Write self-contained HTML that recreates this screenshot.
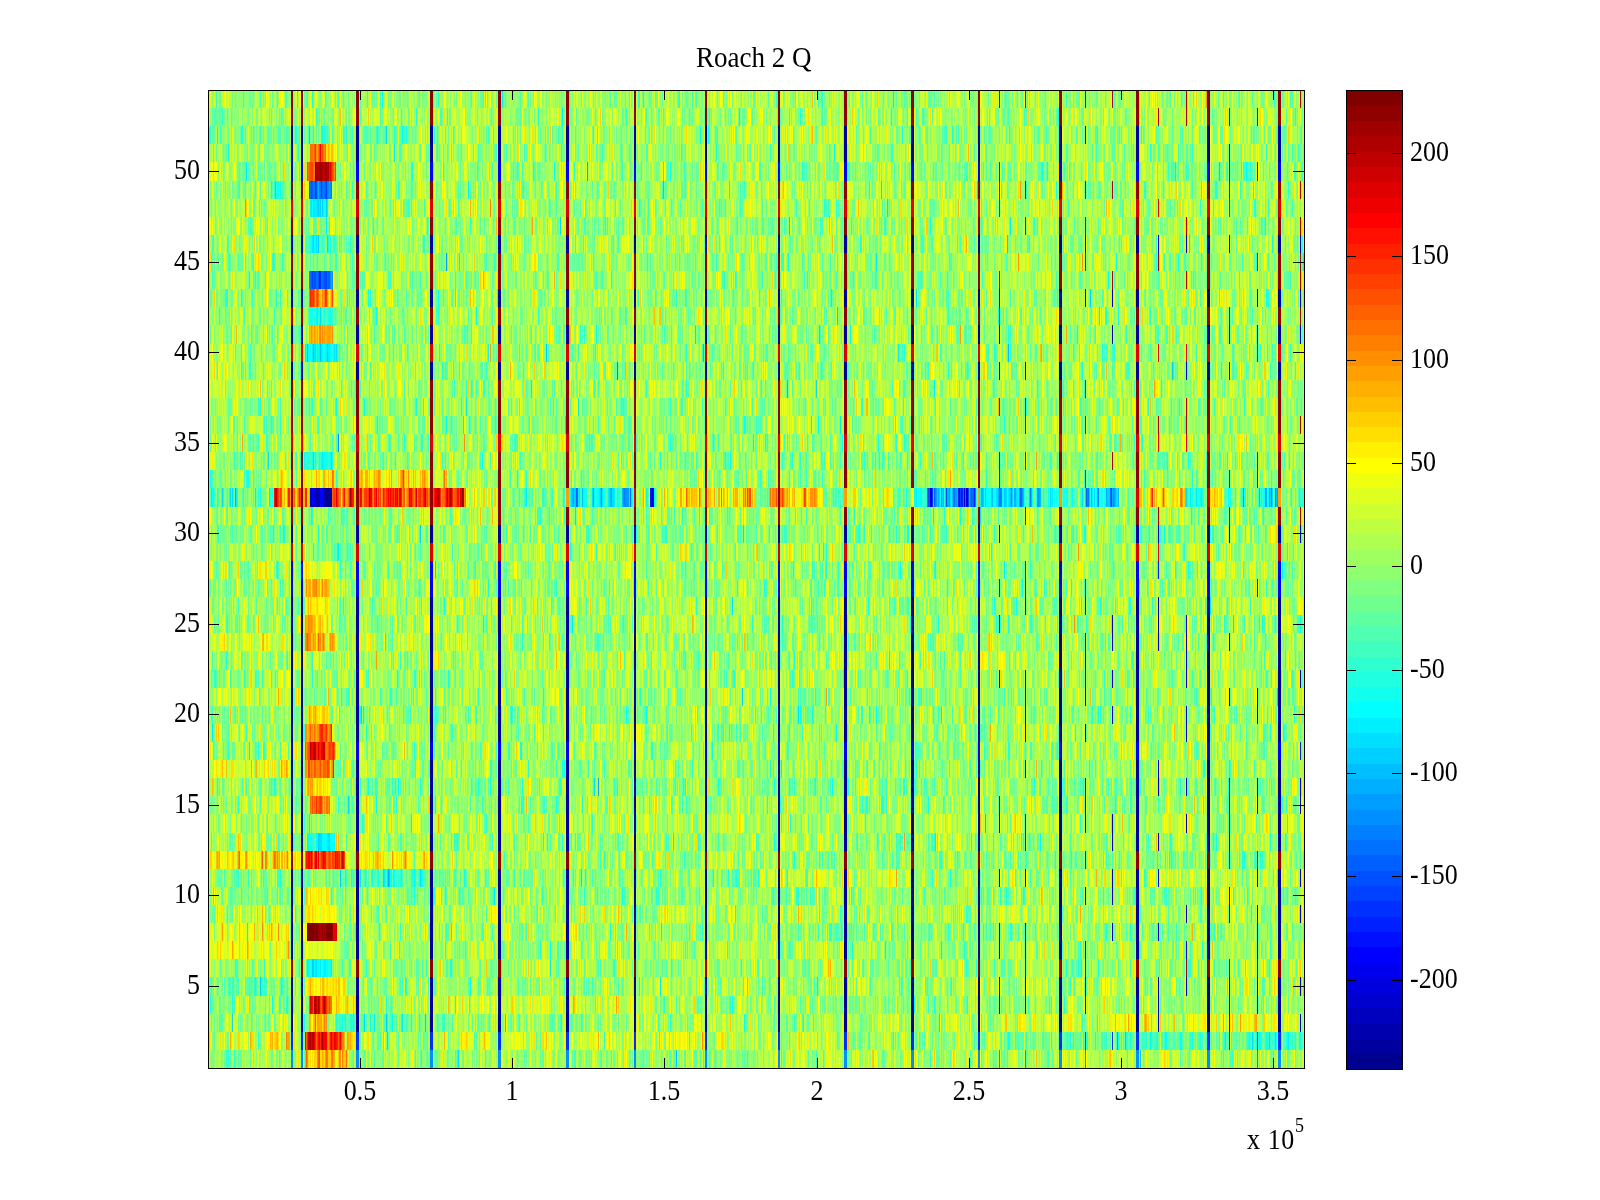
<!DOCTYPE html>
<html><head><meta charset="utf-8">
<style>
html,body{margin:0;padding:0;background:#fff;width:1600px;height:1200px;overflow:hidden}
#c{position:absolute;left:208px;top:90px;width:1097px;height:979px;image-rendering:pixelated}
svg{position:absolute;left:0;top:0}
.t{position:absolute;font-family:"Liberation Serif",serif;font-size:26px;line-height:26px;color:#000;white-space:nowrap;transform:scaleY(1.12);transform-origin:0 0}
.yl{text-align:right;width:60px}
.xl{text-align:center;width:80px}
</style></head><body>
<svg width="1600" height="1200" shape-rendering="crispEdges"><path fill="#80ff80" d="M208 886.9h1097v18.5h-1097zM208 868.8h1097v18.5h-1097zM208 778.2h1097v18.5h-1097zM208 705.8h1097v18.5h-1097zM208 524.7h1097v18.5h-1097z"/><path fill="#8fff70" d="M208 977.4h1097v18.5h-1097zM208 941.2h1097v18.5h-1097zM208 832.6h1097v18.5h-1097zM208 796.3h1097v18.5h-1097zM208 723.9h1097v18.5h-1097zM208 687.7h1097v18.5h-1097zM208 669.6h1097v18.5h-1097zM208 651.4h1097v18.5h-1097zM208 633.3h1097v18.5h-1097zM208 615.2h1097v18.5h-1097zM208 597.1h1097v18.5h-1097zM208 579.0h1097v18.5h-1097zM208 560.9h1097v18.5h-1097zM208 361.7h1097v18.5h-1097zM208 325.4h1097v18.5h-1097zM208 289.2h1097v18.5h-1097zM208 234.9h1097v18.5h-1097zM208 162.4h1097v18.5h-1097zM208 144.3h1097v18.5h-1097zM208 126.2h1097v18.5h-1097z"/><path fill="#9fff60" d="M208 1049.9h1097v18.5h-1097zM208 1031.8h1097v18.5h-1097zM208 1013.7h1097v18.5h-1097zM208 995.6h1097v18.5h-1097zM208 923.1h1097v18.5h-1097zM208 905.0h1097v18.5h-1097zM208 814.4h1097v18.5h-1097zM208 760.1h1097v18.5h-1097zM208 742.0h1097v18.5h-1097zM208 488.4h1097v18.5h-1097z"/><path fill="#afff50" d="M208 959.3h1097v18.5h-1097zM208 506.6h1097v18.5h-1097zM208 452.2h1097v18.5h-1097zM208 434.1h1097v18.5h-1097zM208 416.0h1097v18.5h-1097zM208 397.9h1097v18.5h-1097zM208 343.6h1097v18.5h-1097zM208 307.3h1097v18.5h-1097zM208 271.1h1097v18.5h-1097zM208 253.0h1097v18.5h-1097zM208 216.8h1097v18.5h-1097zM208 198.7h1097v18.5h-1097zM208 180.6h1097v18.5h-1097zM208 90.0h1097v18.5h-1097z"/><path fill="#bfff40" d="M208 542.8h1097v18.5h-1097zM208 470.3h1097v18.5h-1097zM208 379.8h1097v18.5h-1097zM208 108.1h1097v18.5h-1097z"/><path fill="#cfff30" d="M208 850.7h1097v18.5h-1097z"/><path fill="#00008f" d="M324 488.4h8v18.5h-8z"/><path fill="#0000af" d="M316 488.4h4v18.5h-4z"/><path fill="#0000df" d="M312 488.4h4v18.5h-4z"/><path fill="#0000ef" d="M320 488.4h4v18.5h-4z"/><path fill="#0000ff" d="M844 977.4h4v18.5h-4zM1136 941.2h4v18.5h-4zM356 868.8h4v18.5h-4zM1136 778.2h4v18.5h-4zM1136 760.1h4v18.5h-4zM844 723.9h4v18.5h-4zM356 705.8h4v18.5h-4zM964 488.4h4v18.5h-4z"/><path fill="#0010ff" d="M844 995.6h4v18.5h-4zM844 923.1h4v18.5h-4zM1136 905.0h4v18.5h-4zM356 796.3h4v18.5h-4zM844 778.2h4v18.5h-4zM844 760.1h4v18.5h-4zM356 723.9h4v18.5h-4zM844 651.4h4v18.5h-4zM1136 651.4h4v18.5h-4zM844 615.2h4v18.5h-4zM356 597.1h4v18.5h-4zM356 524.7h4v18.5h-4zM844 524.7h4v18.5h-4zM928 488.4h4v18.5h-4zM844 361.7h4v18.5h-4zM356 325.4h4v18.5h-4zM356 234.9h4v18.5h-4zM844 234.9h4v18.5h-4zM1136 144.3h4v18.5h-4z"/><path fill="#0020ff" d="M844 1013.7h4v18.5h-4zM356 995.6h4v18.5h-4zM1136 995.6h4v18.5h-4zM1136 977.4h4v18.5h-4zM356 941.2h4v18.5h-4zM844 941.2h4v18.5h-4zM356 923.1h4v18.5h-4zM1136 923.1h4v18.5h-4zM356 905.0h4v18.5h-4zM844 886.9h4v18.5h-4zM1136 886.9h4v18.5h-4zM844 868.8h4v18.5h-4zM356 832.6h4v18.5h-4zM844 832.6h4v18.5h-4zM356 814.4h4v18.5h-4zM844 814.4h4v18.5h-4zM844 796.3h4v18.5h-4zM1136 796.3h4v18.5h-4zM356 778.2h4v18.5h-4zM356 760.1h4v18.5h-4zM1136 723.9h4v18.5h-4zM844 705.8h4v18.5h-4zM1136 705.8h4v18.5h-4zM356 687.7h4v18.5h-4zM844 687.7h4v18.5h-4zM1136 687.7h4v18.5h-4zM1136 669.6h4v18.5h-4zM844 633.3h4v18.5h-4zM1136 633.3h4v18.5h-4zM356 615.2h4v18.5h-4zM1136 597.1h4v18.5h-4zM1136 524.7h4v18.5h-4zM356 361.7h4v18.5h-4zM1136 361.7h4v18.5h-4zM844 325.4h4v18.5h-4zM1136 325.4h4v18.5h-4zM844 289.2h4v18.5h-4zM1136 234.9h4v18.5h-4zM356 144.3h4v18.5h-4zM844 144.3h4v18.5h-4zM356 126.2h4v18.5h-4zM1136 126.2h4v18.5h-4z"/><path fill="#0030ff" d="M356 1013.7h4v18.5h-4zM1136 1013.7h4v18.5h-4zM356 977.4h4v18.5h-4zM844 905.0h4v18.5h-4zM356 886.9h4v18.5h-4zM1136 868.8h4v18.5h-4zM1136 832.6h4v18.5h-4zM1136 814.4h4v18.5h-4zM356 669.6h4v18.5h-4zM844 669.6h4v18.5h-4zM356 651.4h4v18.5h-4zM1136 615.2h4v18.5h-4zM844 597.1h4v18.5h-4zM356 289.2h4v18.5h-4zM1136 289.2h4v18.5h-4zM844 126.2h4v18.5h-4z"/><path fill="#0040ff" d="M356 633.3h4v18.5h-4zM1136 579.0h4v18.5h-4z"/><path fill="#0050ff" d="M956 488.4h8v18.5h-8zM312 271.1h16v18.5h-16zM844 162.4h4v18.5h-4z"/><path fill="#0060ff" d="M564 760.1h4v18.5h-4zM1276 687.7h4v18.5h-4zM356 579.0h4v18.5h-4zM1136 162.4h4v18.5h-4z"/><path fill="#0070ff" d="M912 995.6h4v18.5h-4zM912 778.2h4v18.5h-4zM1060 778.2h4v18.5h-4zM356 742.0h4v18.5h-4zM844 742.0h4v18.5h-4zM1136 742.0h4v18.5h-4zM1208 687.7h4v18.5h-4zM1208 597.1h4v18.5h-4zM844 560.9h4v18.5h-4zM968 488.4h8v18.5h-8zM312 180.6h16v18.5h-16zM1276 126.2h4v18.5h-4z"/><path fill="#0080ff" d="M356 1031.8h4v18.5h-4zM1136 1031.8h4v18.5h-4zM1276 995.6h4v18.5h-4zM564 977.4h4v18.5h-4zM564 941.2h4v18.5h-4zM428 923.1h4v18.5h-4zM1208 923.1h4v18.5h-4zM632 905.0h4v18.5h-4zM1060 905.0h4v18.5h-4zM976 886.9h4v18.5h-4zM300 868.8h4v18.5h-4zM428 868.8h4v18.5h-4zM564 868.8h4v18.5h-4zM976 832.6h4v18.5h-4zM632 796.3h4v18.5h-4zM1060 796.3h4v18.5h-4zM428 760.1h4v18.5h-4zM912 760.1h4v18.5h-4zM976 760.1h4v18.5h-4zM1208 723.9h4v18.5h-4zM776 651.4h4v18.5h-4zM976 615.2h4v18.5h-4zM1060 615.2h4v18.5h-4zM844 579.0h4v18.5h-4zM356 560.9h4v18.5h-4zM1136 560.9h4v18.5h-4zM632 524.7h4v18.5h-4zM652 488.4h4v18.5h-4zM932 488.4h4v18.5h-4zM300 361.7h4v18.5h-4zM776 325.4h4v18.5h-4zM496 289.2h4v18.5h-4zM328 271.1h4v18.5h-4zM1060 234.9h4v18.5h-4zM356 162.4h4v18.5h-4zM428 144.3h4v18.5h-4z"/><path fill="#008fff" d="M844 1031.8h4v18.5h-4zM300 1013.7h4v18.5h-4zM428 1013.7h4v18.5h-4zM776 995.6h4v18.5h-4zM1208 995.6h4v18.5h-4zM428 977.4h4v18.5h-4zM496 977.4h4v18.5h-4zM704 977.4h4v18.5h-4zM776 977.4h4v18.5h-4zM1060 977.4h4v18.5h-4zM300 941.2h4v18.5h-4zM704 941.2h4v18.5h-4zM1060 941.2h4v18.5h-4zM776 923.1h4v18.5h-4zM976 923.1h4v18.5h-4zM300 905.0h4v18.5h-4zM564 905.0h4v18.5h-4zM428 886.9h4v18.5h-4zM776 886.9h4v18.5h-4zM300 832.6h4v18.5h-4zM776 832.6h4v18.5h-4zM428 814.4h4v18.5h-4zM776 814.4h4v18.5h-4zM496 796.3h4v18.5h-4zM912 796.3h4v18.5h-4zM976 796.3h4v18.5h-4zM1276 796.3h4v18.5h-4zM300 778.2h4v18.5h-4zM776 778.2h4v18.5h-4zM1208 778.2h4v18.5h-4zM496 760.1h4v18.5h-4zM1208 760.1h4v18.5h-4zM300 723.9h4v18.5h-4zM976 723.9h4v18.5h-4zM300 705.8h4v18.5h-4zM496 705.8h4v18.5h-4zM776 705.8h4v18.5h-4zM1060 705.8h4v18.5h-4zM1208 705.8h4v18.5h-4zM1276 705.8h4v18.5h-4zM704 687.7h4v18.5h-4zM912 687.7h4v18.5h-4zM428 669.6h4v18.5h-4zM976 669.6h4v18.5h-4zM632 651.4h4v18.5h-4zM564 633.3h4v18.5h-4zM496 615.2h4v18.5h-4zM632 615.2h4v18.5h-4zM1208 615.2h4v18.5h-4zM1276 615.2h4v18.5h-4zM300 597.1h4v18.5h-4zM564 597.1h4v18.5h-4zM912 524.7h4v18.5h-4zM1208 524.7h4v18.5h-4zM624 488.4h4v18.5h-4zM952 488.4h4v18.5h-4zM1020 488.4h4v18.5h-4zM1108 488.4h8v18.5h-8zM912 361.7h4v18.5h-4zM976 361.7h4v18.5h-4zM1060 361.7h4v18.5h-4zM300 325.4h4v18.5h-4zM428 325.4h4v18.5h-4zM564 325.4h4v18.5h-4zM300 289.2h4v18.5h-4zM300 234.9h4v18.5h-4zM428 234.9h4v18.5h-4zM496 234.9h4v18.5h-4zM632 234.9h4v18.5h-4zM1276 234.9h4v18.5h-4zM328 180.6h4v18.5h-4zM496 144.3h4v18.5h-4zM632 126.2h4v18.5h-4zM976 126.2h4v18.5h-4z"/><path fill="#009fff" d="M496 1013.7h4v18.5h-4zM704 1013.7h4v18.5h-4zM776 1013.7h4v18.5h-4zM912 1013.7h4v18.5h-4zM976 1013.7h4v18.5h-4zM428 995.6h4v18.5h-4zM564 995.6h4v18.5h-4zM704 995.6h4v18.5h-4zM976 995.6h4v18.5h-4zM1060 995.6h4v18.5h-4zM300 977.4h4v18.5h-4zM632 977.4h4v18.5h-4zM776 941.2h4v18.5h-4zM976 941.2h4v18.5h-4zM912 923.1h4v18.5h-4zM1276 923.1h4v18.5h-4zM912 905.0h4v18.5h-4zM976 905.0h4v18.5h-4zM1208 905.0h4v18.5h-4zM1276 905.0h4v18.5h-4zM564 886.9h4v18.5h-4zM912 886.9h4v18.5h-4zM496 868.8h4v18.5h-4zM632 868.8h4v18.5h-4zM912 868.8h4v18.5h-4zM976 868.8h4v18.5h-4zM1060 868.8h4v18.5h-4zM496 832.6h4v18.5h-4zM704 832.6h4v18.5h-4zM1208 832.6h4v18.5h-4zM1276 832.6h4v18.5h-4zM496 814.4h4v18.5h-4zM632 814.4h4v18.5h-4zM1276 814.4h4v18.5h-4zM300 796.3h4v18.5h-4zM564 796.3h4v18.5h-4zM704 796.3h4v18.5h-4zM428 778.2h4v18.5h-4zM632 778.2h4v18.5h-4zM704 778.2h4v18.5h-4zM300 760.1h4v18.5h-4zM632 760.1h4v18.5h-4zM704 760.1h4v18.5h-4zM776 760.1h4v18.5h-4zM1060 760.1h4v18.5h-4zM976 742.0h4v18.5h-4zM428 723.9h4v18.5h-4zM776 723.9h4v18.5h-4zM912 723.9h4v18.5h-4zM1276 723.9h4v18.5h-4zM428 705.8h4v18.5h-4zM632 705.8h4v18.5h-4zM704 705.8h4v18.5h-4zM912 705.8h4v18.5h-4zM428 687.7h4v18.5h-4zM776 687.7h4v18.5h-4zM1060 687.7h4v18.5h-4zM564 669.6h4v18.5h-4zM632 669.6h4v18.5h-4zM1208 669.6h4v18.5h-4zM1276 669.6h4v18.5h-4zM428 651.4h4v18.5h-4zM704 651.4h4v18.5h-4zM976 651.4h4v18.5h-4zM428 633.3h4v18.5h-4zM496 633.3h4v18.5h-4zM776 633.3h4v18.5h-4zM912 633.3h4v18.5h-4zM564 615.2h4v18.5h-4zM776 615.2h4v18.5h-4zM912 615.2h4v18.5h-4zM428 597.1h4v18.5h-4zM496 597.1h4v18.5h-4zM776 597.1h4v18.5h-4zM976 597.1h4v18.5h-4zM1060 597.1h4v18.5h-4zM300 524.7h4v18.5h-4zM564 524.7h4v18.5h-4zM704 524.7h4v18.5h-4zM776 524.7h4v18.5h-4zM976 524.7h4v18.5h-4zM1060 524.7h4v18.5h-4zM704 361.7h4v18.5h-4zM776 361.7h4v18.5h-4zM1208 361.7h4v18.5h-4zM496 325.4h4v18.5h-4zM632 325.4h4v18.5h-4zM704 325.4h4v18.5h-4zM1060 325.4h4v18.5h-4zM1208 325.4h4v18.5h-4zM1276 325.4h4v18.5h-4zM428 289.2h4v18.5h-4zM704 289.2h4v18.5h-4zM1208 289.2h4v18.5h-4zM564 234.9h4v18.5h-4zM704 234.9h4v18.5h-4zM776 234.9h4v18.5h-4zM912 234.9h4v18.5h-4zM564 144.3h4v18.5h-4zM632 144.3h4v18.5h-4zM912 144.3h4v18.5h-4zM976 144.3h4v18.5h-4zM776 126.2h4v18.5h-4zM912 126.2h4v18.5h-4z"/><path fill="#00afff" d="M1276 1031.8h4v18.5h-4zM564 1013.7h4v18.5h-4zM1060 1013.7h4v18.5h-4zM300 995.6h4v18.5h-4zM912 977.4h4v18.5h-4zM1208 977.4h4v18.5h-4zM1276 977.4h4v18.5h-4zM428 941.2h4v18.5h-4zM496 941.2h4v18.5h-4zM632 941.2h4v18.5h-4zM912 941.2h4v18.5h-4zM1208 941.2h4v18.5h-4zM1276 941.2h4v18.5h-4zM496 923.1h4v18.5h-4zM704 923.1h4v18.5h-4zM1060 923.1h4v18.5h-4zM428 905.0h4v18.5h-4zM704 905.0h4v18.5h-4zM496 886.9h4v18.5h-4zM632 886.9h4v18.5h-4zM704 886.9h4v18.5h-4zM1060 886.9h4v18.5h-4zM1208 886.9h4v18.5h-4zM704 868.8h4v18.5h-4zM428 832.6h4v18.5h-4zM912 832.6h4v18.5h-4zM300 814.4h4v18.5h-4zM704 814.4h4v18.5h-4zM976 814.4h4v18.5h-4zM1060 814.4h4v18.5h-4zM1208 814.4h4v18.5h-4zM428 796.3h4v18.5h-4zM776 796.3h4v18.5h-4zM1208 796.3h4v18.5h-4zM564 778.2h4v18.5h-4zM1276 778.2h4v18.5h-4zM1276 760.1h4v18.5h-4zM912 742.0h4v18.5h-4zM496 723.9h4v18.5h-4zM632 723.9h4v18.5h-4zM704 723.9h4v18.5h-4zM1060 723.9h4v18.5h-4zM300 687.7h4v18.5h-4zM496 687.7h4v18.5h-4zM564 687.7h4v18.5h-4zM632 687.7h4v18.5h-4zM300 669.6h4v18.5h-4zM496 669.6h4v18.5h-4zM704 669.6h4v18.5h-4zM1060 669.6h4v18.5h-4zM564 651.4h4v18.5h-4zM912 651.4h4v18.5h-4zM1208 651.4h4v18.5h-4zM1276 651.4h4v18.5h-4zM300 633.3h4v18.5h-4zM632 633.3h4v18.5h-4zM1060 633.3h4v18.5h-4zM1208 633.3h4v18.5h-4zM1276 633.3h4v18.5h-4zM704 615.2h4v18.5h-4zM632 597.1h4v18.5h-4zM496 579.0h4v18.5h-4zM976 579.0h4v18.5h-4zM1208 579.0h4v18.5h-4zM1276 579.0h4v18.5h-4zM428 524.7h4v18.5h-4zM1276 524.7h4v18.5h-4zM572 488.4h8v18.5h-8zM428 361.7h4v18.5h-4zM564 361.7h4v18.5h-4zM632 361.7h4v18.5h-4zM1276 361.7h4v18.5h-4zM976 325.4h4v18.5h-4zM564 289.2h4v18.5h-4zM632 289.2h4v18.5h-4zM776 289.2h4v18.5h-4zM912 289.2h4v18.5h-4zM976 289.2h4v18.5h-4zM1060 289.2h4v18.5h-4zM1276 289.2h4v18.5h-4zM976 234.9h4v18.5h-4zM1208 234.9h4v18.5h-4zM300 144.3h4v18.5h-4zM776 144.3h4v18.5h-4zM1060 144.3h4v18.5h-4zM1276 144.3h4v18.5h-4zM300 126.2h4v18.5h-4zM428 126.2h4v18.5h-4zM564 126.2h4v18.5h-4zM704 126.2h4v18.5h-4z"/><path fill="#00bfff" d="M1208 1031.8h4v18.5h-4zM632 1013.7h4v18.5h-4zM496 995.6h4v18.5h-4zM632 995.6h4v18.5h-4zM976 977.4h4v18.5h-4zM564 923.1h4v18.5h-4zM776 905.0h4v18.5h-4zM300 886.9h4v18.5h-4zM1276 886.9h4v18.5h-4zM776 868.8h4v18.5h-4zM1208 868.8h4v18.5h-4zM564 832.6h4v18.5h-4zM632 832.6h4v18.5h-4zM1060 832.6h4v18.5h-4zM564 814.4h4v18.5h-4zM912 814.4h4v18.5h-4zM496 778.2h4v18.5h-4zM496 742.0h4v18.5h-4zM1208 742.0h4v18.5h-4zM564 723.9h4v18.5h-4zM564 705.8h4v18.5h-4zM976 705.8h4v18.5h-4zM976 687.7h4v18.5h-4zM912 669.6h4v18.5h-4zM496 651.4h4v18.5h-4zM1060 651.4h4v18.5h-4zM976 633.3h4v18.5h-4zM300 615.2h4v18.5h-4zM704 597.1h4v18.5h-4zM564 579.0h4v18.5h-4zM632 579.0h4v18.5h-4zM704 579.0h4v18.5h-4zM776 579.0h4v18.5h-4zM912 579.0h4v18.5h-4zM428 560.9h4v18.5h-4zM632 560.9h4v18.5h-4zM976 560.9h4v18.5h-4zM1208 560.9h4v18.5h-4zM1276 560.9h4v18.5h-4zM496 524.7h4v18.5h-4zM628 488.4h4v18.5h-4zM936 488.4h16v18.5h-16zM1036 488.4h4v18.5h-4zM496 361.7h4v18.5h-4zM308 180.6h4v18.5h-4zM632 162.4h4v18.5h-4zM776 162.4h4v18.5h-4zM1060 162.4h4v18.5h-4zM704 144.3h4v18.5h-4zM1208 144.3h4v18.5h-4zM496 126.2h4v18.5h-4zM1208 126.2h4v18.5h-4z"/><path fill="#00cfff" d="M356 1049.9h4v18.5h-4zM844 1049.9h4v18.5h-4zM1136 1049.9h4v18.5h-4zM912 1031.8h4v18.5h-4zM976 1031.8h4v18.5h-4zM1060 1031.8h4v18.5h-4zM1276 1013.7h4v18.5h-4zM300 923.1h4v18.5h-4zM632 923.1h4v18.5h-4zM496 905.0h4v18.5h-4zM1276 868.8h4v18.5h-4zM976 778.2h4v18.5h-4zM632 742.0h4v18.5h-4zM704 742.0h4v18.5h-4zM776 742.0h4v18.5h-4zM1276 742.0h4v18.5h-4zM776 669.6h4v18.5h-4zM300 651.4h4v18.5h-4zM704 633.3h4v18.5h-4zM428 615.2h4v18.5h-4zM912 597.1h4v18.5h-4zM1276 597.1h4v18.5h-4zM300 579.0h4v18.5h-4zM1060 579.0h4v18.5h-4zM300 560.9h4v18.5h-4zM496 560.9h4v18.5h-4zM912 560.9h4v18.5h-4zM608 488.4h4v18.5h-4zM648 488.4h4v18.5h-4zM980 488.4h4v18.5h-4zM996 488.4h24v18.5h-24zM1028 488.4h4v18.5h-4zM1084 488.4h8v18.5h-8zM912 325.4h4v18.5h-4zM308 271.1h4v18.5h-4zM496 162.4h4v18.5h-4zM564 162.4h4v18.5h-4zM976 162.4h4v18.5h-4zM1060 126.2h4v18.5h-4z"/><path fill="#00dfff" d="M300 1031.8h4v18.5h-4zM1256 1031.8h4v18.5h-4zM1208 1013.7h4v18.5h-4zM432 886.9h4v18.5h-4zM388 868.8h4v18.5h-4zM1280 796.3h4v18.5h-4zM300 742.0h4v18.5h-4zM428 742.0h4v18.5h-4zM564 742.0h4v18.5h-4zM908 687.7h4v18.5h-4zM564 560.9h4v18.5h-4zM704 560.9h4v18.5h-4zM776 560.9h4v18.5h-4zM1060 560.9h4v18.5h-4zM1096 488.4h4v18.5h-4zM1104 488.4h4v18.5h-4zM1264 488.4h12v18.5h-12zM312 343.6h4v18.5h-4zM300 162.4h4v18.5h-4zM428 162.4h4v18.5h-4zM912 162.4h4v18.5h-4zM1208 162.4h4v18.5h-4zM1276 162.4h4v18.5h-4z"/><path fill="#00efff" d="M428 1031.8h4v18.5h-4zM496 1031.8h4v18.5h-4zM1084 1031.8h4v18.5h-4zM568 1013.7h4v18.5h-4zM312 959.3h16v18.5h-16zM500 941.2h4v18.5h-4zM1056 923.1h4v18.5h-4zM1280 886.9h4v18.5h-4zM292 832.6h4v18.5h-4zM568 832.6h4v18.5h-4zM908 832.6h4v18.5h-4zM1228 814.4h4v18.5h-4zM432 796.3h4v18.5h-4zM288 778.2h4v18.5h-4zM500 778.2h4v18.5h-4zM1056 742.0h8v18.5h-8zM432 723.9h4v18.5h-4zM432 705.8h4v18.5h-4zM292 633.3h4v18.5h-4zM568 615.2h4v18.5h-4zM908 615.2h4v18.5h-4zM996 615.2h4v18.5h-4zM428 579.0h4v18.5h-4zM1056 524.7h4v18.5h-4zM1280 524.7h4v18.5h-4zM592 488.4h12v18.5h-12zM292 325.4h4v18.5h-4zM1056 289.2h4v18.5h-4zM312 234.9h8v18.5h-8zM312 198.7h16v18.5h-16zM704 162.4h4v18.5h-4z"/><path fill="#00ffff" d="M428 1049.9h4v18.5h-4zM632 1031.8h4v18.5h-4zM704 1031.8h4v18.5h-4zM776 1031.8h4v18.5h-4zM1056 995.6h4v18.5h-4zM432 977.4h4v18.5h-4zM500 977.4h4v18.5h-4zM1280 977.4h4v18.5h-4zM1300 977.4h4v18.5h-4zM1112 923.1h4v18.5h-4zM1256 923.1h4v18.5h-4zM432 905.0h4v18.5h-4zM308 832.6h24v18.5h-24zM1204 832.6h4v18.5h-4zM1056 796.3h4v18.5h-4zM1228 778.2h4v18.5h-4zM908 723.9h4v18.5h-4zM432 687.7h4v18.5h-4zM568 651.4h4v18.5h-4zM1204 633.3h4v18.5h-4zM1056 615.2h4v18.5h-4zM908 597.1h4v18.5h-4zM1056 597.1h4v18.5h-4zM1204 597.1h4v18.5h-4zM1280 560.9h4v18.5h-4zM500 524.7h4v18.5h-4zM908 524.7h4v18.5h-4zM1156 524.7h4v18.5h-4zM232 488.4h4v18.5h-4zM308 488.4h4v18.5h-4zM612 488.4h12v18.5h-12zM984 488.4h12v18.5h-12zM316 343.6h24v18.5h-24zM1204 325.4h4v18.5h-4zM288 126.2h8v18.5h-8zM908 126.2h4v18.5h-4z"/><path fill="#10ffef" d="M496 1049.9h4v18.5h-4zM564 1049.9h4v18.5h-4zM632 1049.9h4v18.5h-4zM704 1049.9h4v18.5h-4zM564 1031.8h4v18.5h-4zM1116 1031.8h4v18.5h-4zM1204 1031.8h4v18.5h-4zM500 1013.7h4v18.5h-4zM288 995.6h8v18.5h-8zM908 995.6h4v18.5h-4zM288 977.4h8v18.5h-8zM908 977.4h4v18.5h-4zM1056 977.4h4v18.5h-4zM1084 977.4h4v18.5h-4zM308 959.3h4v18.5h-4zM328 959.3h4v18.5h-4zM568 941.2h4v18.5h-4zM1084 941.2h4v18.5h-4zM1184 941.2h4v18.5h-4zM1256 941.2h4v18.5h-4zM1024 923.1h4v18.5h-4zM1156 923.1h4v18.5h-4zM288 886.9h8v18.5h-8zM500 886.9h4v18.5h-4zM568 886.9h4v18.5h-4zM908 886.9h4v18.5h-4zM288 868.8h8v18.5h-8zM384 868.8h4v18.5h-4zM412 868.8h4v18.5h-4zM420 868.8h4v18.5h-4zM432 868.8h4v18.5h-4zM288 796.3h8v18.5h-8zM1256 778.2h4v18.5h-4zM1280 778.2h4v18.5h-4zM500 760.1h4v18.5h-4zM1204 760.1h4v18.5h-4zM288 723.9h8v18.5h-8zM500 723.9h4v18.5h-4zM1056 723.9h4v18.5h-4zM568 705.8h4v18.5h-4zM1280 687.7h4v18.5h-4zM432 669.6h4v18.5h-4zM568 669.6h4v18.5h-4zM996 669.6h4v18.5h-4zM1280 669.6h4v18.5h-4zM432 633.3h4v18.5h-4zM1056 633.3h4v18.5h-4zM1280 633.3h4v18.5h-4zM288 615.2h8v18.5h-8zM288 597.1h8v18.5h-8zM432 524.7h4v18.5h-4zM580 488.4h8v18.5h-8zM916 488.4h12v18.5h-12zM1040 488.4h4v18.5h-4zM1048 488.4h8v18.5h-8zM1080 488.4h4v18.5h-4zM1092 488.4h4v18.5h-4zM1116 488.4h4v18.5h-4zM1196 488.4h8v18.5h-8zM1240 488.4h4v18.5h-4zM320 452.2h12v18.5h-12zM432 361.7h4v18.5h-4zM908 361.7h4v18.5h-4zM1184 361.7h4v18.5h-4zM1228 325.4h4v18.5h-4zM1280 325.4h4v18.5h-4zM500 289.2h4v18.5h-4zM1280 289.2h4v18.5h-4zM1300 289.2h4v18.5h-4zM288 234.9h8v18.5h-8zM908 162.4h4v18.5h-4zM1056 144.3h4v18.5h-4zM432 126.2h4v18.5h-4zM568 126.2h4v18.5h-4zM1204 126.2h4v18.5h-4zM1280 126.2h4v18.5h-4z"/><path fill="#20ffdf" d="M300 1049.9h4v18.5h-4zM1164 1031.8h4v18.5h-4zM288 1013.7h4v18.5h-4zM384 1013.7h4v18.5h-4zM908 1013.7h4v18.5h-4zM996 995.6h4v18.5h-4zM1024 995.6h4v18.5h-4zM1228 995.6h4v18.5h-4zM1256 995.6h4v18.5h-4zM260 977.4h4v18.5h-4zM432 941.2h4v18.5h-4zM1056 941.2h4v18.5h-4zM292 923.1h4v18.5h-4zM432 923.1h4v18.5h-4zM288 905.0h8v18.5h-8zM908 905.0h4v18.5h-4zM1056 905.0h4v18.5h-4zM1204 905.0h4v18.5h-4zM1280 905.0h4v18.5h-4zM1112 886.9h4v18.5h-4zM500 868.8h4v18.5h-4zM568 868.8h4v18.5h-4zM1056 868.8h4v18.5h-4zM1112 868.8h4v18.5h-4zM432 832.6h4v18.5h-4zM1024 832.6h4v18.5h-4zM1056 832.6h4v18.5h-4zM1228 832.6h4v18.5h-4zM1280 832.6h4v18.5h-4zM1084 814.4h4v18.5h-4zM1112 814.4h4v18.5h-4zM908 796.3h4v18.5h-4zM1204 796.3h4v18.5h-4zM1228 796.3h4v18.5h-4zM432 778.2h4v18.5h-4zM568 778.2h4v18.5h-4zM1156 778.2h4v18.5h-4zM568 760.1h4v18.5h-4zM908 760.1h4v18.5h-4zM500 742.0h4v18.5h-4zM568 723.9h4v18.5h-4zM1084 723.9h4v18.5h-4zM1280 723.9h4v18.5h-4zM288 705.8h8v18.5h-8zM360 705.8h4v18.5h-4zM1280 705.8h4v18.5h-4zM288 687.7h8v18.5h-8zM1024 687.7h4v18.5h-4zM1228 687.7h4v18.5h-4zM1256 687.7h4v18.5h-4zM500 669.6h4v18.5h-4zM1084 669.6h4v18.5h-4zM1204 669.6h4v18.5h-4zM1300 669.6h4v18.5h-4zM288 651.4h4v18.5h-4zM1204 651.4h4v18.5h-4zM1280 651.4h4v18.5h-4zM568 633.3h4v18.5h-4zM908 633.3h4v18.5h-4zM1084 633.3h4v18.5h-4zM1184 615.2h4v18.5h-4zM1024 597.1h4v18.5h-4zM1056 579.0h4v18.5h-4zM1084 579.0h4v18.5h-4zM908 560.9h4v18.5h-4zM1156 560.9h4v18.5h-4zM1300 524.7h4v18.5h-4zM524 488.4h4v18.5h-4zM1064 488.4h4v18.5h-4zM304 452.2h12v18.5h-12zM288 361.7h8v18.5h-8zM996 361.7h4v18.5h-4zM1172 361.7h4v18.5h-4zM1204 361.7h4v18.5h-4zM1280 361.7h4v18.5h-4zM304 343.6h8v18.5h-8zM908 325.4h4v18.5h-4zM1256 325.4h4v18.5h-4zM308 307.3h24v18.5h-24zM996 289.2h4v18.5h-4zM308 234.9h4v18.5h-4zM432 234.9h4v18.5h-4zM500 234.9h4v18.5h-4zM1156 234.9h4v18.5h-4zM1204 234.9h4v18.5h-4zM1300 234.9h4v18.5h-4zM1204 162.4h4v18.5h-4zM1228 162.4h4v18.5h-4zM1244 162.4h4v18.5h-4zM568 144.3h4v18.5h-4zM1204 144.3h4v18.5h-4zM1228 144.3h4v18.5h-4zM1280 144.3h4v18.5h-4zM1056 126.2h4v18.5h-4z"/><path fill="#30ffcf" d="M456 1049.9h4v18.5h-4zM976 1049.9h4v18.5h-4zM1060 1049.9h4v18.5h-4zM1208 1049.9h4v18.5h-4zM1124 1031.8h8v18.5h-8zM1180 1031.8h4v18.5h-4zM1224 1031.8h8v18.5h-8zM1248 1031.8h8v18.5h-8zM1260 1031.8h16v18.5h-16zM1280 1031.8h16v18.5h-16zM336 1013.7h20v18.5h-20zM1056 1013.7h4v18.5h-4zM1280 1013.7h4v18.5h-4zM500 995.6h4v18.5h-4zM1204 995.6h4v18.5h-4zM280 977.4h4v18.5h-4zM1204 977.4h4v18.5h-4zM1228 977.4h4v18.5h-4zM292 941.2h4v18.5h-4zM1204 941.2h4v18.5h-4zM908 923.1h4v18.5h-4zM996 923.1h4v18.5h-4zM500 905.0h4v18.5h-4zM568 905.0h4v18.5h-4zM1228 905.0h4v18.5h-4zM492 886.9h4v18.5h-4zM1056 886.9h4v18.5h-4zM340 868.8h8v18.5h-8zM392 868.8h4v18.5h-4zM400 868.8h4v18.5h-4zM736 868.8h4v18.5h-4zM996 868.8h4v18.5h-4zM1156 868.8h4v18.5h-4zM1204 868.8h4v18.5h-4zM500 832.6h4v18.5h-4zM932 832.6h4v18.5h-4zM1112 832.6h4v18.5h-4zM288 814.4h8v18.5h-8zM500 814.4h4v18.5h-4zM996 814.4h4v18.5h-4zM1024 814.4h4v18.5h-4zM1280 814.4h4v18.5h-4zM348 796.3h4v18.5h-4zM568 796.3h4v18.5h-4zM996 796.3h4v18.5h-4zM1084 796.3h4v18.5h-4zM292 778.2h4v18.5h-4zM1080 778.2h8v18.5h-8zM1184 778.2h4v18.5h-4zM1204 778.2h4v18.5h-4zM1280 760.1h4v18.5h-4zM432 742.0h4v18.5h-4zM908 742.0h4v18.5h-4zM1184 723.9h4v18.5h-4zM500 705.8h4v18.5h-4zM644 705.8h4v18.5h-4zM1184 705.8h4v18.5h-4zM1204 705.8h4v18.5h-4zM1256 705.8h4v18.5h-4zM568 687.7h4v18.5h-4zM1056 669.6h4v18.5h-4zM1112 669.6h4v18.5h-4zM500 651.4h4v18.5h-4zM1084 651.4h4v18.5h-4zM500 633.3h4v18.5h-4zM1112 633.3h4v18.5h-4zM1156 633.3h4v18.5h-4zM432 597.1h4v18.5h-4zM1084 597.1h4v18.5h-4zM288 579.0h8v18.5h-8zM500 579.0h4v18.5h-4zM996 579.0h4v18.5h-4zM288 560.9h8v18.5h-8zM336 542.8h4v18.5h-4zM288 524.7h8v18.5h-8zM568 524.7h4v18.5h-4zM996 524.7h4v18.5h-4zM208 488.4h8v18.5h-8zM220 488.4h4v18.5h-4zM228 488.4h4v18.5h-4zM604 488.4h4v18.5h-4zM1100 488.4h4v18.5h-4zM1184 488.4h12v18.5h-12zM1256 488.4h8v18.5h-8zM1008 343.6h4v18.5h-4zM288 325.4h4v18.5h-4zM500 325.4h4v18.5h-4zM568 325.4h4v18.5h-4zM1300 325.4h4v18.5h-4zM288 289.2h8v18.5h-8zM432 289.2h4v18.5h-4zM272 253.0h4v18.5h-4zM1056 234.9h4v18.5h-4zM432 162.4h4v18.5h-4zM996 162.4h4v18.5h-4zM1040 162.4h4v18.5h-4zM1172 162.4h4v18.5h-4zM288 144.3h8v18.5h-8zM500 144.3h4v18.5h-4zM320 126.2h8v18.5h-8zM500 126.2h4v18.5h-4z"/><path fill="#40ffbf" d="M776 1049.9h4v18.5h-4zM1276 1049.9h4v18.5h-4zM500 1031.8h4v18.5h-4zM908 1031.8h4v18.5h-4zM1140 1031.8h20v18.5h-20zM372 1013.7h4v18.5h-4zM1084 995.6h4v18.5h-4zM1280 995.6h4v18.5h-4zM208 977.4h4v18.5h-4zM248 977.4h8v18.5h-8zM568 977.4h4v18.5h-4zM996 977.4h4v18.5h-4zM1184 977.4h4v18.5h-4zM1256 977.4h4v18.5h-4zM1188 959.3h4v18.5h-4zM908 941.2h4v18.5h-4zM996 941.2h4v18.5h-4zM1024 941.2h4v18.5h-4zM1280 941.2h4v18.5h-4zM500 923.1h4v18.5h-4zM568 923.1h4v18.5h-4zM1104 923.1h4v18.5h-4zM1280 923.1h4v18.5h-4zM1184 905.0h4v18.5h-4zM796 886.9h4v18.5h-4zM352 868.8h4v18.5h-4zM372 868.8h8v18.5h-8zM908 868.8h4v18.5h-4zM1256 868.8h4v18.5h-4zM1280 868.8h4v18.5h-4zM1260 850.7h4v18.5h-4zM332 832.6h4v18.5h-4zM456 832.6h4v18.5h-4zM568 814.4h4v18.5h-4zM908 814.4h4v18.5h-4zM1204 814.4h4v18.5h-4zM500 796.3h4v18.5h-4zM520 796.3h4v18.5h-4zM864 796.3h4v18.5h-4zM1256 796.3h4v18.5h-4zM272 778.2h4v18.5h-4zM392 778.2h4v18.5h-4zM592 778.2h4v18.5h-4zM908 778.2h4v18.5h-4zM1056 778.2h4v18.5h-4zM288 760.1h8v18.5h-8zM432 760.1h4v18.5h-4zM1024 760.1h4v18.5h-4zM1056 760.1h4v18.5h-4zM1156 760.1h4v18.5h-4zM288 742.0h8v18.5h-8zM1280 742.0h4v18.5h-4zM1300 742.0h4v18.5h-4zM720 723.9h4v18.5h-4zM796 705.8h8v18.5h-8zM908 705.8h4v18.5h-4zM1056 705.8h4v18.5h-4zM1112 705.8h4v18.5h-4zM1056 687.7h4v18.5h-4zM1084 687.7h4v18.5h-4zM1204 687.7h4v18.5h-4zM288 669.6h8v18.5h-8zM732 669.6h4v18.5h-4zM908 669.6h4v18.5h-4zM1024 669.6h4v18.5h-4zM1184 669.6h4v18.5h-4zM908 651.4h4v18.5h-4zM1056 651.4h4v18.5h-4zM288 633.3h4v18.5h-4zM596 633.3h4v18.5h-4zM1228 633.3h4v18.5h-4zM432 615.2h4v18.5h-4zM500 615.2h4v18.5h-4zM1112 615.2h4v18.5h-4zM1204 615.2h4v18.5h-4zM1224 615.2h4v18.5h-4zM500 597.1h4v18.5h-4zM568 597.1h4v18.5h-4zM1280 597.1h4v18.5h-4zM908 579.0h4v18.5h-4zM1024 579.0h4v18.5h-4zM1256 579.0h4v18.5h-4zM1280 579.0h4v18.5h-4zM276 560.9h4v18.5h-4zM500 560.9h4v18.5h-4zM1024 560.9h4v18.5h-4zM1204 560.9h4v18.5h-4zM740 524.7h4v18.5h-4zM856 524.7h4v18.5h-4zM1204 524.7h4v18.5h-4zM1228 524.7h4v18.5h-4zM1244 488.4h4v18.5h-4zM208 470.3h4v18.5h-4zM336 434.1h4v18.5h-4zM744 416.0h4v18.5h-4zM620 397.9h4v18.5h-4zM500 361.7h4v18.5h-4zM568 361.7h4v18.5h-4zM1024 361.7h4v18.5h-4zM1056 361.7h4v18.5h-4zM544 343.6h4v18.5h-4zM996 325.4h4v18.5h-4zM1056 325.4h4v18.5h-4zM224 289.2h4v18.5h-4zM568 289.2h4v18.5h-4zM828 289.2h4v18.5h-4zM908 289.2h4v18.5h-4zM1112 289.2h4v18.5h-4zM1256 289.2h4v18.5h-4zM320 234.9h16v18.5h-16zM1084 234.9h4v18.5h-4zM1184 234.9h4v18.5h-4zM1280 234.9h4v18.5h-4zM272 180.6h12v18.5h-12zM500 162.4h4v18.5h-4zM1280 162.4h4v18.5h-4zM432 144.3h4v18.5h-4zM376 126.2h4v18.5h-4zM384 126.2h4v18.5h-4zM400 126.2h8v18.5h-8zM1084 126.2h4v18.5h-4z"/><path fill="#50ffaf" d="M224 1049.9h8v18.5h-8zM288 1049.9h8v18.5h-8zM432 1049.9h4v18.5h-4zM676 1049.9h4v18.5h-4zM912 1049.9h4v18.5h-4zM1024 1049.9h4v18.5h-4zM1004 1031.8h8v18.5h-8zM1016 1031.8h8v18.5h-8zM1056 1031.8h4v18.5h-4zM1064 1031.8h12v18.5h-12zM1112 1031.8h4v18.5h-4zM1188 1031.8h16v18.5h-16zM1296 1031.8h8v18.5h-8zM292 1013.7h4v18.5h-4zM400 1013.7h8v18.5h-8zM432 1013.7h8v18.5h-8zM744 1013.7h4v18.5h-4zM1300 1013.7h4v18.5h-4zM284 995.6h4v18.5h-4zM432 995.6h4v18.5h-4zM1048 995.6h4v18.5h-4zM1156 995.6h4v18.5h-4zM228 977.4h4v18.5h-4zM468 977.4h4v18.5h-4zM1156 977.4h4v18.5h-4zM612 959.3h4v18.5h-4zM964 941.2h4v18.5h-4zM288 923.1h4v18.5h-4zM828 923.1h4v18.5h-4zM836 923.1h8v18.5h-8zM928 923.1h4v18.5h-4zM1008 923.1h4v18.5h-4zM1204 923.1h4v18.5h-4zM1256 905.0h4v18.5h-4zM896 850.7h4v18.5h-4zM896 832.6h4v18.5h-4zM1212 832.6h4v18.5h-4zM308 814.4h4v18.5h-4zM432 814.4h4v18.5h-4zM484 814.4h4v18.5h-4zM1056 814.4h4v18.5h-4zM556 796.3h4v18.5h-4zM880 796.3h4v18.5h-4zM1064 796.3h4v18.5h-4zM412 760.1h4v18.5h-4zM628 760.1h4v18.5h-4zM508 742.0h4v18.5h-4zM1204 742.0h4v18.5h-4zM1024 723.9h4v18.5h-4zM1264 723.9h4v18.5h-4zM388 687.7h4v18.5h-4zM500 687.7h4v18.5h-4zM212 669.6h4v18.5h-4zM292 651.4h4v18.5h-4zM432 651.4h4v18.5h-4zM1184 651.4h4v18.5h-4zM808 615.2h4v18.5h-4zM1128 597.1h4v18.5h-4zM1152 597.1h8v18.5h-8zM764 579.0h4v18.5h-4zM868 560.9h4v18.5h-4zM1056 560.9h4v18.5h-4zM308 506.6h4v18.5h-4zM340 506.6h8v18.5h-8zM536 506.6h4v18.5h-4zM960 506.6h4v18.5h-4zM236 488.4h8v18.5h-8zM268 488.4h4v18.5h-4zM528 488.4h4v18.5h-4zM568 488.4h4v18.5h-4zM832 488.4h12v18.5h-12zM896 488.4h4v18.5h-4zM1024 488.4h4v18.5h-4zM1032 488.4h4v18.5h-4zM1068 488.4h8v18.5h-8zM1224 488.4h8v18.5h-8zM1296 488.4h8v18.5h-8zM316 452.2h4v18.5h-4zM724 452.2h8v18.5h-8zM388 434.1h4v18.5h-4zM512 434.1h4v18.5h-4zM584 434.1h8v18.5h-8zM668 434.1h8v18.5h-8zM764 434.1h4v18.5h-4zM376 416.0h4v18.5h-4zM468 416.0h4v18.5h-4zM1080 397.9h8v18.5h-8zM1260 397.9h4v18.5h-4zM784 379.8h4v18.5h-4zM444 361.7h4v18.5h-4zM616 361.7h4v18.5h-4zM744 361.7h4v18.5h-4zM784 361.7h4v18.5h-4zM820 361.7h4v18.5h-4zM1228 361.7h8v18.5h-8zM700 343.6h4v18.5h-4zM1100 343.6h8v18.5h-8zM432 325.4h4v18.5h-4zM464 325.4h4v18.5h-4zM956 325.4h4v18.5h-4zM1112 325.4h4v18.5h-4zM684 289.2h4v18.5h-4zM916 289.2h4v18.5h-4zM1084 289.2h8v18.5h-8zM440 253.0h8v18.5h-8zM780 253.0h4v18.5h-4zM948 253.0h4v18.5h-4zM908 234.9h4v18.5h-4zM920 234.9h4v18.5h-4zM248 216.8h4v18.5h-4zM604 216.8h4v18.5h-4zM884 216.8h4v18.5h-4zM308 198.7h4v18.5h-4zM404 198.7h8v18.5h-8zM824 198.7h4v18.5h-4zM236 180.6h4v18.5h-4zM468 180.6h4v18.5h-4zM244 162.4h4v18.5h-4zM288 162.4h8v18.5h-8zM516 162.4h4v18.5h-4zM532 162.4h4v18.5h-4zM964 162.4h4v18.5h-4zM1248 162.4h4v18.5h-4zM240 126.2h4v18.5h-4zM296 126.2h4v18.5h-4zM308 126.2h4v18.5h-4zM344 126.2h4v18.5h-4zM364 126.2h4v18.5h-4zM316 108.1h4v18.5h-4zM708 108.1h4v18.5h-4z"/><path fill="#60ff9f" d="M572 1049.9h4v18.5h-4zM744 1049.9h4v18.5h-4zM992 1049.9h8v18.5h-8zM1056 1049.9h4v18.5h-4zM424 1031.8h4v18.5h-4zM432 1031.8h4v18.5h-4zM568 1031.8h4v18.5h-4zM852 1031.8h4v18.5h-4zM892 1031.8h4v18.5h-4zM1032 1031.8h4v18.5h-4zM1080 1031.8h4v18.5h-4zM1092 1031.8h4v18.5h-4zM1100 1031.8h8v18.5h-8zM1168 1031.8h12v18.5h-12zM1216 1031.8h4v18.5h-4zM1244 1031.8h4v18.5h-4zM220 1013.7h4v18.5h-4zM360 1013.7h8v18.5h-8zM388 1013.7h8v18.5h-8zM580 1013.7h4v18.5h-4zM936 1013.7h4v18.5h-4zM1156 1013.7h4v18.5h-4zM1204 1013.7h4v18.5h-4zM232 995.6h4v18.5h-4zM568 995.6h4v18.5h-4zM728 995.6h4v18.5h-4zM932 995.6h4v18.5h-4zM964 995.6h4v18.5h-4zM1180 995.6h4v18.5h-4zM296 959.3h4v18.5h-4zM348 959.3h4v18.5h-4zM444 959.3h8v18.5h-8zM716 959.3h4v18.5h-4zM804 959.3h4v18.5h-4zM896 959.3h4v18.5h-4zM932 959.3h4v18.5h-4zM964 959.3h4v18.5h-4zM1000 959.3h4v18.5h-4zM1064 959.3h4v18.5h-4zM1072 959.3h12v18.5h-12zM1156 959.3h4v18.5h-4zM848 923.1h4v18.5h-4zM872 923.1h4v18.5h-4zM948 923.1h4v18.5h-4zM988 923.1h4v18.5h-4zM1128 923.1h4v18.5h-4zM1212 923.1h4v18.5h-4zM1220 923.1h4v18.5h-4zM636 905.0h4v18.5h-4zM764 905.0h4v18.5h-4zM840 905.0h4v18.5h-4zM1300 905.0h4v18.5h-4zM604 850.7h4v18.5h-4zM792 850.7h4v18.5h-4zM956 850.7h4v18.5h-4zM1164 850.7h12v18.5h-12zM360 814.4h4v18.5h-4zM1184 814.4h4v18.5h-4zM560 760.1h4v18.5h-4zM736 760.1h4v18.5h-4zM1228 760.1h4v18.5h-4zM392 742.0h4v18.5h-4zM520 742.0h4v18.5h-4zM652 742.0h4v18.5h-4zM664 742.0h4v18.5h-4zM916 742.0h4v18.5h-4zM984 742.0h4v18.5h-4zM1196 742.0h4v18.5h-4zM1260 742.0h4v18.5h-4zM332 542.8h4v18.5h-4zM388 506.6h4v18.5h-4zM548 506.6h4v18.5h-4zM668 506.6h4v18.5h-4zM924 506.6h4v18.5h-4zM972 506.6h4v18.5h-4zM216 488.4h4v18.5h-4zM252 488.4h12v18.5h-12zM544 488.4h4v18.5h-4zM644 488.4h4v18.5h-4zM764 488.4h4v18.5h-4zM824 488.4h4v18.5h-4zM904 488.4h4v18.5h-4zM1044 488.4h4v18.5h-4zM244 470.3h8v18.5h-8zM932 470.3h4v18.5h-4zM1144 470.3h4v18.5h-4zM268 452.2h4v18.5h-4zM380 452.2h4v18.5h-4zM684 452.2h4v18.5h-4zM864 452.2h4v18.5h-4zM872 452.2h12v18.5h-12zM960 452.2h4v18.5h-4zM1048 452.2h4v18.5h-4zM1096 452.2h4v18.5h-4zM1132 452.2h4v18.5h-4zM1156 452.2h12v18.5h-12zM1188 452.2h4v18.5h-4zM420 434.1h4v18.5h-4zM628 434.1h4v18.5h-4zM712 434.1h8v18.5h-8zM840 434.1h4v18.5h-4zM876 434.1h4v18.5h-4zM904 434.1h4v18.5h-4zM264 416.0h8v18.5h-8zM444 416.0h8v18.5h-8zM492 416.0h4v18.5h-4zM624 416.0h8v18.5h-8zM756 416.0h4v18.5h-4zM840 416.0h4v18.5h-4zM900 416.0h4v18.5h-4zM1168 416.0h4v18.5h-4zM256 397.9h4v18.5h-4zM296 397.9h4v18.5h-4zM308 397.9h4v18.5h-4zM364 397.9h4v18.5h-4zM668 397.9h4v18.5h-4zM680 397.9h4v18.5h-4zM760 397.9h4v18.5h-4zM1176 397.9h4v18.5h-4zM528 379.8h4v18.5h-4zM932 379.8h4v18.5h-4zM992 379.8h4v18.5h-4zM1036 379.8h4v18.5h-4zM248 343.6h4v18.5h-4zM592 343.6h4v18.5h-4zM744 343.6h4v18.5h-4zM764 343.6h4v18.5h-4zM896 343.6h8v18.5h-8zM992 343.6h4v18.5h-4zM1112 343.6h4v18.5h-4zM1272 343.6h4v18.5h-4zM332 307.3h8v18.5h-8zM372 307.3h4v18.5h-4zM436 307.3h4v18.5h-4zM248 271.1h12v18.5h-12zM352 271.1h4v18.5h-4zM388 271.1h4v18.5h-4zM724 271.1h4v18.5h-4zM804 271.1h4v18.5h-4zM1156 271.1h4v18.5h-4zM1192 271.1h4v18.5h-4zM228 253.0h4v18.5h-4zM384 253.0h4v18.5h-4zM484 253.0h4v18.5h-4zM492 253.0h4v18.5h-4zM644 253.0h4v18.5h-4zM740 253.0h4v18.5h-4zM1176 253.0h4v18.5h-4zM1184 253.0h4v18.5h-4zM320 216.8h8v18.5h-8zM512 216.8h4v18.5h-4zM820 216.8h4v18.5h-4zM928 216.8h4v18.5h-4zM1008 216.8h4v18.5h-4zM700 198.7h4v18.5h-4zM740 198.7h4v18.5h-4zM836 198.7h4v18.5h-4zM1120 198.7h4v18.5h-4zM1252 198.7h4v18.5h-4zM396 180.6h4v18.5h-4zM660 180.6h8v18.5h-8zM740 180.6h4v18.5h-4zM1144 180.6h4v18.5h-4zM560 108.1h4v18.5h-4zM1292 108.1h4v18.5h-4zM480 90.0h4v18.5h-4zM676 90.0h4v18.5h-4zM892 90.0h4v18.5h-4zM904 90.0h4v18.5h-4zM928 90.0h4v18.5h-4zM1004 90.0h4v18.5h-4zM1076 90.0h4v18.5h-4z"/><path fill="#70ff8f" d="M236 959.3h4v18.5h-4zM304 959.3h4v18.5h-4zM340 959.3h4v18.5h-4zM364 959.3h4v18.5h-4zM396 959.3h8v18.5h-8zM556 959.3h4v18.5h-4zM596 959.3h4v18.5h-4zM660 959.3h4v18.5h-4zM740 959.3h4v18.5h-4zM1008 959.3h4v18.5h-4zM1216 959.3h4v18.5h-4zM1268 959.3h4v18.5h-4zM504 850.7h4v18.5h-4zM760 850.7h4v18.5h-4zM1004 850.7h8v18.5h-8zM1020 850.7h8v18.5h-8zM1052 850.7h4v18.5h-4zM1068 850.7h16v18.5h-16zM1184 850.7h12v18.5h-12zM1236 850.7h12v18.5h-12zM1252 850.7h4v18.5h-4zM340 542.8h12v18.5h-12zM376 542.8h4v18.5h-4zM468 542.8h4v18.5h-4zM476 542.8h8v18.5h-8zM824 542.8h4v18.5h-4zM1068 542.8h4v18.5h-4zM1104 542.8h8v18.5h-8zM328 506.6h4v18.5h-4zM368 506.6h4v18.5h-4zM448 506.6h4v18.5h-4zM572 506.6h4v18.5h-4zM708 506.6h4v18.5h-4zM724 506.6h8v18.5h-8zM848 506.6h4v18.5h-4zM884 506.6h4v18.5h-4zM980 506.6h4v18.5h-4zM1048 506.6h4v18.5h-4zM1128 506.6h4v18.5h-4zM1224 506.6h4v18.5h-4zM1244 506.6h4v18.5h-4zM1252 506.6h4v18.5h-4zM1268 506.6h4v18.5h-4zM212 470.3h4v18.5h-4zM524 470.3h4v18.5h-4zM580 470.3h8v18.5h-8zM716 470.3h4v18.5h-4zM756 470.3h8v18.5h-8zM768 470.3h8v18.5h-8zM812 470.3h4v18.5h-4zM984 470.3h4v18.5h-4zM1000 470.3h4v18.5h-4zM1088 470.3h4v18.5h-4zM1164 470.3h4v18.5h-4zM232 452.2h4v18.5h-4zM240 452.2h4v18.5h-4zM404 452.2h4v18.5h-4zM468 452.2h4v18.5h-4zM480 452.2h4v18.5h-4zM520 452.2h4v18.5h-4zM648 452.2h4v18.5h-4zM660 452.2h4v18.5h-4zM780 452.2h4v18.5h-4zM800 452.2h8v18.5h-8zM820 452.2h4v18.5h-4zM896 452.2h4v18.5h-4zM928 452.2h4v18.5h-4zM972 452.2h4v18.5h-4zM1212 452.2h4v18.5h-4zM1224 452.2h4v18.5h-4zM1296 452.2h4v18.5h-4zM248 434.1h12v18.5h-12zM264 434.1h4v18.5h-4zM352 434.1h4v18.5h-4zM376 434.1h4v18.5h-4zM620 434.1h4v18.5h-4zM636 434.1h4v18.5h-4zM784 434.1h4v18.5h-4zM812 434.1h4v18.5h-4zM980 434.1h4v18.5h-4zM996 434.1h4v18.5h-4zM1108 434.1h4v18.5h-4zM1116 434.1h4v18.5h-4zM1132 434.1h4v18.5h-4zM1140 434.1h4v18.5h-4zM316 416.0h4v18.5h-4zM692 416.0h4v18.5h-4zM816 416.0h4v18.5h-4zM1236 416.0h4v18.5h-4zM228 397.9h4v18.5h-4zM244 397.9h4v18.5h-4zM268 397.9h4v18.5h-4zM320 397.9h4v18.5h-4zM392 397.9h4v18.5h-4zM416 397.9h4v18.5h-4zM460 397.9h8v18.5h-8zM488 397.9h4v18.5h-4zM508 397.9h4v18.5h-4zM524 397.9h4v18.5h-4zM584 397.9h4v18.5h-4zM660 397.9h4v18.5h-4zM872 397.9h4v18.5h-4zM1000 397.9h4v18.5h-4zM1048 397.9h4v18.5h-4zM1096 397.9h4v18.5h-4zM1116 397.9h4v18.5h-4zM1156 397.9h4v18.5h-4zM1212 397.9h4v18.5h-4zM1296 397.9h4v18.5h-4zM352 379.8h4v18.5h-4zM552 379.8h4v18.5h-4zM680 379.8h8v18.5h-8zM760 379.8h8v18.5h-8zM904 379.8h4v18.5h-4zM272 343.6h4v18.5h-4zM448 343.6h4v18.5h-4zM516 343.6h4v18.5h-4zM536 343.6h4v18.5h-4zM572 343.6h4v18.5h-4zM684 343.6h4v18.5h-4zM1128 343.6h4v18.5h-4zM1148 343.6h4v18.5h-4zM1232 343.6h4v18.5h-4zM1288 343.6h4v18.5h-4zM344 307.3h4v18.5h-4zM400 307.3h4v18.5h-4zM520 307.3h4v18.5h-4zM596 307.3h4v18.5h-4zM620 307.3h8v18.5h-8zM752 307.3h4v18.5h-4zM792 307.3h4v18.5h-4zM824 307.3h4v18.5h-4zM836 307.3h4v18.5h-4zM948 307.3h4v18.5h-4zM1000 307.3h4v18.5h-4zM1020 307.3h4v18.5h-4zM1104 307.3h4v18.5h-4zM1148 307.3h4v18.5h-4zM212 271.1h4v18.5h-4zM360 271.1h4v18.5h-4zM412 271.1h4v18.5h-4zM468 271.1h4v18.5h-4zM596 271.1h8v18.5h-8zM652 271.1h4v18.5h-4zM760 271.1h4v18.5h-4zM872 271.1h4v18.5h-4zM916 271.1h8v18.5h-8zM1080 271.1h4v18.5h-4zM1284 271.1h8v18.5h-8zM280 253.0h4v18.5h-4zM316 253.0h4v18.5h-4zM508 253.0h4v18.5h-4zM556 253.0h4v18.5h-4zM576 253.0h8v18.5h-8zM684 253.0h4v18.5h-4zM692 253.0h4v18.5h-4zM712 253.0h4v18.5h-4zM764 253.0h4v18.5h-4zM868 253.0h4v18.5h-4zM876 253.0h4v18.5h-4zM1004 253.0h4v18.5h-4zM1200 253.0h4v18.5h-4zM1240 253.0h4v18.5h-4zM264 216.8h4v18.5h-4zM312 216.8h4v18.5h-4zM372 216.8h4v18.5h-4zM584 216.8h4v18.5h-4zM620 216.8h4v18.5h-4zM716 216.8h4v18.5h-4zM760 216.8h4v18.5h-4zM768 216.8h4v18.5h-4zM840 216.8h4v18.5h-4zM848 216.8h4v18.5h-4zM980 216.8h4v18.5h-4zM1032 216.8h4v18.5h-4zM1132 216.8h4v18.5h-4zM1144 216.8h4v18.5h-4zM1260 216.8h8v18.5h-8zM448 198.7h4v18.5h-4zM548 198.7h4v18.5h-4zM716 198.7h8v18.5h-8zM884 198.7h8v18.5h-8zM932 198.7h4v18.5h-4zM968 198.7h4v18.5h-4zM1168 198.7h4v18.5h-4zM408 180.6h4v18.5h-4zM460 180.6h4v18.5h-4zM540 180.6h4v18.5h-4zM596 180.6h4v18.5h-4zM636 180.6h4v18.5h-4zM680 180.6h8v18.5h-8zM1088 180.6h4v18.5h-4zM1096 180.6h4v18.5h-4zM1192 180.6h4v18.5h-4zM1212 180.6h8v18.5h-8zM1240 180.6h4v18.5h-4zM212 108.1h16v18.5h-16zM280 108.1h4v18.5h-4zM440 108.1h4v18.5h-4zM516 108.1h4v18.5h-4zM624 108.1h4v18.5h-4zM656 108.1h4v18.5h-4zM688 108.1h4v18.5h-4zM1004 108.1h8v18.5h-8zM1080 108.1h4v18.5h-4zM216 90.0h4v18.5h-4zM240 90.0h4v18.5h-4zM260 90.0h4v18.5h-4zM284 90.0h4v18.5h-4zM304 90.0h4v18.5h-4zM380 90.0h4v18.5h-4zM416 90.0h4v18.5h-4zM636 90.0h4v18.5h-4zM648 90.0h4v18.5h-4zM684 90.0h4v18.5h-4zM692 90.0h4v18.5h-4zM792 90.0h4v18.5h-4zM820 90.0h4v18.5h-4z"/><path fill="#80ff80" d="M588 850.7h4v18.5h-4zM644 850.7h12v18.5h-12zM680 850.7h20v18.5h-20zM804 850.7h36v18.5h-36zM928 850.7h20v18.5h-20zM964 850.7h12v18.5h-12zM980 850.7h16v18.5h-16zM1100 850.7h20v18.5h-20zM1128 850.7h4v18.5h-4zM1144 850.7h16v18.5h-16zM216 542.8h4v18.5h-4zM312 542.8h12v18.5h-12zM576 542.8h4v18.5h-4zM612 542.8h4v18.5h-4zM644 542.8h8v18.5h-8zM688 542.8h4v18.5h-4zM696 542.8h4v18.5h-4zM708 542.8h4v18.5h-4zM732 542.8h4v18.5h-4zM840 542.8h4v18.5h-4zM872 542.8h4v18.5h-4zM880 542.8h4v18.5h-4zM920 542.8h4v18.5h-4zM988 542.8h4v18.5h-4zM1016 542.8h4v18.5h-4zM1028 542.8h4v18.5h-4zM1036 542.8h8v18.5h-8zM1180 542.8h8v18.5h-8zM1236 542.8h4v18.5h-4zM252 470.3h4v18.5h-4zM336 470.3h4v18.5h-4zM456 470.3h4v18.5h-4zM464 470.3h4v18.5h-4zM484 470.3h4v18.5h-4zM508 470.3h4v18.5h-4zM516 470.3h4v18.5h-4zM644 470.3h4v18.5h-4zM684 470.3h4v18.5h-4zM692 470.3h4v18.5h-4zM736 470.3h4v18.5h-4zM804 470.3h4v18.5h-4zM896 470.3h4v18.5h-4zM904 470.3h4v18.5h-4zM924 470.3h4v18.5h-4zM960 470.3h4v18.5h-4zM1048 470.3h4v18.5h-4zM1076 470.3h4v18.5h-4zM1196 470.3h4v18.5h-4zM1212 470.3h4v18.5h-4zM1252 470.3h4v18.5h-4zM1268 470.3h4v18.5h-4zM1292 470.3h8v18.5h-8zM312 379.8h4v18.5h-4zM452 379.8h4v18.5h-4zM464 379.8h4v18.5h-4zM484 379.8h8v18.5h-8zM560 379.8h4v18.5h-4zM592 379.8h4v18.5h-4zM816 379.8h4v18.5h-4zM836 379.8h4v18.5h-4zM872 379.8h4v18.5h-4zM1016 379.8h4v18.5h-4zM1108 379.8h8v18.5h-8zM1160 379.8h4v18.5h-4zM1184 379.8h4v18.5h-4zM1300 379.8h4v18.5h-4zM268 108.1h4v18.5h-4zM348 108.1h4v18.5h-4zM524 108.1h4v18.5h-4zM700 108.1h4v18.5h-4zM724 108.1h8v18.5h-8zM736 108.1h4v18.5h-4zM788 108.1h4v18.5h-4zM800 108.1h4v18.5h-4zM820 108.1h8v18.5h-8zM904 108.1h4v18.5h-4zM916 108.1h12v18.5h-12zM1024 108.1h4v18.5h-4zM1112 108.1h4v18.5h-4zM1124 108.1h4v18.5h-4z"/><path fill="#8fff70" d="M528 850.7h4v18.5h-4zM556 850.7h4v18.5h-4zM572 850.7h4v18.5h-4zM600 850.7h4v18.5h-4zM624 850.7h8v18.5h-8zM736 850.7h4v18.5h-4zM752 850.7h4v18.5h-4zM768 850.7h4v18.5h-4zM784 850.7h4v18.5h-4zM796 850.7h4v18.5h-4zM848 850.7h20v18.5h-20zM876 850.7h12v18.5h-12zM892 850.7h4v18.5h-4zM904 850.7h4v18.5h-4zM920 850.7h4v18.5h-4zM952 850.7h4v18.5h-4zM1032 850.7h4v18.5h-4zM1040 850.7h8v18.5h-8zM1064 850.7h4v18.5h-4zM1180 850.7h4v18.5h-4zM1200 850.7h4v18.5h-4zM1212 850.7h4v18.5h-4zM1296 850.7h8v18.5h-8z"/><path fill="#bfff40" d="M216 886.9h4v18.5h-4zM296 886.9h4v18.5h-4zM352 886.9h4v18.5h-4zM372 886.9h12v18.5h-12zM484 886.9h4v18.5h-4zM508 886.9h4v18.5h-4zM608 886.9h4v18.5h-4zM668 886.9h4v18.5h-4zM744 886.9h4v18.5h-4zM792 886.9h4v18.5h-4zM816 886.9h4v18.5h-4zM864 886.9h8v18.5h-8zM968 886.9h4v18.5h-4zM996 886.9h4v18.5h-4zM1012 886.9h8v18.5h-8zM1028 886.9h4v18.5h-4zM1048 886.9h4v18.5h-4zM1140 886.9h4v18.5h-4zM1156 886.9h4v18.5h-4zM1180 886.9h4v18.5h-4zM1224 886.9h4v18.5h-4zM1236 886.9h8v18.5h-8zM1272 886.9h4v18.5h-4zM1300 886.9h4v18.5h-4zM492 868.8h4v18.5h-4zM532 868.8h4v18.5h-4zM576 868.8h4v18.5h-4zM676 868.8h4v18.5h-4zM700 868.8h4v18.5h-4zM740 868.8h4v18.5h-4zM800 868.8h4v18.5h-4zM904 868.8h4v18.5h-4zM944 868.8h4v18.5h-4zM1000 868.8h12v18.5h-12zM1032 868.8h4v18.5h-4zM1048 868.8h4v18.5h-4zM1108 868.8h4v18.5h-4zM1124 868.8h12v18.5h-12zM1200 868.8h4v18.5h-4zM1212 868.8h4v18.5h-4zM1248 868.8h4v18.5h-4zM1296 868.8h4v18.5h-4zM212 778.2h4v18.5h-4zM236 778.2h4v18.5h-4zM252 778.2h4v18.5h-4zM424 778.2h4v18.5h-4zM524 778.2h4v18.5h-4zM552 778.2h4v18.5h-4zM588 778.2h4v18.5h-4zM684 778.2h4v18.5h-4zM696 778.2h4v18.5h-4zM708 778.2h4v18.5h-4zM724 778.2h4v18.5h-4zM732 778.2h4v18.5h-4zM860 778.2h4v18.5h-4zM872 778.2h4v18.5h-4zM980 778.2h4v18.5h-4zM1004 778.2h4v18.5h-4zM1144 778.2h12v18.5h-12zM284 705.8h4v18.5h-4zM328 705.8h4v18.5h-4zM372 705.8h12v18.5h-12zM456 705.8h4v18.5h-4zM488 705.8h4v18.5h-4zM648 705.8h4v18.5h-4zM660 705.8h4v18.5h-4zM668 705.8h4v18.5h-4zM728 705.8h8v18.5h-8zM744 705.8h4v18.5h-4zM896 705.8h4v18.5h-4zM928 705.8h4v18.5h-4zM948 705.8h4v18.5h-4zM992 705.8h4v18.5h-4zM1040 705.8h4v18.5h-4zM1180 705.8h4v18.5h-4zM1192 705.8h4v18.5h-4zM244 524.7h4v18.5h-4zM312 524.7h4v18.5h-4zM460 524.7h4v18.5h-4zM468 524.7h4v18.5h-4zM492 524.7h4v18.5h-4zM536 524.7h4v18.5h-4zM604 524.7h4v18.5h-4zM656 524.7h4v18.5h-4zM688 524.7h4v18.5h-4zM720 524.7h4v18.5h-4zM764 524.7h4v18.5h-4zM796 524.7h4v18.5h-4zM836 524.7h4v18.5h-4zM936 524.7h4v18.5h-4zM988 524.7h4v18.5h-4zM1024 524.7h4v18.5h-4zM1040 524.7h4v18.5h-4zM1104 524.7h4v18.5h-4z"/><path fill="#cfff30" d="M604 977.4h4v18.5h-4zM664 977.4h4v18.5h-4zM724 977.4h4v18.5h-4zM780 977.4h4v18.5h-4zM820 977.4h4v18.5h-4zM836 977.4h4v18.5h-4zM856 977.4h12v18.5h-12zM936 977.4h4v18.5h-4zM956 977.4h8v18.5h-8zM980 977.4h4v18.5h-4zM1044 977.4h4v18.5h-4zM1076 977.4h8v18.5h-8zM1088 977.4h4v18.5h-4zM1100 977.4h16v18.5h-16zM1124 977.4h8v18.5h-8zM1212 977.4h4v18.5h-4zM368 941.2h4v18.5h-4zM448 941.2h4v18.5h-4zM672 941.2h8v18.5h-8zM696 941.2h8v18.5h-8zM716 941.2h4v18.5h-4zM752 941.2h4v18.5h-4zM772 941.2h4v18.5h-4zM824 941.2h4v18.5h-4zM880 941.2h4v18.5h-4zM1032 941.2h4v18.5h-4zM1040 941.2h8v18.5h-8zM1192 941.2h4v18.5h-4zM1212 941.2h4v18.5h-4zM1252 941.2h4v18.5h-4zM1300 941.2h4v18.5h-4zM392 886.9h4v18.5h-4zM476 886.9h4v18.5h-4zM552 886.9h4v18.5h-4zM560 886.9h4v18.5h-4zM628 886.9h4v18.5h-4zM720 886.9h8v18.5h-8zM828 886.9h12v18.5h-12zM956 886.9h4v18.5h-4zM1064 886.9h4v18.5h-4zM1072 886.9h4v18.5h-4zM1092 886.9h4v18.5h-4zM1120 886.9h4v18.5h-4zM1256 886.9h8v18.5h-8zM256 868.8h4v18.5h-4zM480 868.8h4v18.5h-4zM644 868.8h4v18.5h-4zM768 868.8h8v18.5h-8zM780 868.8h12v18.5h-12zM808 868.8h8v18.5h-8zM824 868.8h8v18.5h-8zM856 868.8h4v18.5h-4zM964 868.8h8v18.5h-8zM1084 868.8h16v18.5h-16zM1140 868.8h4v18.5h-4zM1160 868.8h12v18.5h-12zM1176 868.8h4v18.5h-4zM1188 868.8h8v18.5h-8zM236 832.6h8v18.5h-8zM352 832.6h4v18.5h-4zM360 832.6h8v18.5h-8zM380 832.6h4v18.5h-4zM444 832.6h4v18.5h-4zM660 832.6h4v18.5h-4zM792 832.6h4v18.5h-4zM816 832.6h8v18.5h-8zM848 832.6h4v18.5h-4zM936 832.6h4v18.5h-4zM1008 832.6h4v18.5h-4zM1080 832.6h4v18.5h-4zM1124 832.6h8v18.5h-8zM1244 832.6h4v18.5h-4zM1260 832.6h4v18.5h-4zM1288 832.6h4v18.5h-4zM364 796.3h8v18.5h-8zM444 796.3h4v18.5h-4zM588 796.3h8v18.5h-8zM608 796.3h4v18.5h-4zM620 796.3h4v18.5h-4zM652 796.3h8v18.5h-8zM736 796.3h4v18.5h-4zM792 796.3h4v18.5h-4zM916 796.3h4v18.5h-4zM932 796.3h4v18.5h-4zM980 796.3h4v18.5h-4zM1192 796.3h4v18.5h-4zM328 778.2h4v18.5h-4zM540 778.2h8v18.5h-8zM628 778.2h4v18.5h-4zM948 778.2h4v18.5h-4zM1096 778.2h4v18.5h-4zM1172 778.2h4v18.5h-4zM220 723.9h4v18.5h-4zM232 723.9h4v18.5h-4zM240 723.9h4v18.5h-4zM248 723.9h4v18.5h-4zM520 723.9h4v18.5h-4zM584 723.9h4v18.5h-4zM620 723.9h4v18.5h-4zM708 723.9h4v18.5h-4zM928 723.9h4v18.5h-4zM988 723.9h8v18.5h-8zM1036 723.9h4v18.5h-4zM1044 723.9h8v18.5h-8zM1100 723.9h4v18.5h-4zM1256 723.9h4v18.5h-4zM1272 723.9h4v18.5h-4zM228 705.8h4v18.5h-4zM528 705.8h8v18.5h-8zM692 705.8h4v18.5h-4zM708 705.8h4v18.5h-4zM840 705.8h4v18.5h-4zM920 705.8h4v18.5h-4zM960 705.8h4v18.5h-4zM1116 705.8h4v18.5h-4zM1132 705.8h4v18.5h-4zM1216 705.8h4v18.5h-4zM264 687.7h4v18.5h-4zM280 687.7h8v18.5h-8zM436 687.7h8v18.5h-8zM660 687.7h4v18.5h-4zM672 687.7h4v18.5h-4zM708 687.7h4v18.5h-4zM720 687.7h8v18.5h-8zM744 687.7h4v18.5h-4zM840 687.7h4v18.5h-4zM1036 687.7h4v18.5h-4zM1076 687.7h4v18.5h-4zM1096 687.7h4v18.5h-4zM1132 687.7h4v18.5h-4zM1224 687.7h4v18.5h-4zM344 669.6h4v18.5h-4zM368 669.6h4v18.5h-4zM464 669.6h4v18.5h-4zM552 669.6h4v18.5h-4zM572 669.6h4v18.5h-4zM628 669.6h4v18.5h-4zM660 669.6h4v18.5h-4zM764 669.6h8v18.5h-8zM828 669.6h4v18.5h-4zM928 669.6h4v18.5h-4zM964 669.6h4v18.5h-4zM1028 669.6h4v18.5h-4zM1072 669.6h4v18.5h-4zM1152 669.6h4v18.5h-4zM1176 669.6h4v18.5h-4zM1240 669.6h12v18.5h-12zM1272 669.6h4v18.5h-4zM1296 669.6h4v18.5h-4zM312 651.4h4v18.5h-4zM364 651.4h4v18.5h-4zM376 651.4h4v18.5h-4zM396 651.4h4v18.5h-4zM464 651.4h4v18.5h-4zM488 651.4h4v18.5h-4zM592 651.4h4v18.5h-4zM608 651.4h4v18.5h-4zM628 651.4h4v18.5h-4zM644 651.4h4v18.5h-4zM660 651.4h4v18.5h-4zM748 651.4h4v18.5h-4zM808 651.4h4v18.5h-4zM832 651.4h8v18.5h-8zM848 651.4h8v18.5h-8zM860 651.4h4v18.5h-4zM1016 651.4h4v18.5h-4zM1044 651.4h4v18.5h-4zM1080 651.4h4v18.5h-4zM1172 651.4h4v18.5h-4zM1224 651.4h8v18.5h-8zM212 633.3h4v18.5h-4zM236 633.3h4v18.5h-4zM268 633.3h8v18.5h-8zM360 633.3h4v18.5h-4zM444 633.3h4v18.5h-4zM532 633.3h4v18.5h-4zM668 633.3h4v18.5h-4zM684 633.3h4v18.5h-4zM700 633.3h4v18.5h-4zM764 633.3h4v18.5h-4zM772 633.3h4v18.5h-4zM836 633.3h4v18.5h-4zM896 633.3h8v18.5h-8zM964 633.3h4v18.5h-4zM1076 633.3h4v18.5h-4zM1092 633.3h4v18.5h-4zM1152 633.3h4v18.5h-4zM1168 633.3h4v18.5h-4zM1188 633.3h4v18.5h-4zM1224 633.3h4v18.5h-4zM208 615.2h4v18.5h-4zM276 615.2h4v18.5h-4zM296 615.2h4v18.5h-4zM452 615.2h4v18.5h-4zM540 615.2h4v18.5h-4zM612 615.2h4v18.5h-4zM680 615.2h8v18.5h-8zM744 615.2h4v18.5h-4zM828 615.2h8v18.5h-8zM868 615.2h4v18.5h-4zM928 615.2h4v18.5h-4zM948 615.2h4v18.5h-4zM956 615.2h4v18.5h-4zM1040 615.2h4v18.5h-4zM1072 615.2h4v18.5h-4zM1092 615.2h4v18.5h-4zM1160 615.2h4v18.5h-4zM1188 615.2h4v18.5h-4zM1196 615.2h4v18.5h-4zM1232 615.2h8v18.5h-8zM1284 615.2h8v18.5h-8zM240 597.1h8v18.5h-8zM392 597.1h4v18.5h-4zM448 597.1h8v18.5h-8zM468 597.1h4v18.5h-4zM600 597.1h4v18.5h-4zM676 597.1h4v18.5h-4zM692 597.1h4v18.5h-4zM792 597.1h4v18.5h-4zM960 597.1h4v18.5h-4zM1004 597.1h4v18.5h-4zM1076 597.1h8v18.5h-8zM1124 597.1h4v18.5h-4zM1236 597.1h4v18.5h-4zM1244 597.1h4v18.5h-4zM1272 597.1h4v18.5h-4zM1296 597.1h4v18.5h-4zM272 579.0h8v18.5h-8zM368 579.0h4v18.5h-4zM380 579.0h8v18.5h-8zM404 579.0h4v18.5h-4zM424 579.0h4v18.5h-4zM580 579.0h4v18.5h-4zM588 579.0h4v18.5h-4zM664 579.0h4v18.5h-4zM752 579.0h4v18.5h-4zM804 579.0h4v18.5h-4zM896 579.0h4v18.5h-4zM936 579.0h4v18.5h-4zM944 579.0h4v18.5h-4zM968 579.0h4v18.5h-4zM1128 579.0h4v18.5h-4zM1156 579.0h4v18.5h-4zM1236 579.0h4v18.5h-4zM236 560.9h4v18.5h-4zM272 560.9h4v18.5h-4zM284 560.9h4v18.5h-4zM368 560.9h4v18.5h-4zM420 560.9h4v18.5h-4zM440 560.9h4v18.5h-4zM448 560.9h4v18.5h-4zM572 560.9h4v18.5h-4zM584 560.9h4v18.5h-4zM612 560.9h4v18.5h-4zM624 560.9h8v18.5h-8zM672 560.9h4v18.5h-4zM752 560.9h4v18.5h-4zM796 560.9h4v18.5h-4zM872 560.9h4v18.5h-4zM1076 560.9h8v18.5h-8zM1100 560.9h4v18.5h-4zM1228 560.9h8v18.5h-8zM364 524.7h4v18.5h-4zM508 524.7h4v18.5h-4zM572 524.7h4v18.5h-4zM640 524.7h4v18.5h-4zM712 524.7h4v18.5h-4zM884 524.7h4v18.5h-4zM1004 524.7h4v18.5h-4zM1088 524.7h4v18.5h-4zM1232 524.7h4v18.5h-4zM1284 524.7h4v18.5h-4zM268 361.7h4v18.5h-4zM324 361.7h4v18.5h-4zM380 361.7h8v18.5h-8zM396 361.7h4v18.5h-4zM512 361.7h4v18.5h-4zM548 361.7h12v18.5h-12zM600 361.7h4v18.5h-4zM608 361.7h4v18.5h-4zM800 361.7h4v18.5h-4zM980 361.7h8v18.5h-8zM1000 361.7h8v18.5h-8zM1048 361.7h8v18.5h-8zM1076 361.7h4v18.5h-4zM1084 361.7h4v18.5h-4zM1156 361.7h4v18.5h-4zM1180 361.7h4v18.5h-4zM1264 361.7h4v18.5h-4zM1296 361.7h4v18.5h-4zM380 325.4h4v18.5h-4zM492 325.4h4v18.5h-4zM548 325.4h8v18.5h-8zM672 325.4h4v18.5h-4zM780 325.4h4v18.5h-4zM824 325.4h4v18.5h-4zM832 325.4h8v18.5h-8zM852 325.4h8v18.5h-8zM880 325.4h4v18.5h-4zM896 325.4h4v18.5h-4zM972 325.4h4v18.5h-4zM1016 325.4h4v18.5h-4zM1036 325.4h4v18.5h-4zM1048 325.4h8v18.5h-8zM1064 325.4h4v18.5h-4zM1080 325.4h8v18.5h-8zM1096 325.4h4v18.5h-4zM1120 325.4h4v18.5h-4zM1180 325.4h4v18.5h-4zM1188 325.4h4v18.5h-4zM232 289.2h4v18.5h-4zM248 289.2h4v18.5h-4zM376 289.2h4v18.5h-4zM388 289.2h4v18.5h-4zM532 289.2h4v18.5h-4zM552 289.2h4v18.5h-4zM664 289.2h4v18.5h-4zM720 289.2h4v18.5h-4zM872 289.2h4v18.5h-4zM920 289.2h4v18.5h-4zM1068 289.2h4v18.5h-4zM1108 289.2h4v18.5h-4zM1164 289.2h4v18.5h-4zM1260 289.2h4v18.5h-4zM1288 289.2h4v18.5h-4zM232 234.9h4v18.5h-4zM276 234.9h4v18.5h-4zM372 234.9h8v18.5h-8zM436 234.9h4v18.5h-4zM532 234.9h4v18.5h-4zM540 234.9h4v18.5h-4zM596 234.9h4v18.5h-4zM648 234.9h4v18.5h-4zM700 234.9h4v18.5h-4zM716 234.9h8v18.5h-8zM828 234.9h4v18.5h-4zM884 234.9h4v18.5h-4zM892 234.9h4v18.5h-4zM1064 234.9h4v18.5h-4zM1160 234.9h4v18.5h-4zM1172 234.9h4v18.5h-4zM1200 234.9h4v18.5h-4zM1216 234.9h4v18.5h-4zM1264 234.9h4v18.5h-4zM376 162.4h4v18.5h-4zM416 162.4h4v18.5h-4zM440 162.4h4v18.5h-4zM464 162.4h4v18.5h-4zM576 162.4h4v18.5h-4zM736 162.4h8v18.5h-8zM748 162.4h4v18.5h-4zM772 162.4h4v18.5h-4zM1016 162.4h4v18.5h-4zM1024 162.4h4v18.5h-4zM1084 162.4h4v18.5h-4zM384 144.3h4v18.5h-4zM404 144.3h4v18.5h-4zM516 144.3h4v18.5h-4zM528 144.3h4v18.5h-4zM608 144.3h8v18.5h-8zM708 144.3h4v18.5h-4zM752 144.3h4v18.5h-4zM820 144.3h4v18.5h-4zM836 144.3h4v18.5h-4zM864 144.3h8v18.5h-8zM968 144.3h4v18.5h-4zM1216 144.3h4v18.5h-4zM1256 144.3h4v18.5h-4zM224 126.2h4v18.5h-4zM504 126.2h8v18.5h-8zM516 126.2h4v18.5h-4zM548 126.2h4v18.5h-4zM588 126.2h4v18.5h-4zM636 126.2h4v18.5h-4zM652 126.2h4v18.5h-4zM744 126.2h4v18.5h-4zM824 126.2h16v18.5h-16zM884 126.2h4v18.5h-4zM1124 126.2h4v18.5h-4zM1152 126.2h4v18.5h-4zM1192 126.2h4v18.5h-4zM1260 126.2h4v18.5h-4z"/><path fill="#dfff20" d="M296 1049.9h4v18.5h-4zM548 1049.9h4v18.5h-4zM624 1049.9h4v18.5h-4zM828 1049.9h4v18.5h-4zM1012 1049.9h4v18.5h-4zM1068 1049.9h4v18.5h-4zM1112 1049.9h4v18.5h-4zM1160 1049.9h8v18.5h-8zM1240 1049.9h4v18.5h-4zM264 1031.8h4v18.5h-4zM368 1031.8h4v18.5h-4zM532 1031.8h4v18.5h-4zM636 1031.8h4v18.5h-4zM740 1031.8h4v18.5h-4zM768 1031.8h4v18.5h-4zM788 1031.8h4v18.5h-4zM828 1031.8h8v18.5h-8zM988 1031.8h4v18.5h-4zM284 1013.7h4v18.5h-4zM644 1013.7h4v18.5h-4zM696 1013.7h8v18.5h-8zM712 1013.7h4v18.5h-4zM1024 1013.7h4v18.5h-4zM1044 1013.7h4v18.5h-4zM1052 1013.7h4v18.5h-4zM1140 1013.7h4v18.5h-4zM1160 1013.7h4v18.5h-4zM1284 1013.7h4v18.5h-4zM480 995.6h4v18.5h-4zM604 995.6h4v18.5h-4zM636 995.6h4v18.5h-4zM672 995.6h4v18.5h-4zM680 995.6h4v18.5h-4zM692 995.6h4v18.5h-4zM736 995.6h4v18.5h-4zM1068 995.6h4v18.5h-4zM304 977.4h4v18.5h-4zM412 977.4h4v18.5h-4zM472 977.4h4v18.5h-4zM700 977.4h4v18.5h-4zM740 977.4h4v18.5h-4zM1036 977.4h4v18.5h-4zM304 941.2h36v18.5h-36zM472 941.2h4v18.5h-4zM600 941.2h8v18.5h-8zM796 941.2h4v18.5h-4zM1016 941.2h4v18.5h-4zM1100 941.2h4v18.5h-4zM1120 941.2h4v18.5h-4zM504 923.1h8v18.5h-8zM624 923.1h4v18.5h-4zM692 923.1h4v18.5h-4zM868 923.1h4v18.5h-4zM1196 923.1h4v18.5h-4zM452 905.0h4v18.5h-4zM460 905.0h4v18.5h-4zM676 905.0h8v18.5h-8zM692 905.0h4v18.5h-4zM812 905.0h4v18.5h-4zM1000 905.0h4v18.5h-4zM1080 905.0h4v18.5h-4zM1092 905.0h4v18.5h-4zM1104 905.0h4v18.5h-4zM1116 905.0h4v18.5h-4zM1128 905.0h4v18.5h-4zM1232 905.0h4v18.5h-4zM1240 905.0h4v18.5h-4zM436 886.9h4v18.5h-4zM712 886.9h4v18.5h-4zM692 868.8h4v18.5h-4zM872 868.8h28v18.5h-28zM1040 868.8h4v18.5h-4zM1220 868.8h16v18.5h-16zM1264 868.8h4v18.5h-4zM1284 868.8h4v18.5h-4zM480 832.6h4v18.5h-4zM532 832.6h4v18.5h-4zM544 832.6h4v18.5h-4zM644 832.6h4v18.5h-4zM780 832.6h4v18.5h-4zM1176 832.6h4v18.5h-4zM1188 832.6h4v18.5h-4zM1200 832.6h4v18.5h-4zM1220 832.6h4v18.5h-4zM376 814.4h4v18.5h-4zM412 814.4h8v18.5h-8zM480 814.4h4v18.5h-4zM504 814.4h4v18.5h-4zM540 814.4h4v18.5h-4zM624 814.4h4v18.5h-4zM652 814.4h4v18.5h-4zM720 814.4h4v18.5h-4zM804 814.4h4v18.5h-4zM896 814.4h4v18.5h-4zM936 814.4h16v18.5h-16zM972 814.4h4v18.5h-4zM1000 814.4h4v18.5h-4zM1044 814.4h4v18.5h-4zM1076 814.4h4v18.5h-4zM1120 814.4h4v18.5h-4zM252 796.3h4v18.5h-4zM524 796.3h4v18.5h-4zM784 796.3h4v18.5h-4zM888 796.3h4v18.5h-4zM1036 796.3h4v18.5h-4zM1080 796.3h4v18.5h-4zM1092 796.3h4v18.5h-4zM1168 796.3h4v18.5h-4zM1220 796.3h4v18.5h-4zM1244 796.3h4v18.5h-4zM304 778.2h4v18.5h-4zM208 760.1h12v18.5h-12zM260 760.1h4v18.5h-4zM484 760.1h4v18.5h-4zM668 760.1h4v18.5h-4zM772 760.1h4v18.5h-4zM1196 760.1h4v18.5h-4zM208 742.0h4v18.5h-4zM296 742.0h4v18.5h-4zM348 742.0h4v18.5h-4zM636 742.0h4v18.5h-4zM780 742.0h4v18.5h-4zM864 742.0h4v18.5h-4zM1180 742.0h4v18.5h-4zM380 723.9h4v18.5h-4zM596 723.9h8v18.5h-8zM636 723.9h8v18.5h-8zM652 723.9h4v18.5h-4zM804 723.9h4v18.5h-4zM1116 723.9h4v18.5h-4zM1172 723.9h8v18.5h-8zM1292 723.9h4v18.5h-4zM700 705.8h4v18.5h-4zM1016 705.8h4v18.5h-4zM1224 705.8h4v18.5h-4zM1252 705.8h4v18.5h-4zM216 687.7h12v18.5h-12zM232 687.7h4v18.5h-4zM244 687.7h8v18.5h-8zM332 687.7h4v18.5h-4zM552 687.7h8v18.5h-8zM756 687.7h4v18.5h-4zM860 687.7h4v18.5h-4zM1068 687.7h4v18.5h-4zM1200 687.7h4v18.5h-4zM1300 687.7h4v18.5h-4zM360 669.6h4v18.5h-4zM512 669.6h4v18.5h-4zM668 669.6h4v18.5h-4zM700 669.6h4v18.5h-4zM712 669.6h4v18.5h-4zM736 669.6h8v18.5h-8zM780 669.6h4v18.5h-4zM872 669.6h4v18.5h-4zM1052 669.6h4v18.5h-4zM1224 669.6h4v18.5h-4zM584 651.4h4v18.5h-4zM652 651.4h4v18.5h-4zM676 651.4h4v18.5h-4zM820 651.4h4v18.5h-4zM968 651.4h4v18.5h-4zM1024 651.4h4v18.5h-4zM1112 651.4h4v18.5h-4zM1288 651.4h4v18.5h-4zM280 633.3h8v18.5h-8zM400 633.3h4v18.5h-4zM508 633.3h4v18.5h-4zM788 633.3h4v18.5h-4zM868 633.3h4v18.5h-4zM888 633.3h4v18.5h-4zM920 633.3h4v18.5h-4zM1132 633.3h4v18.5h-4zM552 615.2h4v18.5h-4zM692 615.2h4v18.5h-4zM840 615.2h4v18.5h-4zM848 615.2h4v18.5h-4zM860 615.2h4v18.5h-4zM1048 615.2h4v18.5h-4zM304 597.1h4v18.5h-4zM380 597.1h4v18.5h-4zM424 597.1h4v18.5h-4zM484 597.1h12v18.5h-12zM508 597.1h4v18.5h-4zM572 597.1h4v18.5h-4zM588 597.1h4v18.5h-4zM840 597.1h4v18.5h-4zM1168 597.1h8v18.5h-8zM360 579.0h4v18.5h-4zM740 579.0h4v18.5h-4zM956 579.0h8v18.5h-8zM1052 579.0h4v18.5h-4zM1076 579.0h4v18.5h-4zM224 560.9h4v18.5h-4zM312 560.9h4v18.5h-4zM512 560.9h8v18.5h-8zM1252 560.9h4v18.5h-4zM1224 524.7h4v18.5h-4zM1268 524.7h8v18.5h-8zM480 488.4h8v18.5h-8zM564 488.4h4v18.5h-4zM668 488.4h4v18.5h-4zM676 488.4h4v18.5h-4zM1168 488.4h4v18.5h-4zM1204 488.4h4v18.5h-4zM224 361.7h4v18.5h-4zM332 361.7h4v18.5h-4zM528 361.7h4v18.5h-4zM764 361.7h4v18.5h-4zM832 361.7h4v18.5h-4zM932 361.7h4v18.5h-4zM952 361.7h4v18.5h-4zM1104 361.7h4v18.5h-4zM1116 361.7h4v18.5h-4zM280 325.4h4v18.5h-4zM332 325.4h4v18.5h-4zM472 325.4h4v18.5h-4zM576 325.4h4v18.5h-4zM756 325.4h4v18.5h-4zM792 325.4h4v18.5h-4zM948 325.4h4v18.5h-4zM1252 325.4h4v18.5h-4zM264 289.2h4v18.5h-4zM424 289.2h4v18.5h-4zM468 289.2h4v18.5h-4zM480 289.2h4v18.5h-4zM640 289.2h4v18.5h-4zM812 289.2h4v18.5h-4zM988 289.2h4v18.5h-4zM1028 289.2h4v18.5h-4zM1120 289.2h4v18.5h-4zM1216 289.2h12v18.5h-12zM1244 289.2h4v18.5h-4zM1272 289.2h4v18.5h-4zM244 234.9h4v18.5h-4zM252 234.9h4v18.5h-4zM476 234.9h8v18.5h-8zM604 234.9h4v18.5h-4zM684 234.9h4v18.5h-4zM936 234.9h4v18.5h-4zM232 162.4h4v18.5h-4zM296 162.4h4v18.5h-4zM344 162.4h4v18.5h-4zM604 162.4h4v18.5h-4zM700 162.4h4v18.5h-4zM712 162.4h4v18.5h-4zM840 162.4h4v18.5h-4zM1100 162.4h4v18.5h-4zM260 144.3h4v18.5h-4zM468 144.3h4v18.5h-4zM684 144.3h4v18.5h-4zM1040 144.3h4v18.5h-4zM420 126.2h4v18.5h-4zM456 126.2h12v18.5h-12zM756 126.2h4v18.5h-4zM788 126.2h4v18.5h-4zM800 126.2h4v18.5h-4zM864 126.2h4v18.5h-4zM1016 126.2h16v18.5h-16zM1164 126.2h4v18.5h-4zM1236 126.2h4v18.5h-4zM1288 126.2h4v18.5h-4z"/><path fill="#efff10" d="M788 1049.9h4v18.5h-4zM904 1049.9h4v18.5h-4zM932 1049.9h4v18.5h-4zM1212 1049.9h4v18.5h-4zM244 1031.8h8v18.5h-8zM480 1031.8h8v18.5h-8zM508 1031.8h12v18.5h-12zM544 1031.8h8v18.5h-8zM580 1031.8h4v18.5h-4zM676 1031.8h20v18.5h-20zM716 1031.8h8v18.5h-8zM796 1031.8h8v18.5h-8zM812 1031.8h8v18.5h-8zM956 1031.8h4v18.5h-4zM980 1013.7h4v18.5h-4zM1000 1013.7h8v18.5h-8zM1032 1013.7h4v18.5h-4zM1108 1013.7h16v18.5h-16zM1152 1013.7h4v18.5h-4zM1172 1013.7h4v18.5h-4zM1188 1013.7h16v18.5h-16zM1232 1013.7h4v18.5h-4zM1292 1013.7h4v18.5h-4zM340 995.6h4v18.5h-4zM348 995.6h4v18.5h-4zM448 995.6h16v18.5h-16zM492 995.6h4v18.5h-4zM528 995.6h4v18.5h-4zM540 995.6h8v18.5h-8zM628 995.6h4v18.5h-4zM644 995.6h8v18.5h-8zM656 977.4h4v18.5h-4zM1172 977.4h4v18.5h-4zM1244 977.4h4v18.5h-4zM500 959.3h4v18.5h-4zM908 959.3h4v18.5h-4zM960 959.3h4v18.5h-4zM1184 959.3h4v18.5h-4zM208 941.2h24v18.5h-24zM240 941.2h28v18.5h-28zM272 941.2h16v18.5h-16zM480 941.2h4v18.5h-4zM572 941.2h8v18.5h-8zM616 941.2h4v18.5h-4zM740 941.2h4v18.5h-4zM840 941.2h4v18.5h-4zM1144 941.2h4v18.5h-4zM216 923.1h16v18.5h-16zM236 923.1h32v18.5h-32zM572 923.1h4v18.5h-4zM660 923.1h4v18.5h-4zM260 905.0h4v18.5h-4zM488 905.0h8v18.5h-8zM580 905.0h4v18.5h-4zM616 905.0h4v18.5h-4zM728 905.0h8v18.5h-8zM796 905.0h8v18.5h-8zM928 905.0h4v18.5h-4zM1012 905.0h4v18.5h-4zM1024 905.0h4v18.5h-4zM212 886.9h4v18.5h-4zM1220 886.9h4v18.5h-4zM760 868.8h4v18.5h-4zM796 868.8h4v18.5h-4zM816 868.8h8v18.5h-8zM840 868.8h4v18.5h-4zM1104 868.8h4v18.5h-4zM1116 868.8h8v18.5h-8zM1148 868.8h8v18.5h-8zM1272 868.8h4v18.5h-4zM804 832.6h4v18.5h-4zM232 814.4h4v18.5h-4zM452 814.4h4v18.5h-4zM644 814.4h4v18.5h-4zM736 814.4h8v18.5h-8zM860 814.4h4v18.5h-4zM1016 814.4h8v18.5h-8zM1104 814.4h4v18.5h-4zM1164 814.4h8v18.5h-8zM1248 814.4h8v18.5h-8zM1264 814.4h4v18.5h-4zM1284 814.4h8v18.5h-8zM244 796.3h4v18.5h-4zM276 796.3h4v18.5h-4zM848 796.3h4v18.5h-4zM1200 796.3h4v18.5h-4zM528 778.2h4v18.5h-4zM864 778.2h4v18.5h-4zM1292 778.2h4v18.5h-4zM232 760.1h20v18.5h-20zM268 760.1h8v18.5h-8zM360 742.0h4v18.5h-4zM516 742.0h4v18.5h-4zM688 742.0h4v18.5h-4zM1188 742.0h4v18.5h-4zM848 723.9h4v18.5h-4zM828 705.8h4v18.5h-4zM852 705.8h4v18.5h-4zM972 687.7h4v18.5h-4zM1168 687.7h4v18.5h-4zM1232 687.7h4v18.5h-4zM280 669.6h4v18.5h-4zM596 669.6h4v18.5h-4zM436 651.4h4v18.5h-4zM528 651.4h4v18.5h-4zM620 651.4h4v18.5h-4zM712 651.4h4v18.5h-4zM880 651.4h4v18.5h-4zM888 651.4h8v18.5h-8zM220 633.3h8v18.5h-8zM244 633.3h8v18.5h-8zM324 633.3h4v18.5h-4zM368 633.3h4v18.5h-4zM384 633.3h4v18.5h-4zM936 633.3h4v18.5h-4zM1232 633.3h4v18.5h-4zM256 615.2h4v18.5h-4zM644 615.2h4v18.5h-4zM796 615.2h4v18.5h-4zM1124 615.2h4v18.5h-4zM460 597.1h4v18.5h-4zM532 597.1h4v18.5h-4zM660 597.1h4v18.5h-4zM948 597.1h4v18.5h-4zM1036 597.1h4v18.5h-4zM1092 597.1h4v18.5h-4zM328 579.0h12v18.5h-12zM472 579.0h8v18.5h-8zM916 579.0h4v18.5h-4zM208 560.9h4v18.5h-4zM320 560.9h12v18.5h-12zM1216 560.9h8v18.5h-8zM1240 560.9h4v18.5h-4zM472 524.7h4v18.5h-4zM1032 524.7h4v18.5h-4zM456 506.6h4v18.5h-4zM500 506.6h4v18.5h-4zM1088 506.6h4v18.5h-4zM492 488.4h4v18.5h-4zM500 488.4h4v18.5h-4zM752 488.4h4v18.5h-4zM796 488.4h4v18.5h-4zM864 488.4h12v18.5h-12zM492 452.2h4v18.5h-4zM948 452.2h4v18.5h-4zM212 434.1h4v18.5h-4zM240 434.1h4v18.5h-4zM884 434.1h4v18.5h-4zM1240 434.1h8v18.5h-8zM1256 434.1h4v18.5h-4zM808 416.0h4v18.5h-4zM924 416.0h4v18.5h-4zM340 397.9h4v18.5h-4zM1204 397.9h4v18.5h-4zM212 361.7h4v18.5h-4zM368 343.6h4v18.5h-4zM432 343.6h4v18.5h-4zM568 343.6h4v18.5h-4zM1040 343.6h4v18.5h-4zM1204 343.6h4v18.5h-4zM232 325.4h8v18.5h-8zM692 325.4h4v18.5h-4zM960 325.4h4v18.5h-4zM696 307.3h4v18.5h-4zM1092 307.3h8v18.5h-8zM212 289.2h4v18.5h-4zM756 289.2h4v18.5h-4zM264 271.1h4v18.5h-4zM484 271.1h4v18.5h-4zM552 271.1h4v18.5h-4zM1056 271.1h4v18.5h-4zM1112 271.1h4v18.5h-4zM1236 271.1h4v18.5h-4zM500 253.0h4v18.5h-4zM736 253.0h4v18.5h-4zM968 253.0h4v18.5h-4zM1096 253.0h4v18.5h-4zM624 234.9h4v18.5h-4zM964 234.9h4v18.5h-4zM1188 234.9h4v18.5h-4zM236 216.8h4v18.5h-4zM788 216.8h4v18.5h-4zM984 216.8h4v18.5h-4zM1004 216.8h4v18.5h-4zM1196 216.8h4v18.5h-4zM396 198.7h4v18.5h-4zM468 198.7h4v18.5h-4zM488 198.7h4v18.5h-4zM732 198.7h4v18.5h-4zM872 198.7h4v18.5h-4zM944 198.7h4v18.5h-4zM992 198.7h8v18.5h-8zM304 180.6h4v18.5h-4zM728 180.6h4v18.5h-4zM780 180.6h4v18.5h-4zM880 180.6h4v18.5h-4zM972 180.6h4v18.5h-4zM1016 180.6h12v18.5h-12zM1112 180.6h4v18.5h-4zM1200 180.6h4v18.5h-4zM208 162.4h8v18.5h-8zM972 162.4h4v18.5h-4zM332 144.3h8v18.5h-8zM536 144.3h4v18.5h-4zM648 144.3h4v18.5h-4zM848 144.3h4v18.5h-4zM1140 144.3h4v18.5h-4zM492 126.2h4v18.5h-4zM524 126.2h4v18.5h-4zM684 126.2h4v18.5h-4zM808 126.2h4v18.5h-4zM848 126.2h8v18.5h-8zM280 90.0h4v18.5h-4zM992 90.0h4v18.5h-4zM1024 90.0h8v18.5h-8zM1112 90.0h4v18.5h-4zM1152 90.0h4v18.5h-4zM1280 90.0h4v18.5h-4z"/><path fill="#ffff00" d="M872 1049.9h4v18.5h-4zM208 1031.8h4v18.5h-4zM444 1031.8h4v18.5h-4zM460 1031.8h12v18.5h-12zM592 1031.8h8v18.5h-8zM664 1031.8h8v18.5h-8zM308 1013.7h4v18.5h-4zM504 1013.7h4v18.5h-4zM952 1013.7h4v18.5h-4zM1240 1013.7h20v18.5h-20zM1264 1013.7h12v18.5h-12zM332 995.6h4v18.5h-4zM512 995.6h4v18.5h-4zM316 977.4h4v18.5h-4zM1272 977.4h4v18.5h-4zM536 959.3h4v18.5h-4zM1280 959.3h4v18.5h-4zM272 923.1h16v18.5h-16zM304 905.0h32v18.5h-32zM304 886.9h24v18.5h-24zM848 868.8h4v18.5h-4zM1012 868.8h4v18.5h-4zM336 832.6h4v18.5h-4zM752 832.6h4v18.5h-4zM956 832.6h4v18.5h-4zM436 814.4h4v18.5h-4zM736 778.2h4v18.5h-4zM220 760.1h8v18.5h-8zM216 723.9h4v18.5h-4zM536 723.9h4v18.5h-4zM296 687.7h4v18.5h-4zM1000 669.6h4v18.5h-4zM556 651.4h4v18.5h-4zM928 651.4h4v18.5h-4zM1000 651.4h4v18.5h-4zM408 633.3h4v18.5h-4zM988 633.3h4v18.5h-4zM424 615.2h4v18.5h-4zM320 597.1h12v18.5h-12zM1264 597.1h4v18.5h-4zM236 579.0h4v18.5h-4zM304 579.0h4v18.5h-4zM1056 542.8h4v18.5h-4zM1204 542.8h4v18.5h-4zM248 506.6h4v18.5h-4zM492 506.6h4v18.5h-4zM568 506.6h4v18.5h-4zM1156 506.6h4v18.5h-4zM1228 506.6h4v18.5h-4zM472 488.4h4v18.5h-4zM640 488.4h4v18.5h-4zM700 488.4h4v18.5h-4zM1140 488.4h4v18.5h-4zM304 470.3h4v18.5h-4zM348 470.3h4v18.5h-4zM384 470.3h4v18.5h-4zM568 470.3h4v18.5h-4zM1084 470.3h4v18.5h-4zM1204 470.3h4v18.5h-4zM1228 470.3h4v18.5h-4zM1204 452.2h4v18.5h-4zM1280 452.2h4v18.5h-4zM432 434.1h4v18.5h-4zM908 434.1h4v18.5h-4zM1100 434.1h4v18.5h-4zM1204 434.1h4v18.5h-4zM500 416.0h4v18.5h-4zM908 416.0h4v18.5h-4zM292 397.9h4v18.5h-4zM432 397.9h4v18.5h-4zM568 397.9h4v18.5h-4zM856 397.9h4v18.5h-4zM1056 397.9h4v18.5h-4zM1280 397.9h4v18.5h-4zM316 379.8h4v18.5h-4zM432 379.8h4v18.5h-4zM1084 379.8h4v18.5h-4zM1204 379.8h4v18.5h-4zM508 361.7h4v18.5h-4zM288 343.6h8v18.5h-8zM936 343.6h4v18.5h-4zM1228 307.3h4v18.5h-4zM768 289.2h4v18.5h-4zM680 271.1h4v18.5h-4zM988 271.1h4v18.5h-4zM996 271.1h4v18.5h-4zM1204 271.1h4v18.5h-4zM256 253.0h4v18.5h-4zM568 253.0h4v18.5h-4zM1080 253.0h8v18.5h-8zM1256 253.0h4v18.5h-4zM1124 234.9h4v18.5h-4zM432 216.8h4v18.5h-4zM924 216.8h4v18.5h-4zM1084 216.8h4v18.5h-4zM520 198.7h4v18.5h-4zM856 198.7h4v18.5h-4zM908 198.7h4v18.5h-4zM1108 198.7h4v18.5h-4zM1156 198.7h4v18.5h-4zM1228 198.7h4v18.5h-4zM568 180.6h4v18.5h-4zM1056 180.6h4v18.5h-4zM1084 180.6h4v18.5h-4zM304 162.4h4v18.5h-4zM584 162.4h4v18.5h-4zM860 144.3h4v18.5h-4zM596 126.2h4v18.5h-4zM768 126.2h4v18.5h-4zM1224 126.2h4v18.5h-4zM568 108.1h4v18.5h-4zM852 108.1h4v18.5h-4zM1228 108.1h4v18.5h-4zM432 90.0h4v18.5h-4zM568 90.0h4v18.5h-4zM908 90.0h4v18.5h-4zM1084 90.0h4v18.5h-4zM1184 90.0h4v18.5h-4zM1300 90.0h4v18.5h-4z"/><path fill="#ffef00" d="M952 1049.9h4v18.5h-4zM1108 1049.9h4v18.5h-4zM284 1031.8h4v18.5h-4zM344 1031.8h4v18.5h-4zM352 1031.8h4v18.5h-4zM608 1031.8h4v18.5h-4zM700 1031.8h4v18.5h-4zM1020 1013.7h4v18.5h-4zM1068 1013.7h4v18.5h-4zM1124 1013.7h12v18.5h-12zM1220 1013.7h4v18.5h-4zM572 995.6h4v18.5h-4zM616 995.6h4v18.5h-4zM744 977.4h4v18.5h-4zM568 959.3h4v18.5h-4zM1024 959.3h4v18.5h-4zM1084 959.3h4v18.5h-4zM1204 959.3h4v18.5h-4zM1228 959.3h4v18.5h-4zM1252 959.3h8v18.5h-8zM232 941.2h8v18.5h-8zM1040 886.9h4v18.5h-4zM344 850.7h4v18.5h-4zM420 850.7h8v18.5h-8zM500 850.7h4v18.5h-4zM1056 850.7h4v18.5h-4zM1280 850.7h4v18.5h-4zM1012 814.4h4v18.5h-4zM256 760.1h4v18.5h-4zM264 760.1h4v18.5h-4zM280 760.1h4v18.5h-4zM332 760.1h4v18.5h-4zM276 687.7h4v18.5h-4zM980 651.4h8v18.5h-8zM260 633.3h8v18.5h-8zM324 615.2h8v18.5h-8zM260 560.9h8v18.5h-8zM304 560.9h8v18.5h-8zM288 542.8h8v18.5h-8zM432 542.8h4v18.5h-4zM680 542.8h4v18.5h-4zM884 488.4h8v18.5h-8zM1172 488.4h8v18.5h-8zM368 470.3h8v18.5h-8zM948 470.3h4v18.5h-4zM500 452.2h4v18.5h-4zM908 452.2h4v18.5h-4zM996 452.2h4v18.5h-4zM1256 452.2h4v18.5h-4zM288 434.1h8v18.5h-8zM1156 434.1h4v18.5h-4zM1084 416.0h4v18.5h-4zM1112 416.0h4v18.5h-4zM1156 416.0h4v18.5h-4zM864 397.9h4v18.5h-4zM288 379.8h8v18.5h-8zM568 379.8h4v18.5h-4zM908 379.8h4v18.5h-4zM1280 379.8h4v18.5h-4zM500 343.6h4v18.5h-4zM568 307.3h4v18.5h-4zM288 271.1h8v18.5h-8zM500 271.1h4v18.5h-4zM1184 271.1h4v18.5h-4zM1300 271.1h4v18.5h-4zM432 253.0h4v18.5h-4zM532 253.0h4v18.5h-4zM1056 253.0h4v18.5h-4zM1204 253.0h4v18.5h-4zM1024 216.8h4v18.5h-4zM1056 216.8h4v18.5h-4zM1204 216.8h4v18.5h-4zM1280 216.8h4v18.5h-4zM244 198.7h4v18.5h-4zM288 198.7h4v18.5h-4zM432 198.7h4v18.5h-4zM568 198.7h4v18.5h-4zM1204 198.7h4v18.5h-4zM1280 198.7h4v18.5h-4zM288 180.6h8v18.5h-8zM500 180.6h4v18.5h-4zM660 162.4h4v18.5h-4zM308 144.3h4v18.5h-4zM292 108.1h4v18.5h-4zM500 108.1h4v18.5h-4zM1184 108.1h4v18.5h-4zM288 90.0h8v18.5h-8z"/><path fill="#ffdf00" d="M304 1049.9h12v18.5h-12zM268 1031.8h12v18.5h-12zM1144 1013.7h8v18.5h-8zM344 995.6h4v18.5h-4zM352 995.6h4v18.5h-4zM308 977.4h8v18.5h-8zM320 977.4h24v18.5h-24zM432 959.3h4v18.5h-4zM828 959.3h4v18.5h-4zM336 923.1h4v18.5h-4zM208 850.7h4v18.5h-4zM364 850.7h4v18.5h-4zM392 850.7h20v18.5h-20zM908 850.7h4v18.5h-4zM308 796.3h4v18.5h-4zM328 796.3h4v18.5h-4zM312 778.2h16v18.5h-16zM304 723.9h4v18.5h-4zM1172 615.2h4v18.5h-4zM308 597.1h12v18.5h-12zM500 542.8h4v18.5h-4zM788 542.8h4v18.5h-4zM908 542.8h4v18.5h-4zM288 506.6h4v18.5h-4zM432 506.6h4v18.5h-4zM1204 506.6h4v18.5h-4zM1280 506.6h4v18.5h-4zM272 488.4h4v18.5h-4zM708 488.4h20v18.5h-20zM732 488.4h12v18.5h-12zM768 488.4h4v18.5h-4zM800 488.4h4v18.5h-4zM816 488.4h4v18.5h-4zM852 488.4h4v18.5h-4zM1212 488.4h12v18.5h-12zM280 470.3h4v18.5h-4zM316 470.3h20v18.5h-20zM404 470.3h12v18.5h-12zM908 470.3h4v18.5h-4zM1056 470.3h4v18.5h-4zM1256 470.3h4v18.5h-4zM1280 470.3h4v18.5h-4zM288 452.2h8v18.5h-8zM432 452.2h4v18.5h-4zM1024 452.2h4v18.5h-4zM1112 452.2h4v18.5h-4zM500 434.1h4v18.5h-4zM1056 434.1h4v18.5h-4zM1184 434.1h4v18.5h-4zM1280 434.1h4v18.5h-4zM288 416.0h8v18.5h-8zM1024 416.0h4v18.5h-4zM1204 416.0h4v18.5h-4zM1184 397.9h4v18.5h-4zM500 379.8h4v18.5h-4zM1056 379.8h4v18.5h-4zM1184 343.6h4v18.5h-4zM908 307.3h4v18.5h-4zM1204 307.3h4v18.5h-4zM1280 307.3h4v18.5h-4zM1300 307.3h4v18.5h-4zM480 271.1h4v18.5h-4zM288 253.0h8v18.5h-8zM1280 253.0h4v18.5h-4zM500 216.8h4v18.5h-4zM568 216.8h4v18.5h-4zM908 216.8h4v18.5h-4zM1184 216.8h4v18.5h-4zM1056 198.7h4v18.5h-4zM996 180.6h4v18.5h-4zM1300 180.6h4v18.5h-4zM432 108.1h4v18.5h-4zM1256 108.1h4v18.5h-4zM996 90.0h4v18.5h-4zM1056 90.0h4v18.5h-4z"/><path fill="#ffcf00" d="M320 1049.9h4v18.5h-4zM336 995.6h4v18.5h-4zM288 959.3h8v18.5h-8zM1056 959.3h4v18.5h-4zM268 923.1h4v18.5h-4zM232 850.7h8v18.5h-8zM260 850.7h8v18.5h-8zM280 850.7h8v18.5h-8zM372 850.7h12v18.5h-12zM568 850.7h4v18.5h-4zM304 760.1h4v18.5h-4zM308 705.8h20v18.5h-20zM304 615.2h4v18.5h-4zM312 615.2h12v18.5h-12zM1024 506.6h4v18.5h-4zM1300 506.6h4v18.5h-4zM464 488.4h4v18.5h-4zM632 488.4h4v18.5h-4zM680 488.4h20v18.5h-20zM788 488.4h8v18.5h-8zM1148 488.4h20v18.5h-20zM288 470.3h8v18.5h-8zM388 470.3h4v18.5h-4zM432 470.3h4v18.5h-4zM500 470.3h4v18.5h-4zM996 470.3h4v18.5h-4zM568 452.2h4v18.5h-4zM1280 416.0h4v18.5h-4zM1300 416.0h4v18.5h-4zM288 397.9h4v18.5h-4zM908 397.9h4v18.5h-4zM908 343.6h4v18.5h-4zM1156 343.6h4v18.5h-4zM288 307.3h8v18.5h-8zM500 307.3h4v18.5h-4zM328 289.2h8v18.5h-8zM908 253.0h4v18.5h-4zM288 216.8h8v18.5h-8zM1300 216.8h4v18.5h-4zM500 198.7h4v18.5h-4zM432 180.6h4v18.5h-4zM908 180.6h4v18.5h-4zM1228 180.6h4v18.5h-4zM1280 180.6h4v18.5h-4zM1204 108.1h4v18.5h-4z"/><path fill="#ffbf00" d="M328 1049.9h20v18.5h-20zM348 1031.8h4v18.5h-4zM244 850.7h4v18.5h-4zM284 760.1h4v18.5h-4zM328 633.3h8v18.5h-8zM308 579.0h4v18.5h-4zM908 506.6h4v18.5h-4zM1056 506.6h4v18.5h-4zM280 488.4h8v18.5h-8zM844 488.4h4v18.5h-4zM360 470.3h8v18.5h-8zM420 470.3h8v18.5h-8zM444 470.3h4v18.5h-4zM428 434.1h4v18.5h-4zM500 397.9h4v18.5h-4zM996 397.9h4v18.5h-4zM496 343.6h4v18.5h-4zM308 325.4h12v18.5h-12zM432 307.3h4v18.5h-4zM568 271.1h4v18.5h-4zM908 271.1h4v18.5h-4zM1280 271.1h4v18.5h-4zM1276 198.7h4v18.5h-4zM1204 180.6h4v18.5h-4zM324 144.3h8v18.5h-8zM288 108.1h4v18.5h-4zM908 108.1h4v18.5h-4zM1156 108.1h4v18.5h-4zM1280 108.1h4v18.5h-4z"/><path fill="#ffaf00" d="M312 1013.7h16v18.5h-16zM216 850.7h4v18.5h-4zM272 850.7h8v18.5h-8zM308 778.2h4v18.5h-4zM304 633.3h20v18.5h-20zM320 579.0h8v18.5h-8zM704 542.8h4v18.5h-4zM776 542.8h4v18.5h-4zM1276 542.8h4v18.5h-4zM784 488.4h4v18.5h-4zM1180 488.4h4v18.5h-4zM376 470.3h4v18.5h-4zM776 434.1h4v18.5h-4zM912 434.1h4v18.5h-4zM1208 434.1h4v18.5h-4zM432 416.0h4v18.5h-4zM564 416.0h8v18.5h-8zM1056 416.0h4v18.5h-4zM1060 379.8h4v18.5h-4zM300 343.6h4v18.5h-4zM1056 343.6h8v18.5h-8zM1208 343.6h4v18.5h-4zM320 325.4h12v18.5h-12zM320 289.2h4v18.5h-4zM1060 198.7h4v18.5h-4zM776 90.0h4v18.5h-4z"/><path fill="#ff9f00" d="M976 959.3h4v18.5h-4zM304 923.1h4v18.5h-4zM304 742.0h4v18.5h-4zM312 579.0h8v18.5h-8zM428 542.8h4v18.5h-4zM496 542.8h4v18.5h-4zM564 506.6h4v18.5h-4zM804 488.4h12v18.5h-12zM912 470.3h4v18.5h-4zM704 434.1h4v18.5h-4zM976 434.1h4v18.5h-4zM1060 434.1h4v18.5h-4zM496 416.0h4v18.5h-4zM976 397.9h4v18.5h-4zM428 343.6h4v18.5h-4zM564 343.6h4v18.5h-4zM704 343.6h4v18.5h-4zM776 343.6h4v18.5h-4zM976 343.6h4v18.5h-4zM308 289.2h4v18.5h-4zM776 253.0h4v18.5h-4zM1060 216.8h4v18.5h-4zM564 198.7h4v18.5h-4z"/><path fill="#ff8f00" d="M324 1049.9h4v18.5h-4zM632 959.3h4v18.5h-4zM1060 959.3h4v18.5h-4zM288 850.7h8v18.5h-8zM632 850.7h4v18.5h-4zM704 850.7h4v18.5h-4zM1060 850.7h4v18.5h-4zM328 760.1h4v18.5h-4zM308 723.9h12v18.5h-12zM308 615.2h4v18.5h-4zM300 542.8h4v18.5h-4zM564 542.8h4v18.5h-4zM912 542.8h4v18.5h-4zM976 542.8h4v18.5h-4zM1060 542.8h4v18.5h-4zM1208 542.8h4v18.5h-4zM300 506.6h4v18.5h-4zM976 506.6h4v18.5h-4zM340 488.4h8v18.5h-8zM404 488.4h4v18.5h-4zM744 488.4h8v18.5h-8zM496 470.3h4v18.5h-4zM564 470.3h4v18.5h-4zM1208 470.3h4v18.5h-4zM1276 470.3h4v18.5h-4zM300 452.2h4v18.5h-4zM564 452.2h4v18.5h-4zM632 452.2h4v18.5h-4zM976 452.2h4v18.5h-4zM1060 452.2h4v18.5h-4zM300 434.1h4v18.5h-4zM564 434.1h4v18.5h-4zM632 434.1h4v18.5h-4zM1276 434.1h4v18.5h-4zM704 416.0h4v18.5h-4zM912 416.0h4v18.5h-4zM300 397.9h4v18.5h-4zM428 397.9h4v18.5h-4zM564 397.9h4v18.5h-4zM1060 397.9h4v18.5h-4zM1276 379.8h4v18.5h-4zM912 343.6h4v18.5h-4zM1276 343.6h4v18.5h-4zM300 307.3h4v18.5h-4zM912 307.3h4v18.5h-4zM1056 307.3h8v18.5h-8zM776 271.1h4v18.5h-4zM564 253.0h4v18.5h-4zM1060 253.0h4v18.5h-4zM1208 253.0h4v18.5h-4zM300 198.7h4v18.5h-4zM496 198.7h4v18.5h-4zM632 198.7h4v18.5h-4zM776 198.7h4v18.5h-4zM912 198.7h4v18.5h-4zM976 198.7h4v18.5h-4zM1208 198.7h4v18.5h-4zM704 108.1h4v18.5h-4zM496 90.0h4v18.5h-4zM976 90.0h4v18.5h-4zM1204 90.0h8v18.5h-8z"/><path fill="#ff8000" d="M316 1049.9h4v18.5h-4zM300 959.3h4v18.5h-4zM496 959.3h4v18.5h-4zM564 959.3h4v18.5h-4zM776 850.7h4v18.5h-4zM912 850.7h4v18.5h-4zM976 850.7h4v18.5h-4zM1208 850.7h4v18.5h-4zM332 742.0h4v18.5h-4zM632 506.6h4v18.5h-4zM1208 506.6h4v18.5h-4zM296 488.4h4v18.5h-4zM772 488.4h4v18.5h-4zM400 470.3h4v18.5h-4zM704 470.3h4v18.5h-4zM1060 470.3h4v18.5h-4zM428 452.2h4v18.5h-4zM704 452.2h4v18.5h-4zM912 452.2h4v18.5h-4zM1208 452.2h4v18.5h-4zM976 416.0h4v18.5h-4zM1060 416.0h4v18.5h-4zM496 397.9h4v18.5h-4zM776 397.9h4v18.5h-4zM1276 397.9h4v18.5h-4zM912 379.8h4v18.5h-4zM976 379.8h4v18.5h-4zM704 307.3h4v18.5h-4zM776 307.3h4v18.5h-4zM976 307.3h4v18.5h-4zM1276 307.3h4v18.5h-4zM300 271.1h4v18.5h-4zM704 271.1h4v18.5h-4zM912 271.1h4v18.5h-4zM1208 271.1h4v18.5h-4zM1276 271.1h4v18.5h-4zM496 253.0h4v18.5h-4zM704 253.0h4v18.5h-4zM912 253.0h4v18.5h-4zM300 216.8h4v18.5h-4zM428 216.8h4v18.5h-4zM776 216.8h4v18.5h-4zM428 198.7h4v18.5h-4zM704 198.7h4v18.5h-4zM564 180.6h4v18.5h-4zM704 180.6h4v18.5h-4zM428 108.1h4v18.5h-4zM776 108.1h4v18.5h-4zM976 108.1h4v18.5h-4zM564 90.0h4v18.5h-4zM912 90.0h4v18.5h-4zM1060 90.0h4v18.5h-4zM1276 90.0h4v18.5h-4z"/><path fill="#ff7000" d="M304 1031.8h4v18.5h-4zM308 995.6h4v18.5h-4zM912 959.3h4v18.5h-4zM496 850.7h4v18.5h-4zM312 796.3h16v18.5h-16zM308 760.1h20v18.5h-20zM704 506.6h4v18.5h-4zM912 506.6h4v18.5h-4zM304 488.4h4v18.5h-4zM352 488.4h4v18.5h-4zM496 488.4h4v18.5h-4zM704 488.4h4v18.5h-4zM780 488.4h4v18.5h-4zM776 452.2h4v18.5h-4zM300 416.0h4v18.5h-4zM776 416.0h4v18.5h-4zM1208 416.0h4v18.5h-4zM1276 416.0h4v18.5h-4zM632 397.9h4v18.5h-4zM704 397.9h4v18.5h-4zM912 397.9h4v18.5h-4zM496 379.8h4v18.5h-4zM564 379.8h4v18.5h-4zM632 379.8h4v18.5h-4zM704 379.8h4v18.5h-4zM776 379.8h4v18.5h-4zM632 343.6h4v18.5h-4zM564 307.3h4v18.5h-4zM312 289.2h8v18.5h-8zM976 271.1h4v18.5h-4zM1060 271.1h4v18.5h-4zM976 253.0h4v18.5h-4zM1276 253.0h4v18.5h-4zM564 216.8h4v18.5h-4zM704 216.8h4v18.5h-4zM912 216.8h4v18.5h-4zM976 216.8h4v18.5h-4zM1276 216.8h4v18.5h-4zM632 180.6h4v18.5h-4zM776 180.6h4v18.5h-4zM1208 180.6h4v18.5h-4zM300 108.1h4v18.5h-4zM564 108.1h4v18.5h-4zM632 108.1h4v18.5h-4zM1060 108.1h4v18.5h-4zM1208 108.1h4v18.5h-4zM632 90.0h4v18.5h-4zM704 90.0h4v18.5h-4z"/><path fill="#ff6000" d="M328 995.6h4v18.5h-4zM428 959.3h4v18.5h-4zM704 959.3h4v18.5h-4zM776 959.3h4v18.5h-4zM1208 959.3h4v18.5h-4zM300 850.7h8v18.5h-8zM564 850.7h4v18.5h-4zM1276 850.7h4v18.5h-4zM324 723.9h8v18.5h-8zM632 542.8h4v18.5h-4zM428 506.6h4v18.5h-4zM496 506.6h4v18.5h-4zM776 506.6h4v18.5h-4zM1060 506.6h4v18.5h-4zM440 488.4h4v18.5h-4zM1208 488.4h4v18.5h-4zM632 470.3h4v18.5h-4zM776 470.3h4v18.5h-4zM1276 452.2h4v18.5h-4zM496 434.1h4v18.5h-4zM428 416.0h4v18.5h-4zM632 416.0h4v18.5h-4zM1208 397.9h4v18.5h-4zM428 379.8h4v18.5h-4zM1136 343.6h4v18.5h-4zM496 307.3h4v18.5h-4zM632 307.3h4v18.5h-4zM324 289.2h4v18.5h-4zM428 271.1h4v18.5h-4zM496 271.1h4v18.5h-4zM564 271.1h4v18.5h-4zM300 253.0h4v18.5h-4zM428 253.0h4v18.5h-4zM632 253.0h4v18.5h-4zM632 216.8h4v18.5h-4zM1208 216.8h4v18.5h-4zM300 180.6h4v18.5h-4zM496 180.6h4v18.5h-4zM912 180.6h4v18.5h-4zM1276 180.6h4v18.5h-4zM332 162.4h4v18.5h-4zM312 144.3h12v18.5h-12zM496 108.1h4v18.5h-4zM912 108.1h4v18.5h-4zM1276 108.1h4v18.5h-4zM428 90.0h4v18.5h-4z"/><path fill="#ff5000" d="M340 1031.8h4v18.5h-4zM1276 959.3h4v18.5h-4zM324 742.0h8v18.5h-8zM844 542.8h4v18.5h-4zM292 488.4h4v18.5h-4zM360 488.4h8v18.5h-8zM372 488.4h16v18.5h-16zM300 470.3h4v18.5h-4zM428 470.3h4v18.5h-4zM976 470.3h4v18.5h-4zM496 452.2h4v18.5h-4zM356 434.1h4v18.5h-4zM844 434.1h4v18.5h-4zM300 379.8h4v18.5h-4zM1208 379.8h4v18.5h-4zM356 343.6h4v18.5h-4zM428 307.3h4v18.5h-4zM1208 307.3h4v18.5h-4zM632 271.1h4v18.5h-4zM428 180.6h4v18.5h-4zM300 90.0h4v18.5h-4z"/><path fill="#ff4000" d="M428 850.7h4v18.5h-4zM356 542.8h4v18.5h-4zM1136 542.8h4v18.5h-4zM1276 506.6h4v18.5h-4zM400 488.4h4v18.5h-4zM412 488.4h12v18.5h-12zM452 488.4h8v18.5h-8zM1136 434.1h4v18.5h-4zM844 343.6h4v18.5h-4zM844 198.7h4v18.5h-4zM1136 198.7h4v18.5h-4zM976 180.6h4v18.5h-4zM1060 180.6h4v18.5h-4zM308 162.4h8v18.5h-8z"/><path fill="#ff3000" d="M324 1031.8h16v18.5h-16zM312 850.7h28v18.5h-28zM320 723.9h4v18.5h-4zM332 488.4h8v18.5h-8zM496 216.8h4v18.5h-4zM356 198.7h4v18.5h-4z"/><path fill="#ff2000" d="M316 1031.8h4v18.5h-4zM320 995.6h8v18.5h-8zM356 506.6h4v18.5h-4zM276 488.4h4v18.5h-4zM288 488.4h4v18.5h-4zM1136 488.4h4v18.5h-4zM356 379.8h4v18.5h-4zM844 271.1h4v18.5h-4z"/><path fill="#ff1000" d="M844 959.3h4v18.5h-4zM340 850.7h4v18.5h-4zM308 742.0h4v18.5h-4zM844 506.6h4v18.5h-4zM388 488.4h12v18.5h-12zM408 488.4h4v18.5h-4zM444 488.4h4v18.5h-4zM844 470.3h4v18.5h-4zM844 452.2h4v18.5h-4zM1136 416.0h4v18.5h-4zM356 397.9h4v18.5h-4zM844 397.9h4v18.5h-4zM1136 397.9h4v18.5h-4zM844 379.8h4v18.5h-4zM1136 379.8h4v18.5h-4zM844 307.3h4v18.5h-4zM356 271.1h4v18.5h-4zM844 253.0h4v18.5h-4zM356 216.8h4v18.5h-4zM1136 180.6h4v18.5h-4zM356 108.1h4v18.5h-4zM844 90.0h4v18.5h-4z"/><path fill="#ff0000" d="M356 959.3h4v18.5h-4zM308 850.7h4v18.5h-4zM1136 850.7h4v18.5h-4zM316 742.0h8v18.5h-8zM1136 506.6h4v18.5h-4zM300 488.4h4v18.5h-4zM348 488.4h4v18.5h-4zM424 488.4h12v18.5h-12zM776 488.4h4v18.5h-4zM1136 470.3h4v18.5h-4zM356 452.2h4v18.5h-4zM1136 452.2h4v18.5h-4zM356 416.0h4v18.5h-4zM844 416.0h4v18.5h-4zM356 307.3h4v18.5h-4zM1136 307.3h4v18.5h-4zM1136 271.1h4v18.5h-4zM356 253.0h4v18.5h-4zM356 180.6h4v18.5h-4zM844 108.1h4v18.5h-4zM1136 108.1h4v18.5h-4zM1136 90.0h4v18.5h-4z"/><path fill="#ef0000" d="M320 1031.8h4v18.5h-4zM1136 959.3h4v18.5h-4zM844 850.7h4v18.5h-4zM368 488.4h4v18.5h-4zM1136 253.0h4v18.5h-4zM844 216.8h4v18.5h-4zM1136 216.8h4v18.5h-4zM844 180.6h4v18.5h-4zM328 162.4h4v18.5h-4zM356 90.0h4v18.5h-4z"/><path fill="#df0000" d="M312 995.6h8v18.5h-8zM332 923.1h4v18.5h-4zM356 850.7h4v18.5h-4zM448 488.4h4v18.5h-4zM356 470.3h4v18.5h-4z"/><path fill="#cf0000" d="M308 1031.8h8v18.5h-8zM312 742.0h4v18.5h-4zM460 488.4h4v18.5h-4z"/><path fill="#bf0000" d="M356 488.4h4v18.5h-4zM436 488.4h4v18.5h-4z"/><path fill="#af0000" d="M316 162.4h12v18.5h-12z"/><path fill="#8f0000" d="M308 923.1h24v18.5h-24z"/><path fill="#00009f" d="M291 1013.7h2v18.5h-2zM291 995.6h2v18.5h-2zM291 977.4h2v18.5h-2zM291 941.2h2v18.5h-2zM291 923.1h2v18.5h-2zM291 905.0h2v18.5h-2zM291 886.9h2v18.5h-2zM291 868.8h2v18.5h-2zM291 832.6h2v18.5h-2zM291 814.4h2v18.5h-2zM291 796.3h2v18.5h-2zM291 778.2h2v18.5h-2zM291 760.1h2v18.5h-2zM291 723.9h2v18.5h-2zM291 705.8h2v18.5h-2zM291 687.7h2v18.5h-2zM291 669.6h2v18.5h-2zM291 651.4h2v18.5h-2zM291 633.3h2v18.5h-2zM291 615.2h2v18.5h-2zM291 597.1h2v18.5h-2zM291 524.7h2v18.5h-2zM291 361.7h2v18.5h-2zM291 325.4h2v18.5h-2zM291 289.2h2v18.5h-2zM291 234.9h2v18.5h-2zM291 144.3h2v18.5h-2zM291 126.2h2v18.5h-2zM301 1013.7h2v18.5h-2zM301 995.6h2v18.5h-2zM301 977.4h2v18.5h-2zM301 941.2h2v18.5h-2zM301 923.1h2v18.5h-2zM301 905.0h2v18.5h-2zM301 886.9h2v18.5h-2zM301 868.8h2v18.5h-2zM301 832.6h2v18.5h-2zM301 814.4h2v18.5h-2zM301 796.3h2v18.5h-2zM301 778.2h2v18.5h-2zM301 760.1h2v18.5h-2zM301 723.9h2v18.5h-2zM301 705.8h2v18.5h-2zM301 687.7h2v18.5h-2zM301 669.6h2v18.5h-2zM301 651.4h2v18.5h-2zM301 633.3h2v18.5h-2zM301 615.2h2v18.5h-2zM301 597.1h2v18.5h-2zM301 524.7h2v18.5h-2zM301 361.7h2v18.5h-2zM301 325.4h2v18.5h-2zM301 289.2h2v18.5h-2zM301 234.9h2v18.5h-2zM301 144.3h2v18.5h-2zM301 126.2h2v18.5h-2zM356 1013.7h3v18.5h-3zM356 995.6h3v18.5h-3zM356 977.4h3v18.5h-3zM356 941.2h3v18.5h-3zM356 923.1h3v18.5h-3zM356 905.0h3v18.5h-3zM356 886.9h3v18.5h-3zM356 868.8h3v18.5h-3zM356 832.6h3v18.5h-3zM356 814.4h3v18.5h-3zM356 796.3h3v18.5h-3zM356 778.2h3v18.5h-3zM356 760.1h3v18.5h-3zM356 723.9h3v18.5h-3zM356 705.8h3v18.5h-3zM356 687.7h3v18.5h-3zM356 669.6h3v18.5h-3zM356 651.4h3v18.5h-3zM356 633.3h3v18.5h-3zM356 615.2h3v18.5h-3zM356 597.1h3v18.5h-3zM356 524.7h3v18.5h-3zM356 361.7h3v18.5h-3zM356 325.4h3v18.5h-3zM356 289.2h3v18.5h-3zM356 234.9h3v18.5h-3zM356 144.3h3v18.5h-3zM356 126.2h3v18.5h-3zM430 1013.7h3v18.5h-3zM430 995.6h3v18.5h-3zM430 977.4h3v18.5h-3zM430 941.2h3v18.5h-3zM430 923.1h3v18.5h-3zM430 905.0h3v18.5h-3zM430 886.9h3v18.5h-3zM430 868.8h3v18.5h-3zM430 832.6h3v18.5h-3zM430 814.4h3v18.5h-3zM430 796.3h3v18.5h-3zM430 778.2h3v18.5h-3zM430 760.1h3v18.5h-3zM430 723.9h3v18.5h-3zM430 705.8h3v18.5h-3zM430 687.7h3v18.5h-3zM430 669.6h3v18.5h-3zM430 651.4h3v18.5h-3zM430 633.3h3v18.5h-3zM430 615.2h3v18.5h-3zM430 597.1h3v18.5h-3zM430 524.7h3v18.5h-3zM430 361.7h3v18.5h-3zM430 325.4h3v18.5h-3zM430 289.2h3v18.5h-3zM430 234.9h3v18.5h-3zM430 144.3h3v18.5h-3zM430 126.2h3v18.5h-3zM498 1013.7h3v18.5h-3zM498 995.6h3v18.5h-3zM498 977.4h3v18.5h-3zM498 941.2h3v18.5h-3zM498 923.1h3v18.5h-3zM498 905.0h3v18.5h-3zM498 886.9h3v18.5h-3zM498 868.8h3v18.5h-3zM498 832.6h3v18.5h-3zM498 814.4h3v18.5h-3zM498 796.3h3v18.5h-3zM498 778.2h3v18.5h-3zM498 760.1h3v18.5h-3zM498 723.9h3v18.5h-3zM498 705.8h3v18.5h-3zM498 687.7h3v18.5h-3zM498 669.6h3v18.5h-3zM498 651.4h3v18.5h-3zM498 633.3h3v18.5h-3zM498 615.2h3v18.5h-3zM498 597.1h3v18.5h-3zM498 524.7h3v18.5h-3zM498 361.7h3v18.5h-3zM498 325.4h3v18.5h-3zM498 289.2h3v18.5h-3zM498 234.9h3v18.5h-3zM498 144.3h3v18.5h-3zM498 126.2h3v18.5h-3zM566 1013.7h3v18.5h-3zM566 995.6h3v18.5h-3zM566 977.4h3v18.5h-3zM566 941.2h3v18.5h-3zM566 923.1h3v18.5h-3zM566 905.0h3v18.5h-3zM566 886.9h3v18.5h-3zM566 868.8h3v18.5h-3zM566 832.6h3v18.5h-3zM566 814.4h3v18.5h-3zM566 796.3h3v18.5h-3zM566 778.2h3v18.5h-3zM566 760.1h3v18.5h-3zM566 723.9h3v18.5h-3zM566 705.8h3v18.5h-3zM566 687.7h3v18.5h-3zM566 669.6h3v18.5h-3zM566 651.4h3v18.5h-3zM566 633.3h3v18.5h-3zM566 615.2h3v18.5h-3zM566 597.1h3v18.5h-3zM566 524.7h3v18.5h-3zM566 361.7h3v18.5h-3zM566 325.4h3v18.5h-3zM566 289.2h3v18.5h-3zM566 234.9h3v18.5h-3zM566 144.3h3v18.5h-3zM566 126.2h3v18.5h-3zM634 1013.7h2v18.5h-2zM634 995.6h2v18.5h-2zM634 977.4h2v18.5h-2zM634 941.2h2v18.5h-2zM634 923.1h2v18.5h-2zM634 905.0h2v18.5h-2zM634 886.9h2v18.5h-2zM634 868.8h2v18.5h-2zM634 832.6h2v18.5h-2zM634 814.4h2v18.5h-2zM634 796.3h2v18.5h-2zM634 778.2h2v18.5h-2zM634 760.1h2v18.5h-2zM634 723.9h2v18.5h-2zM634 705.8h2v18.5h-2zM634 687.7h2v18.5h-2zM634 669.6h2v18.5h-2zM634 651.4h2v18.5h-2zM634 633.3h2v18.5h-2zM634 615.2h2v18.5h-2zM634 597.1h2v18.5h-2zM634 524.7h2v18.5h-2zM634 361.7h2v18.5h-2zM634 325.4h2v18.5h-2zM634 289.2h2v18.5h-2zM634 234.9h2v18.5h-2zM634 144.3h2v18.5h-2zM634 126.2h2v18.5h-2zM705 1013.7h2v18.5h-2zM705 995.6h2v18.5h-2zM705 977.4h2v18.5h-2zM705 941.2h2v18.5h-2zM705 923.1h2v18.5h-2zM705 905.0h2v18.5h-2zM705 886.9h2v18.5h-2zM705 868.8h2v18.5h-2zM705 832.6h2v18.5h-2zM705 814.4h2v18.5h-2zM705 796.3h2v18.5h-2zM705 778.2h2v18.5h-2zM705 760.1h2v18.5h-2zM705 723.9h2v18.5h-2zM705 705.8h2v18.5h-2zM705 687.7h2v18.5h-2zM705 669.6h2v18.5h-2zM705 651.4h2v18.5h-2zM705 633.3h2v18.5h-2zM705 615.2h2v18.5h-2zM705 597.1h2v18.5h-2zM705 524.7h2v18.5h-2zM705 361.7h2v18.5h-2zM705 325.4h2v18.5h-2zM705 289.2h2v18.5h-2zM705 234.9h2v18.5h-2zM705 144.3h2v18.5h-2zM705 126.2h2v18.5h-2zM778 1013.7h2v18.5h-2zM778 995.6h2v18.5h-2zM778 977.4h2v18.5h-2zM778 941.2h2v18.5h-2zM778 923.1h2v18.5h-2zM778 905.0h2v18.5h-2zM778 886.9h2v18.5h-2zM778 868.8h2v18.5h-2zM778 832.6h2v18.5h-2zM778 814.4h2v18.5h-2zM778 796.3h2v18.5h-2zM778 778.2h2v18.5h-2zM778 760.1h2v18.5h-2zM778 723.9h2v18.5h-2zM778 705.8h2v18.5h-2zM778 687.7h2v18.5h-2zM778 669.6h2v18.5h-2zM778 651.4h2v18.5h-2zM778 633.3h2v18.5h-2zM778 615.2h2v18.5h-2zM778 597.1h2v18.5h-2zM778 524.7h2v18.5h-2zM778 361.7h2v18.5h-2zM778 325.4h2v18.5h-2zM778 289.2h2v18.5h-2zM778 234.9h2v18.5h-2zM778 144.3h2v18.5h-2zM778 126.2h2v18.5h-2zM844 1013.7h3v18.5h-3zM844 995.6h3v18.5h-3zM844 977.4h3v18.5h-3zM844 941.2h3v18.5h-3zM844 923.1h3v18.5h-3zM844 905.0h3v18.5h-3zM844 886.9h3v18.5h-3zM844 868.8h3v18.5h-3zM844 832.6h3v18.5h-3zM844 814.4h3v18.5h-3zM844 796.3h3v18.5h-3zM844 778.2h3v18.5h-3zM844 760.1h3v18.5h-3zM844 723.9h3v18.5h-3zM844 705.8h3v18.5h-3zM844 687.7h3v18.5h-3zM844 669.6h3v18.5h-3zM844 651.4h3v18.5h-3zM844 633.3h3v18.5h-3zM844 615.2h3v18.5h-3zM844 597.1h3v18.5h-3zM844 524.7h3v18.5h-3zM844 361.7h3v18.5h-3zM844 325.4h3v18.5h-3zM844 289.2h3v18.5h-3zM844 234.9h3v18.5h-3zM844 144.3h3v18.5h-3zM844 126.2h3v18.5h-3zM911 1013.7h3v18.5h-3zM911 995.6h3v18.5h-3zM911 977.4h3v18.5h-3zM911 941.2h3v18.5h-3zM911 923.1h3v18.5h-3zM911 905.0h3v18.5h-3zM911 886.9h3v18.5h-3zM911 868.8h3v18.5h-3zM911 832.6h3v18.5h-3zM911 814.4h3v18.5h-3zM911 796.3h3v18.5h-3zM911 778.2h3v18.5h-3zM911 760.1h3v18.5h-3zM911 723.9h3v18.5h-3zM911 705.8h3v18.5h-3zM911 687.7h3v18.5h-3zM911 669.6h3v18.5h-3zM911 651.4h3v18.5h-3zM911 633.3h3v18.5h-3zM911 615.2h3v18.5h-3zM911 597.1h3v18.5h-3zM911 524.7h3v18.5h-3zM911 361.7h3v18.5h-3zM911 325.4h3v18.5h-3zM911 289.2h3v18.5h-3zM911 234.9h3v18.5h-3zM911 144.3h3v18.5h-3zM911 126.2h3v18.5h-3zM978 1013.7h2v18.5h-2zM978 995.6h2v18.5h-2zM978 977.4h2v18.5h-2zM978 941.2h2v18.5h-2zM978 923.1h2v18.5h-2zM978 905.0h2v18.5h-2zM978 886.9h2v18.5h-2zM978 868.8h2v18.5h-2zM978 832.6h2v18.5h-2zM978 814.4h2v18.5h-2zM978 796.3h2v18.5h-2zM978 778.2h2v18.5h-2zM978 760.1h2v18.5h-2zM978 723.9h2v18.5h-2zM978 705.8h2v18.5h-2zM978 687.7h2v18.5h-2zM978 669.6h2v18.5h-2zM978 651.4h2v18.5h-2zM978 633.3h2v18.5h-2zM978 615.2h2v18.5h-2zM978 597.1h2v18.5h-2zM978 524.7h2v18.5h-2zM978 361.7h2v18.5h-2zM978 325.4h2v18.5h-2zM978 289.2h2v18.5h-2zM978 234.9h2v18.5h-2zM978 144.3h2v18.5h-2zM978 126.2h2v18.5h-2zM1059 1013.7h3v18.5h-3zM1059 995.6h3v18.5h-3zM1059 977.4h3v18.5h-3zM1059 941.2h3v18.5h-3zM1059 923.1h3v18.5h-3zM1059 905.0h3v18.5h-3zM1059 886.9h3v18.5h-3zM1059 868.8h3v18.5h-3zM1059 832.6h3v18.5h-3zM1059 814.4h3v18.5h-3zM1059 796.3h3v18.5h-3zM1059 778.2h3v18.5h-3zM1059 760.1h3v18.5h-3zM1059 723.9h3v18.5h-3zM1059 705.8h3v18.5h-3zM1059 687.7h3v18.5h-3zM1059 669.6h3v18.5h-3zM1059 651.4h3v18.5h-3zM1059 633.3h3v18.5h-3zM1059 615.2h3v18.5h-3zM1059 597.1h3v18.5h-3zM1059 524.7h3v18.5h-3zM1059 361.7h3v18.5h-3zM1059 325.4h3v18.5h-3zM1059 289.2h3v18.5h-3zM1059 234.9h3v18.5h-3zM1059 144.3h3v18.5h-3zM1059 126.2h3v18.5h-3zM1136 1013.7h3v18.5h-3zM1136 995.6h3v18.5h-3zM1136 977.4h3v18.5h-3zM1136 941.2h3v18.5h-3zM1136 923.1h3v18.5h-3zM1136 905.0h3v18.5h-3zM1136 886.9h3v18.5h-3zM1136 868.8h3v18.5h-3zM1136 832.6h3v18.5h-3zM1136 814.4h3v18.5h-3zM1136 796.3h3v18.5h-3zM1136 778.2h3v18.5h-3zM1136 760.1h3v18.5h-3zM1136 723.9h3v18.5h-3zM1136 705.8h3v18.5h-3zM1136 687.7h3v18.5h-3zM1136 669.6h3v18.5h-3zM1136 651.4h3v18.5h-3zM1136 633.3h3v18.5h-3zM1136 615.2h3v18.5h-3zM1136 597.1h3v18.5h-3zM1136 524.7h3v18.5h-3zM1136 361.7h3v18.5h-3zM1136 325.4h3v18.5h-3zM1136 289.2h3v18.5h-3zM1136 234.9h3v18.5h-3zM1136 144.3h3v18.5h-3zM1136 126.2h3v18.5h-3zM1207 1013.7h3v18.5h-3zM1207 995.6h3v18.5h-3zM1207 977.4h3v18.5h-3zM1207 941.2h3v18.5h-3zM1207 923.1h3v18.5h-3zM1207 905.0h3v18.5h-3zM1207 886.9h3v18.5h-3zM1207 868.8h3v18.5h-3zM1207 832.6h3v18.5h-3zM1207 814.4h3v18.5h-3zM1207 796.3h3v18.5h-3zM1207 778.2h3v18.5h-3zM1207 760.1h3v18.5h-3zM1207 723.9h3v18.5h-3zM1207 705.8h3v18.5h-3zM1207 687.7h3v18.5h-3zM1207 669.6h3v18.5h-3zM1207 651.4h3v18.5h-3zM1207 633.3h3v18.5h-3zM1207 615.2h3v18.5h-3zM1207 597.1h3v18.5h-3zM1207 524.7h3v18.5h-3zM1207 361.7h3v18.5h-3zM1207 325.4h3v18.5h-3zM1207 289.2h3v18.5h-3zM1207 234.9h3v18.5h-3zM1207 144.3h3v18.5h-3zM1207 126.2h3v18.5h-3zM1278 1013.7h3v18.5h-3zM1278 995.6h3v18.5h-3zM1278 977.4h3v18.5h-3zM1278 941.2h3v18.5h-3zM1278 923.1h3v18.5h-3zM1278 905.0h3v18.5h-3zM1278 886.9h3v18.5h-3zM1278 868.8h3v18.5h-3zM1278 832.6h3v18.5h-3zM1278 814.4h3v18.5h-3zM1278 796.3h3v18.5h-3zM1278 778.2h3v18.5h-3zM1278 760.1h3v18.5h-3zM1278 723.9h3v18.5h-3zM1278 705.8h3v18.5h-3zM1278 687.7h3v18.5h-3zM1278 669.6h3v18.5h-3zM1278 651.4h3v18.5h-3zM1278 633.3h3v18.5h-3zM1278 615.2h3v18.5h-3zM1278 597.1h3v18.5h-3zM1278 524.7h3v18.5h-3zM1278 361.7h3v18.5h-3zM1278 325.4h3v18.5h-3zM1278 289.2h3v18.5h-3zM1278 234.9h3v18.5h-3zM1278 144.3h3v18.5h-3zM1278 126.2h3v18.5h-3z"/><path fill="#0000ff" d="M291 742.0h2v18.5h-2zM291 579.0h2v18.5h-2zM291 560.9h2v18.5h-2zM291 162.4h2v18.5h-2zM301 742.0h2v18.5h-2zM301 579.0h2v18.5h-2zM301 560.9h2v18.5h-2zM301 162.4h2v18.5h-2zM356 742.0h3v18.5h-3zM356 579.0h3v18.5h-3zM356 560.9h3v18.5h-3zM356 162.4h3v18.5h-3zM430 742.0h3v18.5h-3zM430 579.0h3v18.5h-3zM430 560.9h3v18.5h-3zM430 162.4h3v18.5h-3zM498 742.0h3v18.5h-3zM498 579.0h3v18.5h-3zM498 560.9h3v18.5h-3zM498 162.4h3v18.5h-3zM566 742.0h3v18.5h-3zM566 579.0h3v18.5h-3zM566 560.9h3v18.5h-3zM566 162.4h3v18.5h-3zM634 742.0h2v18.5h-2zM634 579.0h2v18.5h-2zM634 560.9h2v18.5h-2zM634 162.4h2v18.5h-2zM705 742.0h2v18.5h-2zM705 579.0h2v18.5h-2zM705 560.9h2v18.5h-2zM705 162.4h2v18.5h-2zM778 742.0h2v18.5h-2zM778 579.0h2v18.5h-2zM778 560.9h2v18.5h-2zM778 162.4h2v18.5h-2zM844 742.0h3v18.5h-3zM844 579.0h3v18.5h-3zM844 560.9h3v18.5h-3zM844 162.4h3v18.5h-3zM911 742.0h3v18.5h-3zM911 579.0h3v18.5h-3zM911 560.9h3v18.5h-3zM911 162.4h3v18.5h-3zM978 742.0h2v18.5h-2zM978 579.0h2v18.5h-2zM978 560.9h2v18.5h-2zM978 162.4h2v18.5h-2zM1059 742.0h3v18.5h-3zM1059 579.0h3v18.5h-3zM1059 560.9h3v18.5h-3zM1059 162.4h3v18.5h-3zM1136 742.0h3v18.5h-3zM1136 579.0h3v18.5h-3zM1136 560.9h3v18.5h-3zM1136 162.4h3v18.5h-3zM1207 742.0h3v18.5h-3zM1207 579.0h3v18.5h-3zM1207 560.9h3v18.5h-3zM1207 162.4h3v18.5h-3zM1278 742.0h3v18.5h-3zM1278 579.0h3v18.5h-3zM1278 560.9h3v18.5h-3zM1278 162.4h3v18.5h-3z"/><path fill="#0030ff" d="M291 1031.8h2v18.5h-2zM301 1031.8h2v18.5h-2zM356 1031.8h3v18.5h-3zM430 1031.8h3v18.5h-3zM498 1031.8h3v18.5h-3zM566 1031.8h3v18.5h-3zM634 1031.8h2v18.5h-2zM705 1031.8h2v18.5h-2zM778 1031.8h2v18.5h-2zM844 1031.8h3v18.5h-3zM911 1031.8h3v18.5h-3zM978 1031.8h2v18.5h-2zM1059 1031.8h3v18.5h-3zM1136 1031.8h3v18.5h-3zM1207 1031.8h3v18.5h-3zM1278 1031.8h3v18.5h-3z"/><path fill="#008fff" d="M291 1049.9h2v18.5h-2zM301 1049.9h2v18.5h-2zM356 1049.9h3v18.5h-3zM430 1049.9h3v18.5h-3zM498 1049.9h3v18.5h-3zM566 1049.9h3v18.5h-3zM634 1049.9h2v18.5h-2zM705 1049.9h2v18.5h-2zM778 1049.9h2v18.5h-2zM844 1049.9h3v18.5h-3zM911 1049.9h3v18.5h-3zM978 1049.9h2v18.5h-2zM1059 1049.9h3v18.5h-3zM1136 1049.9h3v18.5h-3zM1207 1049.9h3v18.5h-3zM1278 1049.9h3v18.5h-3z"/><path fill="#ffff00" d="M911 488.4h3v18.5h-3z"/><path fill="#ff9f00" d="M566 488.4h3v18.5h-3zM844 488.4h3v18.5h-3zM978 488.4h2v18.5h-2zM1059 488.4h3v18.5h-3zM1278 488.4h3v18.5h-3z"/><path fill="#df0000" d="M291 542.8h2v18.5h-2zM291 434.1h2v18.5h-2zM291 343.6h2v18.5h-2zM291 198.7h2v18.5h-2zM301 542.8h2v18.5h-2zM301 434.1h2v18.5h-2zM301 343.6h2v18.5h-2zM301 198.7h2v18.5h-2zM356 542.8h3v18.5h-3zM356 434.1h3v18.5h-3zM356 343.6h3v18.5h-3zM356 198.7h3v18.5h-3zM430 542.8h3v18.5h-3zM430 434.1h3v18.5h-3zM430 343.6h3v18.5h-3zM430 198.7h3v18.5h-3zM498 542.8h3v18.5h-3zM498 434.1h3v18.5h-3zM498 343.6h3v18.5h-3zM498 198.7h3v18.5h-3zM566 542.8h3v18.5h-3zM566 434.1h3v18.5h-3zM566 343.6h3v18.5h-3zM566 198.7h3v18.5h-3zM634 542.8h2v18.5h-2zM634 488.4h2v18.5h-2zM634 434.1h2v18.5h-2zM634 343.6h2v18.5h-2zM634 198.7h2v18.5h-2zM705 542.8h2v18.5h-2zM705 488.4h2v18.5h-2zM705 434.1h2v18.5h-2zM705 343.6h2v18.5h-2zM705 198.7h2v18.5h-2zM778 542.8h2v18.5h-2zM778 434.1h2v18.5h-2zM778 343.6h2v18.5h-2zM778 198.7h2v18.5h-2zM844 542.8h3v18.5h-3zM844 434.1h3v18.5h-3zM844 343.6h3v18.5h-3zM844 198.7h3v18.5h-3zM911 542.8h3v18.5h-3zM911 434.1h3v18.5h-3zM911 343.6h3v18.5h-3zM911 198.7h3v18.5h-3zM978 542.8h2v18.5h-2zM978 434.1h2v18.5h-2zM978 343.6h2v18.5h-2zM978 198.7h2v18.5h-2zM1059 542.8h3v18.5h-3zM1059 434.1h3v18.5h-3zM1059 343.6h3v18.5h-3zM1059 198.7h3v18.5h-3zM1136 542.8h3v18.5h-3zM1136 488.4h3v18.5h-3zM1136 434.1h3v18.5h-3zM1136 343.6h3v18.5h-3zM1136 198.7h3v18.5h-3zM1207 542.8h3v18.5h-3zM1207 488.4h3v18.5h-3zM1207 434.1h3v18.5h-3zM1207 343.6h3v18.5h-3zM1207 198.7h3v18.5h-3zM1278 542.8h3v18.5h-3zM1278 434.1h3v18.5h-3zM1278 343.6h3v18.5h-3zM1278 198.7h3v18.5h-3z"/><path fill="#8f0000" d="M291 959.3h2v18.5h-2zM291 850.7h2v18.5h-2zM291 506.6h2v18.5h-2zM291 488.4h2v18.5h-2zM291 470.3h2v18.5h-2zM291 452.2h2v18.5h-2zM291 416.0h2v18.5h-2zM291 397.9h2v18.5h-2zM291 379.8h2v18.5h-2zM291 307.3h2v18.5h-2zM291 271.1h2v18.5h-2zM291 253.0h2v18.5h-2zM291 216.8h2v18.5h-2zM291 180.6h2v18.5h-2zM291 108.1h2v18.5h-2zM291 90.0h2v18.5h-2zM301 959.3h2v18.5h-2zM301 850.7h2v18.5h-2zM301 506.6h2v18.5h-2zM301 488.4h2v18.5h-2zM301 470.3h2v18.5h-2zM301 452.2h2v18.5h-2zM301 416.0h2v18.5h-2zM301 397.9h2v18.5h-2zM301 379.8h2v18.5h-2zM301 307.3h2v18.5h-2zM301 271.1h2v18.5h-2zM301 253.0h2v18.5h-2zM301 216.8h2v18.5h-2zM301 180.6h2v18.5h-2zM301 108.1h2v18.5h-2zM301 90.0h2v18.5h-2zM356 959.3h3v18.5h-3zM356 850.7h3v18.5h-3zM356 506.6h3v18.5h-3zM356 488.4h3v18.5h-3zM356 470.3h3v18.5h-3zM356 452.2h3v18.5h-3zM356 416.0h3v18.5h-3zM356 397.9h3v18.5h-3zM356 379.8h3v18.5h-3zM356 307.3h3v18.5h-3zM356 271.1h3v18.5h-3zM356 253.0h3v18.5h-3zM356 216.8h3v18.5h-3zM356 180.6h3v18.5h-3zM356 108.1h3v18.5h-3zM356 90.0h3v18.5h-3zM430 959.3h3v18.5h-3zM430 850.7h3v18.5h-3zM430 506.6h3v18.5h-3zM430 488.4h3v18.5h-3zM430 470.3h3v18.5h-3zM430 452.2h3v18.5h-3zM430 416.0h3v18.5h-3zM430 397.9h3v18.5h-3zM430 379.8h3v18.5h-3zM430 307.3h3v18.5h-3zM430 271.1h3v18.5h-3zM430 253.0h3v18.5h-3zM430 216.8h3v18.5h-3zM430 180.6h3v18.5h-3zM430 108.1h3v18.5h-3zM430 90.0h3v18.5h-3zM498 959.3h3v18.5h-3zM498 850.7h3v18.5h-3zM498 506.6h3v18.5h-3zM498 488.4h3v18.5h-3zM498 470.3h3v18.5h-3zM498 452.2h3v18.5h-3zM498 416.0h3v18.5h-3zM498 397.9h3v18.5h-3zM498 379.8h3v18.5h-3zM498 307.3h3v18.5h-3zM498 271.1h3v18.5h-3zM498 253.0h3v18.5h-3zM498 216.8h3v18.5h-3zM498 180.6h3v18.5h-3zM498 108.1h3v18.5h-3zM498 90.0h3v18.5h-3zM566 959.3h3v18.5h-3zM566 850.7h3v18.5h-3zM566 506.6h3v18.5h-3zM566 470.3h3v18.5h-3zM566 452.2h3v18.5h-3zM566 416.0h3v18.5h-3zM566 397.9h3v18.5h-3zM566 379.8h3v18.5h-3zM566 307.3h3v18.5h-3zM566 271.1h3v18.5h-3zM566 253.0h3v18.5h-3zM566 216.8h3v18.5h-3zM566 180.6h3v18.5h-3zM566 108.1h3v18.5h-3zM566 90.0h3v18.5h-3zM634 959.3h2v18.5h-2zM634 850.7h2v18.5h-2zM634 506.6h2v18.5h-2zM634 470.3h2v18.5h-2zM634 452.2h2v18.5h-2zM634 416.0h2v18.5h-2zM634 397.9h2v18.5h-2zM634 379.8h2v18.5h-2zM634 307.3h2v18.5h-2zM634 271.1h2v18.5h-2zM634 253.0h2v18.5h-2zM634 216.8h2v18.5h-2zM634 180.6h2v18.5h-2zM634 108.1h2v18.5h-2zM634 90.0h2v18.5h-2zM705 959.3h2v18.5h-2zM705 850.7h2v18.5h-2zM705 506.6h2v18.5h-2zM705 470.3h2v18.5h-2zM705 452.2h2v18.5h-2zM705 416.0h2v18.5h-2zM705 397.9h2v18.5h-2zM705 379.8h2v18.5h-2zM705 307.3h2v18.5h-2zM705 271.1h2v18.5h-2zM705 253.0h2v18.5h-2zM705 216.8h2v18.5h-2zM705 180.6h2v18.5h-2zM705 108.1h2v18.5h-2zM705 90.0h2v18.5h-2zM778 959.3h2v18.5h-2zM778 850.7h2v18.5h-2zM778 506.6h2v18.5h-2zM778 488.4h2v18.5h-2zM778 470.3h2v18.5h-2zM778 452.2h2v18.5h-2zM778 416.0h2v18.5h-2zM778 397.9h2v18.5h-2zM778 379.8h2v18.5h-2zM778 307.3h2v18.5h-2zM778 271.1h2v18.5h-2zM778 253.0h2v18.5h-2zM778 216.8h2v18.5h-2zM778 180.6h2v18.5h-2zM778 108.1h2v18.5h-2zM778 90.0h2v18.5h-2zM844 959.3h3v18.5h-3zM844 850.7h3v18.5h-3zM844 506.6h3v18.5h-3zM844 470.3h3v18.5h-3zM844 452.2h3v18.5h-3zM844 416.0h3v18.5h-3zM844 397.9h3v18.5h-3zM844 379.8h3v18.5h-3zM844 307.3h3v18.5h-3zM844 271.1h3v18.5h-3zM844 253.0h3v18.5h-3zM844 216.8h3v18.5h-3zM844 180.6h3v18.5h-3zM844 108.1h3v18.5h-3zM844 90.0h3v18.5h-3zM911 959.3h3v18.5h-3zM911 850.7h3v18.5h-3zM911 506.6h3v18.5h-3zM911 470.3h3v18.5h-3zM911 452.2h3v18.5h-3zM911 416.0h3v18.5h-3zM911 397.9h3v18.5h-3zM911 379.8h3v18.5h-3zM911 307.3h3v18.5h-3zM911 271.1h3v18.5h-3zM911 253.0h3v18.5h-3zM911 216.8h3v18.5h-3zM911 180.6h3v18.5h-3zM911 108.1h3v18.5h-3zM911 90.0h3v18.5h-3zM978 959.3h2v18.5h-2zM978 850.7h2v18.5h-2zM978 506.6h2v18.5h-2zM978 470.3h2v18.5h-2zM978 452.2h2v18.5h-2zM978 416.0h2v18.5h-2zM978 397.9h2v18.5h-2zM978 379.8h2v18.5h-2zM978 307.3h2v18.5h-2zM978 271.1h2v18.5h-2zM978 253.0h2v18.5h-2zM978 216.8h2v18.5h-2zM978 180.6h2v18.5h-2zM978 108.1h2v18.5h-2zM978 90.0h2v18.5h-2zM1059 959.3h3v18.5h-3zM1059 850.7h3v18.5h-3zM1059 506.6h3v18.5h-3zM1059 470.3h3v18.5h-3zM1059 452.2h3v18.5h-3zM1059 416.0h3v18.5h-3zM1059 397.9h3v18.5h-3zM1059 379.8h3v18.5h-3zM1059 307.3h3v18.5h-3zM1059 271.1h3v18.5h-3zM1059 253.0h3v18.5h-3zM1059 216.8h3v18.5h-3zM1059 180.6h3v18.5h-3zM1059 108.1h3v18.5h-3zM1059 90.0h3v18.5h-3zM1136 959.3h3v18.5h-3zM1136 850.7h3v18.5h-3zM1136 506.6h3v18.5h-3zM1136 470.3h3v18.5h-3zM1136 452.2h3v18.5h-3zM1136 416.0h3v18.5h-3zM1136 397.9h3v18.5h-3zM1136 379.8h3v18.5h-3zM1136 307.3h3v18.5h-3zM1136 271.1h3v18.5h-3zM1136 253.0h3v18.5h-3zM1136 216.8h3v18.5h-3zM1136 180.6h3v18.5h-3zM1136 108.1h3v18.5h-3zM1136 90.0h3v18.5h-3zM1207 959.3h3v18.5h-3zM1207 850.7h3v18.5h-3zM1207 506.6h3v18.5h-3zM1207 470.3h3v18.5h-3zM1207 452.2h3v18.5h-3zM1207 416.0h3v18.5h-3zM1207 397.9h3v18.5h-3zM1207 379.8h3v18.5h-3zM1207 307.3h3v18.5h-3zM1207 271.1h3v18.5h-3zM1207 253.0h3v18.5h-3zM1207 216.8h3v18.5h-3zM1207 180.6h3v18.5h-3zM1207 108.1h3v18.5h-3zM1207 90.0h3v18.5h-3zM1278 959.3h3v18.5h-3zM1278 850.7h3v18.5h-3zM1278 506.6h3v18.5h-3zM1278 470.3h3v18.5h-3zM1278 452.2h3v18.5h-3zM1278 416.0h3v18.5h-3zM1278 397.9h3v18.5h-3zM1278 379.8h3v18.5h-3zM1278 307.3h3v18.5h-3zM1278 271.1h3v18.5h-3zM1278 253.0h3v18.5h-3zM1278 216.8h3v18.5h-3zM1278 180.6h3v18.5h-3zM1278 108.1h3v18.5h-3zM1278 90.0h3v18.5h-3z"/></svg>
<canvas id="c" width="1097" height="979"></canvas>
<svg width="1600" height="1200" shape-rendering="crispEdges">
<rect x="1346" y="1053.703" width="56" height="15.897" fill="#00008f"/><rect x="1346" y="1038.406" width="56" height="15.897" fill="#00009f"/><rect x="1346" y="1023.109" width="56" height="15.897" fill="#0000af"/><rect x="1346" y="1007.812" width="56" height="15.897" fill="#0000bf"/><rect x="1346" y="992.516" width="56" height="15.897" fill="#0000cf"/><rect x="1346" y="977.219" width="56" height="15.897" fill="#0000df"/><rect x="1346" y="961.922" width="56" height="15.897" fill="#0000ef"/><rect x="1346" y="946.625" width="56" height="15.897" fill="#0000ff"/><rect x="1346" y="931.328" width="56" height="15.897" fill="#0010ff"/><rect x="1346" y="916.031" width="56" height="15.897" fill="#0020ff"/><rect x="1346" y="900.734" width="56" height="15.897" fill="#0030ff"/><rect x="1346" y="885.438" width="56" height="15.897" fill="#0040ff"/><rect x="1346" y="870.141" width="56" height="15.897" fill="#0050ff"/><rect x="1346" y="854.844" width="56" height="15.897" fill="#0060ff"/><rect x="1346" y="839.547" width="56" height="15.897" fill="#0070ff"/><rect x="1346" y="824.250" width="56" height="15.897" fill="#0080ff"/><rect x="1346" y="808.953" width="56" height="15.897" fill="#008fff"/><rect x="1346" y="793.656" width="56" height="15.897" fill="#009fff"/><rect x="1346" y="778.359" width="56" height="15.897" fill="#00afff"/><rect x="1346" y="763.062" width="56" height="15.897" fill="#00bfff"/><rect x="1346" y="747.766" width="56" height="15.897" fill="#00cfff"/><rect x="1346" y="732.469" width="56" height="15.897" fill="#00dfff"/><rect x="1346" y="717.172" width="56" height="15.897" fill="#00efff"/><rect x="1346" y="701.875" width="56" height="15.897" fill="#00ffff"/><rect x="1346" y="686.578" width="56" height="15.897" fill="#10ffef"/><rect x="1346" y="671.281" width="56" height="15.897" fill="#20ffdf"/><rect x="1346" y="655.984" width="56" height="15.897" fill="#30ffcf"/><rect x="1346" y="640.688" width="56" height="15.897" fill="#40ffbf"/><rect x="1346" y="625.391" width="56" height="15.897" fill="#50ffaf"/><rect x="1346" y="610.094" width="56" height="15.897" fill="#60ff9f"/><rect x="1346" y="594.797" width="56" height="15.897" fill="#70ff8f"/><rect x="1346" y="579.500" width="56" height="15.897" fill="#80ff80"/><rect x="1346" y="564.203" width="56" height="15.897" fill="#8fff70"/><rect x="1346" y="548.906" width="56" height="15.897" fill="#9fff60"/><rect x="1346" y="533.609" width="56" height="15.897" fill="#afff50"/><rect x="1346" y="518.312" width="56" height="15.897" fill="#bfff40"/><rect x="1346" y="503.016" width="56" height="15.897" fill="#cfff30"/><rect x="1346" y="487.719" width="56" height="15.897" fill="#dfff20"/><rect x="1346" y="472.422" width="56" height="15.897" fill="#efff10"/><rect x="1346" y="457.125" width="56" height="15.897" fill="#ffff00"/><rect x="1346" y="441.828" width="56" height="15.897" fill="#ffef00"/><rect x="1346" y="426.531" width="56" height="15.897" fill="#ffdf00"/><rect x="1346" y="411.234" width="56" height="15.897" fill="#ffcf00"/><rect x="1346" y="395.938" width="56" height="15.897" fill="#ffbf00"/><rect x="1346" y="380.641" width="56" height="15.897" fill="#ffaf00"/><rect x="1346" y="365.344" width="56" height="15.897" fill="#ff9f00"/><rect x="1346" y="350.047" width="56" height="15.897" fill="#ff8f00"/><rect x="1346" y="334.750" width="56" height="15.897" fill="#ff8000"/><rect x="1346" y="319.453" width="56" height="15.897" fill="#ff7000"/><rect x="1346" y="304.156" width="56" height="15.897" fill="#ff6000"/><rect x="1346" y="288.859" width="56" height="15.897" fill="#ff5000"/><rect x="1346" y="273.562" width="56" height="15.897" fill="#ff4000"/><rect x="1346" y="258.266" width="56" height="15.897" fill="#ff3000"/><rect x="1346" y="242.969" width="56" height="15.897" fill="#ff2000"/><rect x="1346" y="227.672" width="56" height="15.897" fill="#ff1000"/><rect x="1346" y="212.375" width="56" height="15.897" fill="#ff0000"/><rect x="1346" y="197.078" width="56" height="15.897" fill="#ef0000"/><rect x="1346" y="181.781" width="56" height="15.897" fill="#df0000"/><rect x="1346" y="166.484" width="56" height="15.897" fill="#cf0000"/><rect x="1346" y="151.188" width="56" height="15.897" fill="#bf0000"/><rect x="1346" y="135.891" width="56" height="15.897" fill="#af0000"/><rect x="1346" y="120.594" width="56" height="15.897" fill="#9f0000"/><rect x="1346" y="105.297" width="56" height="15.897" fill="#8f0000"/><rect x="1346" y="90.000" width="56" height="15.897" fill="#800000"/>
<g fill="none" stroke="#000" stroke-width="1">
<rect x="208.5" y="90.5" width="1096" height="978"/>
<rect x="1346.5" y="90.5" width="56" height="979"/>
<path d="M208 171.5h11M1293 171.5h11M208 262.5h11M1293 262.5h11M208 352.5h11M1293 352.5h11M208 443.5h11M1293 443.5h11M208 533.5h11M1293 533.5h11M208 624.5h11M1293 624.5h11M208 714.5h11M1293 714.5h11M208 805.5h11M1293 805.5h11M208 895.5h11M1293 895.5h11M208 986.5h11M1293 986.5h11"/>
<path d="M360.5 1068v-10M360.5 90v10M512.5 1068v-10M512.5 90v10M664.5 1068v-10M664.5 90v10M817.5 1068v-10M817.5 90v10M969.5 1068v-10M969.5 90v10M1121.5 1068v-10M1121.5 90v10M1273.5 1068v-10M1273.5 90v10"/>
<path d="M1346 153.5h10M1392 153.5h10M1346 256.5h10M1392 256.5h10M1346 360.5h10M1392 360.5h10M1346 463.5h10M1392 463.5h10M1346 566.5h10M1392 566.5h10M1346 670.5h10M1392 670.5h10M1346 773.5h10M1392 773.5h10M1346 876.5h10M1392 876.5h10M1346 980.5h10M1392 980.5h10"/>
</g>
</svg>
<div class="t" style="left:696px;top:43px;font-size:27px;transform:scaleY(1.07)">Roach 2 Q</div>
<div class="t yl" style="left:140px;top:155px">50</div>
<div class="t yl" style="left:140px;top:246px">45</div>
<div class="t yl" style="left:140px;top:336px">40</div>
<div class="t yl" style="left:140px;top:427px">35</div>
<div class="t yl" style="left:140px;top:517px">30</div>
<div class="t yl" style="left:140px;top:608px">25</div>
<div class="t yl" style="left:140px;top:698px">20</div>
<div class="t yl" style="left:140px;top:789px">15</div>
<div class="t yl" style="left:140px;top:879px">10</div>
<div class="t yl" style="left:140px;top:970px">5</div>
<div class="t xl" style="left:320px;top:1076px">0.5</div>
<div class="t xl" style="left:472px;top:1076px">1</div>
<div class="t xl" style="left:624px;top:1076px">1.5</div>
<div class="t xl" style="left:777px;top:1076px">2</div>
<div class="t xl" style="left:929px;top:1076px">2.5</div>
<div class="t xl" style="left:1081px;top:1076px">3</div>
<div class="t xl" style="left:1233px;top:1076px">3.5</div>
<div class="t" style="left:1247px;top:1125px;letter-spacing:0.6px">x 10</div>
<div class="t" style="left:1295px;top:1111px;font-size:18px">5</div>
<div class="t" style="left:1410px;top:137px">200</div>
<div class="t" style="left:1410px;top:240px">150</div>
<div class="t" style="left:1410px;top:344px">100</div>
<div class="t" style="left:1410px;top:447px">50</div>
<div class="t" style="left:1410px;top:550px">0</div>
<div class="t" style="left:1410px;top:654px">-50</div>
<div class="t" style="left:1410px;top:757px">-100</div>
<div class="t" style="left:1410px;top:860px">-150</div>
<div class="t" style="left:1410px;top:964px">-200</div>
<script>
(function(){
var D="joliggliaghddhkiomiilhjheghdghgggggafkghgfdhedhmjihgbeidhenklihmdfjjfbhlommliccfghg++ghklZikn++negdbijmkZdjlmogffgkmkbehgjhknkidjebgnpfcglhjejijglgk+++mcihjjpgaiiogdfdhepmjbkXjjmliegeglmgjffgdekieffgdfkkhihglieebikeffgfhki+++afkdiakjhfinligilfjkhfleilimmghhdifgjebiimgihfjeedbmrmcijnffhkkeg+++dWefcgjgiighgghhhfgcghjmljeckelhfnllhhgmmfgjhehhfkiihifhgifgdfggh+++agkfklgkmhlhdliffjjgiokieiekiggklffgehfheckigdedgjpkgghhcikgcldfm++jiaakjeXgjhhfceeihkcednigjdkjkijlhgjkehkidbZkmeoheddgognbekdbfgghfeki++ijgkljmnkhcihnllcfhehngmmdjmnjlijhdlihhjhgmghkecemhjlhkjkiliiciljjhfgbZ++jolefkmhkkfhfdhbmmgikmlghljgjjhirkehliaggbZkehhgidhflfkiiohgkghd+++ffdljffjhkmmkfjcjlgdhjkgfmlifieoghigchjkgehigfWggdiihidfeccedief+++digihejkkliemidcdeggbhfieifhijglhhleljjhiijmmlighlehimlnegfegfge++mmjliihielhjkiopkhj8jhfmebdedgimdilgfbinhfdkn8ecmqkkjlhdjgmpfjgffciiinhhkiipggl+++ifghbiheekjdhieeddmihhh8ghgdiigjghdejmhgjhjchjjikk8fbhkjedehhfkmikjhikhpih+++ilijihhmjgcljnklpmfjijgdfjiedgdcllmdilfjlicejfg8hkjfikcknqkiighnijqt+++gihfmjhkdhjljbhigkleefligjgkdbjdfjinifkjiicfiohgknhedfgknjighfgiZghd+++hdehikflibechllfjik8dhhjgjhgdfccddeddeageihdflhcfhgigfgnilfkijhgehhlfllhefjmifjnkliijdichmijfjidfcdejfjiljl++heggkkgi++igklihhnlihniacediehechigfkhgeellljgfrmigkfemgdghjnmn+++ecgkkikjmqkijhjlnlokkceeomnliimhhgdkmlfhmhrgjglkidelfkkgiZfkkijglgjlggh+++fligjmjbcehpjhZibejkklmiihhkkknneiffggjjmkgjdhkjeihklhhlhfcffjilh+++hfgjhiiiifhhjifecedcenifdfiedkjinehjgZiiffiijfjkhinloiminohidWgfj+++gdigillcihmikgfiffeegggmiibghllqldgghkoijljfnmmkihkjicehcaiifijji++kggiidkjndbgfnidfgkkghccjejbgfmnlkilgkhiimnmjidieghhfbffdjiikjlhfeghe++ddZgdkjjjhhggeijmhchgegdfjnhjlkeWfldedfhlnlnfcggjghjjmknhgkeijgfhjjhkjc++chgihmhijZjejkkgggegZieifnmopjkkgjkfhjiihdbkddejkomfhhjigjfhlhhg+++hikgkqomiiidgmldiliemgjehmjhimkcegngdmhfjjnfYgifehqkmllhdghfblmi+++ohbeekkjbbegfgjopjcmmnihlinlghgfhigjhfgmhjjhfkjkhggeghlggjhielid++iimnkohekbimlmmfefdnlhfccggdbdfgjggjhliknkihbdcpqjffgfjhkkmlihfleggklgdkifhkdcY+++kgilllgfhkoihnniifhedcmjjihgpnhkljgmjifgjemnkmgdjileedidigkmhjhddigphiijkl+++glfgkejnfgkkiigkhok8ljmiefegliiikdijjhihiiokhjh8fjjlhdkifhmmigjnifll+++fmdjfkfkimhnhhleohi8ffkhijhejgjejljkhfkkljhegjh8khplmjfigilklkjlhpfq+++njjkkcnkionhcfYgdkhlhdikfaahdddhjXghafhfgjipdjkekjgdggfgdZZigcfklhgbhaejeficacgdijhdcfdehdggfecbciggdgcbdciBBieZZidajBBkdihgbVehdYiheldihXYaZZcaceljbeilkehhmfiabcZhhfcfbijgBBBgjjfecdbcegcifdgeaYbeeheddZVggfhifgaddemecdXabeZdefhfdgfdfjiionhjjelejiBBBhaifaekmjhklchmellhjaeimngjjfmnmmjoiiigejihhloehfidgidhbiihlrikjoBBBhjijjnlhokoibhekqhhejmlopjihfkmphjemjehdhhghcjedkqkcggfeibcedailjBBBeigfiibgjhjgikoejikkhlleYikmrmkieidehfhhdlihifleihiedgighejjjegfgBBijnihikkibhhdelbhhpmhkhdijhcimgegidgifgmihifjefhlipojjlhjjiieigeYdgflBBgYbghjjgbcbiiinfkjkigjfkgmfnechikkkffjjnklmhhhjkgmnikimkehkjgmnpmfgckigBBffoijgohilnkmcfihjiklhnpjkhkfmoqrihecgiilifglgohhmnjghopkigplkjeBBBmoiinmpkkcigjkkidilnkkfbgjgighklfkjiijhokjiglfilkddffihYihkghhdcBBBkgghdcejjllqebijfgkhiigggehhcgbcaijhigZchfcibjhcjmdmdpkhjlhhgficBBdgkhcifjdcchgjifhhhdjjgmlpcgiYfdggkfimkqmkimfmopjnliiidhgdbeiijgfdbhegiikkiehlcBBBmmijjghnlegiiibeljhndjgEkjdghkjfibbYiifllilkhiileegdcfkedbhbikljkjehjbkghjBBBhgaibemkignkjljngcedghjgnkklmhgghcejkhhijcgbklfhjgnkhdjlomkjdemekfehBBBnkifdgffnndedlpmnlkgdgghokilnnhlhekofhlkgbhbckeggkhlmhciniedehngjfeZBBBidhcefiqgkmjhhkieigdbiilmghijbkidiimjmgdfedgYfmgjjhjlegkkjiifggejhfffdhilheckllmeifefhhjfghjljiffghhiiefmfcBBgljhbaegBBmjkjgigwwwvx0utwz3xywuwppsqorrplknqghlikhfggbmjjgefieBBBieghlfijlkkdelicfehijhlhjhmilkeejlfWlgkicbehkjkmjhjhgkjgklkjdcjnmjjdidfBBBmkjdafdhjkegijbejnbjfikhfeheciihkkgnmkiicmijgcedggjjgfiggjdkdccbiBBBjkgdiaijhfilgfhjfpmfmhnbicjmimifehinlknjjgjeadmjefoggjghklhhaeefhBBBhhgjilcfgcjjlijggfgmcmfifjkbfjgdebhfkikkpjiplgkhhihdaejjlghgcddihBBeekihgfkhkbbkmolhhifikfmfiehihegeiihfnedieheiZeefqkmikmigjinjnghgfkilBBkjmeojgieZiefhfihfjoffmkhikihchfgehjdhnldfecjomfhifoheikgiifhikZhhejokgBBfgijgehlqdekhdeiflkhkgijfkilifgefjenflkklljiiiffiaegiiXhllkiihjdBBBgipojihlhffhjkmnqmnglkjjnfggcgccfiihifkiffhebagkihgjijhjikdhlpniBBBleemjeefeilijchjigikijkeeeibdggkgifckmifleflogefffiijkrkekkfchgjBBkhhlmccghggfggenkgiljgkihgkmkgjegheghikhnjjilggglimdljdghhggknnhddjfjjeqlgkifjeBBBjjihbdhhhnkllfjjkkilihkgjhfkhfcikfahfhfgkfdlmkhhigcdchmffmlkgibiiifhibgbigBBBemmlmiikehkYdjeddkhbdhhjcgddbeegedhmollagejeeihbcigchagkmhlkjikhghhiBBBlkjjjhiilnolfdiljefEfhjghfgfgkecooggkijghmnghhmjmiiffhjnZjlihflogaiiBBBhdlgejmcgiiaigeifaddghejmkknnplmnighlfjefikmjfggijnlidebejedebWfcefkfdghlgcfdggjcmiedddfggddhjklfjibphghflkHHmgdfjlrhHHjpgiywyyzzwv/8878998779978251zxuzgffjeljhmnhlkhekhcfgHHHohijhchlpiffkjfigmnignegehiihihghjmjfggeikiffjdijfkhbYfjihinljoigiieihjHHHbilijhkehnsgkgfihjhiljhmmhfdjhgmmkhglggfgfehZdhhmeiifhjodiebjighhHHHhkgfhkmmmgefbfedacfljagihkiigkkhXcciedcfifigghhhiiihkXfjffmmfmglfHHHmknlfZjjfmnigiljhlyhjkhljigigleejgjklmmhllhchmkefjgfbbjghhjmfcdggHHfgeifZhkhnfhglheliggeeegkomtnlebcgYeijegfgikfehgacfkhpgidjfgdfejqjkhmHHikihhmmkjhadlgjcdegfhhgmjjfefimjlpihifhlikmkifdgknllbbfgiifgjenjkkkohheHHcgihgkdgidffjlidgjfehhZccgbffdhnhlhdkgediihhpkdefddigcdddaejnjllHHHbbaggefhcgfihgmgigdggcjdlefhlegmekejjmggimjkehhbkhmehnfhiecjfgbfHHHijjeheebgjcfjijjgigagccihhffdiihihddhjgifegiecfkfkddacjdeglpmkjhHHldgbifcjhfbehijgdhiJkgbgeilfcddfjhdighnmggkfjqcmggfgghijihcddaYagicYhhjjjdjjijpHHHicbhgdjrfglfdjljiihdghlfomdfggggofeijklkniegfgefgnlefdfhkihidjegkgliikfnigHHHeghkkljhhifkkehjnlckmjmidkigfafgabbdWgdclijiegdadcmhedhgdhijegigiegdHHHmejieigieUdeffkgbYhJdfeefdfcgghYibacXZcdZedjdjlJnohnicihfjjcgkhjffkiHHHighhhgbghkhklbbfgmhhcbgjgjffmifjdhhmekkfhbjegehndfghgdbahlhdebhjhifjlhebhlnhcljlmihgemgXchaVZZYdYdcbeehiiib++kgejkjhh++nqkmikOOMNPOKMQSPOLOPONLPQRQPjkhdkhgeidiikkbdgdkfaehi+++ijijloibegoiggkfbfmmihlngiigjggggmjkgdiaaiglnjjekfhebdghdhhmjmhkjjlhhiq+++glkdghhfgnjnkheimimkklggecgdgfehiikWfcfidhdmkeiehmffjhdhmlhgeejli+++dihhchfgeinddggkfkqoecaeidifkljihfciihghbdgonifdfkhigldapfkmlnggh+++fdimqncikkjhpfjijefhjhhcjiiecdhloiidfhpqidegechgkijhlffkeknhgkkih++fbeghmihieeddehhhljikjliggbUebdjjnghidfkidjgjccedafjojdfhiihdiflgkgkk++ejpimghddkgkkgffgjjjiktjkhijihhejbgddafhljgljokjheejljcgjgjlknhhpkfkigj++jjprmmlhkljhdmejinlhkgmhghidioejmkgjkihdljgngdimljkjlhjchmpghhee+++lllkklpfjhkgjijjjjdekfskfdifgmmjikujijekejglligedfijlkdhecekmmjg+++jlnikokiijjfdfnjjjgjjfffnhfmpnkddljfejholgknjhngfedhmhfjfnmnqhhu++egnlgkjjgklfgkgjjhm8nYiklijcehikijifiopptqghh8ahggjnoliifjpmjedieihinpgfnkjlYlh+++rkkjfchjgmgdkmjfnnkmjjf8ejcedfhchjgfdcdiklgfffimff8jcfdejjccjhfcigfmjkhmmg+++dkgjgaafghljfgjjjncgglpfagklkifohikkgqnhfglnogfkhllgebfhdhiiiksnioli+++higfeaZbhjfjlgjlilj8jkjogjhhnmadgikjfffiillXmgffmjhnjjlfhifjgcdklilk+++ikkhggfahfhigoofenh8ikgiechfhmhejjgighjkggiijmgdhjnhefkigkjjjuqnlfginccfjnjciefgdghjjkkhkgliiijghhfglcggjhk55cffhgijj55kjhecjiWWXVWWWVUWUaUXYXUWhlknifejggjdlkfehhhhihiejmkk555kgfhhdjdeefhcempnlfgijkfhlehjigcgidmqkoomhfobdddbachcigmgkhfhhgikbdljmk555mjffihdgjeglkpjfbdjmeniikbdjfkjikjkjnsljfmhnqflfgmhhfiijjvlifdkjj555kmljhclhjhkckefdcimpjomidjkgpihlikilehdekiffeilfbcjgkgebjhhgjheje555fgnjfciehfhcmjincdijfkliijhehjnllhhdenlklhlmigbljifejgjjhiihljemg55lgeYcehiegjfacklnhkcdlhmkjjhfcllkhgbdginkgfgcghighlfihgfihgiefjhfdbdi55njhfmgfmedgfadbgeerihhihjooglefhdbddgjkojkjnkklkohkkmjecjigdijkfifighik55oikklhjggijhjmfebhgjgkmijdlkfaihjjgmflhljmfiZdcfbcfmmkinZhbhgndh555jojhiedejmmrkjhkjkojghhgmjqmmhfkflichdhiVecheliikjjffpgkijiligij555jijhfdflmfepjkkfcedcdjglfkjgnhjnmphjnmkglghirnhlghhlifefedinehii55jrjhfidglehknmklelh4hnljlfkkhgihkemihjglgeffiggfehlfhmmgkkmfjkkjkfkhidjoqkijjfo555fekfhebeihjhhjijfhmkfiiignkjjlfhjijgiljfhhdlrnpplkhfghikhfdgccmkinjlgmohkk555hlghqkifgcdgjignifh4kkijgljfdeccigfefjcifpohfljnmgknihekigjijZjhihjj555kkkajomkjfmjnkgjggk4ghffjijidijhefgffihfmkgiZZgghglnhjlcifagkojkliea555gkilkcehkfgbghkihkhgokjiklmhmijefilhgdjkgniighhehffgllnmgdmhifhgcebceekhmimjfimhicgbmjjjfikfkldihgfiinhiljf++fkmnkgcj++cffdhdfjjkdcbehpgddfeffWefrmknkkeihlgkghgflhgkifefggf+++ffmkeggkgdijkeYhhfcikiidcjiijhjhhhelhhdhgjjijjhhmnjlkdghkgjmjigikmkfZcj+++bfjljhfgkihgchiljfggjfdbgggdjgiljgiigafjillhfjfcjhgcihjgnligefirn+++ijhfrjgekikhdbdikhefggfejgihghqtkieeilgjijefhkdkinmeehdhcdhVlnmjj+++gjihgngfedjkffgbcggeihjeidfficjgmhcdZgbifhnkkfiehcgggccinimmdihho++icjkigeddekbbghhmkmgfifiddgjnjghmggnghigfkjmhmlfkkknhghnnkmjiheihghmi++hiikecdjifbeimjjmigimpmggggggdZijehhhihdekhfjdghedciiiecbgggidgeeceglfi++ffelbfekgvlkeihnifecfglmmgjdhgfdmhedehfnadblllgklrnfhjolbjmjfdce+++kgghYgehfhelheilghiedeghjlgeiphjegbhhaZeghlkedhejllgejchhffpgkgh+++lgjkigdgeijlqqfdYehjhjmljkkkngfbekjnlhehkhjffeieihieihhlhhgcegkh++ebdjmmiqhlliffkdldkmjnhkpmjljeWeiiiiofffhfglk8fiojjhhcahgbilmcijhhgjihkokhfjlfg+++ddgeelmkhlhgcgidfiiiggi8fhfjlfjihhihcigimhmgfijlmjjfgeifmhlmdghejgghhigheb+++njgjjefeddjmddhigkjglefemghffjhhihfkjkhigghfkmh8hnhghfjkmpnhmlhdfhhh+++mjgehdgidjcekfhjggkiihheeicghfchfhijhbjkneljkfkiidgachcXigelhjgdhlkh+++iegjljimmglmihdhgih8goklggjfbbiogegkmhgjjniacmhflipffiidfghjmjojhfhjekqmfhleehieggjqjiliidijkljlnmfhhhfijhdBBefhiehgfBBekbbbbaZXWVXXVYUbdcabcggVYbZdebZbcdjafchhejcjchafedhjBBBcljikjnejfhkmqheqmmhhjgjgeigfijjhlmiehhiejmhjgkihdekffdiikjgmhmfZakfeeeBBBhemlmmeiedliffhjfifhhkekgnhddejhhjehdjjhjhijmipnkjkjodgiegfiihhegBBBiihdedkiflgllhimcljlhimcdfgdkfhkkkkggilmjijfjmigjkigfkgfjfegiflhfBBBionfhjakkihfdiakekhfffhefdkkfjomgliikolgijceahmhcbfhimklnlonjihjdBBiggjijldgndkjknijkhfggkigfihjmclfghglflfghffkcgbjomiligigeefidgqlijkdBBlpgejfjpfekirhlnkkegijgchdjlhfifligkjhdgjhikemkffkegmnelikkfeilhjjgjlfjBBhefjmfikgcchegkhdgiikdhekgihgigfekhikdfcfjkkhkikjnjirlfeefkjhdgfBBBbjggllgglfhfnZamgjghmidfifegedejfdilmjjlkigfijjnigffhjfenkincimnBBBifehliebacghmgfefcchjjllmjjfgnliggddkkhkjhjZiebgkgmhsmigfeffbjijBBffcmfddgekimhfeigihkejiglkoUeffjkgicgfhjedhiijhacYhijeiljlgfljhhffkfgjeghlhdfklBBBfbmiingledddjihkededghkEkefimkgiffeehonfdfegiihgfmkiejilfbhcjilkpolfdehdklBBBikfffffikjhjgegjkajEjnlhinkfigljhjplhkglddfckkhEhluhkjjfifnenmgoifleBBBijhefjiljlhljjkkiilEhqhgijchnojhjgkgiindjfdhghhegjlkfihjmngjliXbllhcBBBlikhcjigklllfeefcgjEfbmhmipdcidlgedlfgefnjhfbZdighghigbfeedjncgmfjjdcakhomqjkeeiiieklpnhaYaejghgfgaeggjnikk++egileemn++jkgdfgicjfcgkeaghgighcffjigbhfjgbaihlghmkliejkjeibhgn+++jlilhiheihokijiejddigiihidageehhchqhilhfhnflgkhgghnilhhlgfiiknjijhfhjnf+++hkfglgdfcdegfRcjgmgkoehoegtjhicikfkjmkkhmqjggjhhhijdcbhfjfggeacgi+++adjljijfffdjemflojgghgfdfhjjfhmnnppnldjelhlijfcglkhghhhfbbhjfigff+++edkdgehdfdefdcegdkihjmeirgigiihipfgfljkoqjeeeggehklikihjjfkehgfnh++hglffchhegfZfgcifgilhfjefifkkhfcidjffjgcgejafghjeegcedfjfehbffjijfgcf++illggcdfgaggkklggokhhdigheigjpnnifebeegjhjdknomjihhediegfgcchmgdbfkdgbc++ibaalmhcXhikhljgijifiibcflkgciemkikhjhnigjbhilhkgibkhieilbhlmkfm+++fffmhiihegdljikkklefeegceilgcWdhjggjgdchogceihkilnjiqlfkmhhighin+++hfijglkffgnjhfjjfgeegeiiffighhkiihhacbhghghgkjiigiililmmlngfigji++fffijegcgmihikefigjjjdihgfbdjkflmnkhjitiklkllhjmoiiifjgihgdijkhkjhmfhljefmgcggi+++cfeifjnikghjfemimeikukj8geijkjddljokllkgjdgchlggjkkmjhXikkfiggjhhfedhihklo+++nihnijliemilijhdfZe8hmnkdajjjhebjgfkfefYfijjgbbfheilkihefkmfhgZehkgf+++edfiglgfhgohhffmlkjdcgjiijemghghafligihhljjhdfZ8ogdjjhnokebfjggidiih+++khffjfkiejfkjidihdj8dcWeebijbfdfhjkkffhhhjkkeehlpljghijkijklkghgdXigjcdZfcbdiiifgrolligfilimghjehdjjjggnikg++figegiji++fhhfhjQONLNMMOOMJKOONMMLONNQSQmpgfeiglkinonhdgkgicede+++echchclnmlkhfgpjkijnmknmgjnigbdajlfkmkokjjeffhhfiofdgbdffehfebhhiihdfjj+++afdgfnfikmflgklljdmgjiagiffeffgmebceefcjgdbffdlqmntpjmnkkhlcehong+++ldfijmgdihgejicdjilggkggmkggijiiegbdhiklmhciffadikijlskblhipgihhm+++knjkgjmgilhfoigkfkeigiklfddadhhecbehggmkmjZdikhflgjimgjfikljkmlpj++gmlmiiililheiieieddfldghkiheclhikhfgjcjmpjhilpnolgfigeigcifdhjcehffdh++hhkljgdgfmhnkkgccaffdhljekdiZaikffiefgniklkihmkkjjffefeaiipgfifhiqjeadg++dinqmlkijhfglnjjiihihffhajgZfekhggijigljmjgcgeegidcglhfdbcijkggh+++bhiddeaelmifdehjghkgggkghckeacggklichjkjgigfcikehgdekhjfkknkhill+++gggebebadjlkghffegkhkhhjfjcihjigfaefffjcflfjjhmjmjehhihcgnglgjgj++jhaihhkhlpnnghfeegk8jdihiihighkfimkkifhljlijfjikikhegfemlgjlifllkfkkmjmgfhjhbfg+++jhgeffjjidfhfjkmhcbefgjffgfglhjkdgnlhmjmkjlihfXgik8hagljghggfhcfmdhgjmlfil+++gidklmgkmjegkeefjefbdkhmojleinhdljficgggdhiefij8fmjibfaechifffjflgie+++ehlehljfiecfhihkfjgoieikeklkjrjjiimkiikddikhkigjjdhekggiffnjfkehkjkc+++ijnciecccbjjhghgfki8glhkffechpqkedihfegdeaZZihfeelkolgeliYcghehgiiiqaffjkggfifekkhonjedefigdZhglagiojjmbhkhBBggjhjceeBBfehghfv1zz0xtxzwsrqvsv0zuqmruzpklohhhedhfpifahaiegcihBBBkihdnmjihYgZjglgdkinjkkhgefkklhnhngfehbdigfgghkbgfgigchingddgddghjnnhhhBBBlihchYggfgbhfggmhjdceksmhccjehdghdfhgrnmclmfggfijnnhkhhlmjddjkiiZBBBjhcdfhgehlhhilmifhjffikfjiihlfflgpjlieeccgjdfkieljimmhhehhnllhihkBBBijjjnhieefghfkhfkhfhjhgdiliifmnhiifijmidkioihhjgjmggkhgffigleifijBBkeakqmhjfkhfefeegjjbdijlgeggmhmimegfdceeahhefkfggZbffehfidfjdjiihdgjkBBdefeegfglehgjmpkfdlhjffjidafgfgjjigdhhgfeffmkgnjiklirgijfhdfnoroijjhlkiBBgZfiheihliijfgefkibhigfkgfinffhijkmnjgkjjfdhfglgcgcWdfiqiigjkilhBBBjnijhegfilkhgmkffellkghemlijliihlimgllgfhlfineeggihgeekhfhkkgljiBBBkiVhdeglmmokifegigeidlliiffieeiibdbgfkjhkkigddgcekiellhiphheeikhBBifohglckklpkiiffgifEkijliljhhhbijfeiikkhhjhloggeflmpihcddiigggiffdllimihfecdfZeBBBhkikhjhnkjihihjjlfhgkgjEjlgdUdfikgfnhggmbdonhejmkjEklhficimkjljhffgkhighlcBBBlihkkdcjkhfeghfgiknggddeimlmhffikhkffkehjghlhoifgdlnfmgogcgmibfhilnlBBBkcfijggllrmjoijlpkkkjjefdhhioehgmeomiijecdgjihiEikhomjglYaZffgnljmmgBBBfdjkmigjpiigiekokchEgicfghhifgkhfihYffgihcegfdkehlkhjigglkkeagkgillfdfhijhgedikefjgehjijigajgihfedkllkjiijp++hniekhih++bhhjfcZYYYaZaXWaZVXcaYbcaZZYaaedbdehdgbiefbcjhfedkief+++iejjhflilldkkfcdbXbmmfjlikgfjhgdiijhmkjggghdcfjiehhhjjmkhekilpjkjfgfmlm+++mkiagagigilghgeiholkhimlgginkihhllibkgdjlkfXggkmmlgfijgjhgdcmgjni+++kkgfjmmfijjhdhighikedehhkgjjijkffliijZejgfklhfhmmjldkhcdjgfggfdgi+++ijejmffekkkihhijkhigkkfflhfefgcfckledjfgiibehhijjidcdgegabfigiflk++ghkkgelohihlgeihiergiolcrechjcgjifjfikihileledigkjfgcgeihjenjopkolice++jjlhhjjkkjjfgjemihlnkmleihhgbglkijfgimikjmfkkgcfdkjljikdijgklkkegghcgjd++bdhllcfejhejcdgfflmlidgehjeekhhlhhfdkhhiiqlhbfcjhkjigheglUgefijj+++gfefmjeenhknnhimbceejggdfkfjnomlekfkkfgckiijmlfbcmkkgjkjfgkfcijh+++gedhifkhmiihcnmigdhkhjiljhkljpjkhcagffeefidmgbdmikigbfemiknohfei++egkkcjkhilglghihhfY8dfgbjgcgijhnkphfkhnicakhlfimkgeieknkffkgcdiifgonijihklkoplm+++gighimghiikeidjjgklihefijfmidbikopnhitnfkklZZifolhkieijhXokkhipmlihmdcffci+++hfiqjjhkgjcZhigdhefohheekgimjniieghechkkkkfdiecclklekmjbbljgokffikgh+++nmkmjknjfidbgkmjgfh8ehcjjjlnlgfckgmijdffegbjhgieiioncjjbihfjfjmglggi+++hikighgehfoiiggjkhi8jglndheilkehijhkjhlfgiedfgecnkhprlimllffgljfdhjafdiddbhfiijdkimdhdhebmfkkcenmkmjfkfgkihBBbdfejddaBBklifhlsrusrtsrsquvrustssttttrughnkfighdjgcinbfhifhhhiBBBeilikkhlfnjheigbgffghigmnkedledklchbhkkdijkgjbehhflifdiikeljggeejkbgkdiBBBjpkkkjfgjhkkhghkhjfgmijgfgkjgdpbcebfffalmknmmiffihdjgdkhghjrckkkgBBBfjkfflgkggbifeedjjgflhlhfiekgeakkhegilifjlfghemngomoofgciccekjacgBBBWroljgeonjgZfckaffhjhjlnngfYgdkelgmiiicckijfdhghlfhekhgkkehjjfhihBBlffghcifcehhigefglldjihmgfdlbefehghbiikmkgcfdiekjhgjglljhniuggcbioiihBBgdeiljmhbfghnifglkfoiigdjfikjnihghccggdfjjghkglfhkkmlglfgjjjjibhhcgfceeBBikklojhgehgglklnkgefedefikcleigfghkjhegVbkediinncehmkgollpjhhbkqBBBiigXikknmnljghfhkgdhfghhgdibefffekphjgnlgiglmkhgknjijjekhliikdlfBBBnleijlicgkeoimnjgdchhmebhfmfhgihfgkpngmijidccctkjjdZdkdgcgjhlmjhBBhjjfcghghjghhidgkiiEjhfgggeiZdbmgiimplhfffjlljgedeighljkogkmjidjkhlknikpjkngkkhBBBhghjtggibhiidffXhhmpkhljgohfdnjhdamljkihgjfojhfjiiEmgkhhgkfnjlidZgieigfqhgBBBhhiggimkhkjfikkiadbaihmijheackeikqeifbhdhlmkhhkkilflmggigleihghhndgdBBBjgcjennliabcgllojdgEegmhlfgdchiggfmgchilldjjmocEflmgiiiihcighdhhhkelBBBghghdenpjigjiikfefbEkdihagjonhhhfgjikmnhjlifhkokjhkcgkhihaknkfihefaehfelikiiibhhkiehhhhjeddiigllljggghlfdji55jiejjgch55fhWYTXZYZWTWVZWYWTWXYYXWUWWXYZYVYVXdYfiejgkebkkgglfjn555bfdeikgirkmmpgigkhhkhdieeeikkicgigaikgiieeclkkfhbdmjhhghhhflnggfgfkmkgi555fifgmjXfejgmjcffdeehffdilkfljlhgkpghgfmmgjjlhigjplklgkdXltifdegdc555jhiiehgjflkghfefeiZhfdhjgcejhlffhdriebeljngffUbbgigiiighgihggefgi555jfebfgdigakjiikmjmfiijghceZjeljlgfhjmjkgfekiikjgdijmjdffgliihnkmn55keedgdghnhjkkikhjhejeihmmihhjflljiidhmofhjhfdmhjgcZihhooehjmkkfdlfaTd55jjefebgehhgeehhkpjfhdifjhcklhhhldefkgdcefdkmkmkcdkjjggehcgebbhhgihbhjjg55iegedjihchfhfhhdiogkjhjiggofemdccjhholliegfecffkemihjkjnhhmfjjee555hkkhffeidijjhgkkihfhkgkigilknjfhjikgdlghgfjhjgfgnkfWbegadZlijmli555khhgglfkfhhgfihmhllegiqrkjachmhfemhlgefliihfefifjkgfidffmiehgifj55jknmngccamkigjZabelhkieimhgbTdZgjgfgjdggfjhljeligmchijfdcgjhrthegidejlhohikpjlp555giihfgfdkfiadjhkjcmlkkigeikdmjihlljcifhgZcbeaejkfgbbYmkhijgfjhggnifdfdfhkf555bfdfogmhgegcchjigio4lfmeeeeikiejkhfghhnkheghhkj4kefmlgkigakmijighdkf555hehfeekngkhgcfiiijjjjibaflkjhhheicfefjmciijghje4cfbiligmjrgfieahdcim555dchfkongeahihjmjfggnhmjoejjjllqlgbmoligjmhomiikligkjjhhgkZdcjbihfaajfhfdijijkhibhgliljkigihijlffemjlqikdhgjBBgdkijekaBBfihhhddkgffgknhffgjhijlnjdgljmilmkfmejkdjlieghfhhiinhBBBfjelgeeenliaemfigkgiimllmpogggglhgfhikjojklgkigjnfjgikpjckkijlhgnegjhijBBBgehhgekjhZbgabcjhjekZggfhiZljedgihlgcfgfihijfhieccnefadhhinkggjniBBBiljimggiosnnkhiigdgglgbfkihnmimhhqhfhjkgjknqegljjlljklmlinhgilgijBBBklkhfkfcfojihghofhjehgjggckeiehlmoecbljnklfhiddePfihkcgdZpfgcfjhkBBhfhfjghdifijepmghffqkcfhfjcfggjhfiiehafhjgjjjggcllbhgafjgfhgdhhedjfkgBBgijcigikhhkmghcfZimgljmjfiheeikjcdhldfafZihggcZhiifhijflglpmiffggilggfhBBlijhdbcbefhejglechdZhklldfjiekgjfjlgkcfjdZcefgjkfgdclimlhlhggikeBBBdcgffjffjfdhjlfhchnffeeeekgfgielnlhggfdighihhgfkiighikhiggmcdhhdBBBehmgfjkdemfbedaepnnnkijjkgiijehmggaehbjljommfiicgjjbdZbifkljjgeeBBjgkqqlmaegdmlfciegiEioknjhmkgkobceeednjnliffkEkijjifkfhfheiihfmkkfifnnjgfkkolmiBBBffdfiffeeejkjkljnffcYgjmjkjdmjhichcmjjngdcemrkejjkbeeknkjlhhlljdbbbegjgikjBBBikkighgggjmjegbfhkgiqheiofijddgidUXeceajjiojkggEefighkgnffgmimohfghjBBBfkeghemjfjfXgkiehfkEkhbadfdhkgnekighbfeilmhjellihegfhkqdknkkaffidffmBBBdijkhoehfheikhZjipkhjjhihkljhllmklijohimldjhgkglhjiimkjpojgkljiopmjgjiiikhkmrkejknkcggibjkfhkmjjpnhjjkljjhd++dmefggij++omnlnhgmfjdcholplfimkjkfdijiefnhljmkijagjmhkigehrgffa+++ablkgiihjicjpipjgighlmqeipnkffgjjkjfehmnnnkiiblnjelljimigikedfdhnggemli+++gdglhliggggkojmhhhfdlahhejhhgeghhZfqpgZbflgagfongibahgjchifeimllg+++lggllkmljhhkgjnmllkkldepfbdfgfWhkmhkgjfhieeekffjgijcfchmmhjhahgig+++ikdgcinedlefnklilejglllmdaclfagkjkhkfdffihhkgejjimfeqkmfjhdidmmlg++fjpniikjiqafhlnllinjhklminhkkmjljkfljgiknmhiigbcjeZfcjkfkngifehgjppjg++ikkmoghmfeihddgkhhfimhodlkiqllkfihajnmfghlnjmgjihchnieZhiiagfgifiilohhi++qphiifdTejmmbhkkkihlelmjhjmjhkjjigjdVhmghklkhgkijefefihggcfgddjl+++fdhjielrjlmhjhkejjjnkldfecffiihkhkjihjgikifghbinmonndgnhcbdgghfi+++fgkdhfgmnfkhngigeffeWhjlmkeeekihikmgijmjlingjrkjjgegkongeejnjhgi++iqiefhlfkjjifachfhihhdnjiefijdikhkhkdhegkikhkpglhjlefhkjgYefggmlijecfhjhfjhgiih+++bafjefkhkjlrghjjogikffb8jilkilmidmnjidkhnffkmgedfiegfghjkllhdklkihificihbg+++fbinihfgijdgffitioknkhXgkgikinlgghkkfgghjgfhkgcffgiejlffohjoolhhkcie+++joiilkkfghhnehcjkffimlknjiiieikiecddlihmljjjkkkgmlpgdjnkfibiihggjifd+++fhjfjhelomhgffjheejeffikjjjfeihehfkgihkhjjhgdedeionilnihfhiifdefghdjelfhggabZepifmghdbfhnnjgkhdkblkjjhjmhjl++icghddbg++dghdieafbZjhgijmhcbfiikchihjikfibXghoqmmhilpiggkhhceg+++ghkhbYfeegeegihhjjfgielhgkhkhjedfffeeighmiliecekljfimhhfbYgifefkslilned+++fcjohkfjfcglkgfehkehjlkijgghYfflfWdhmhfhmidfipkgggfjhhjdcefjhgaei+++ljmknmlbgibhjlhefkbmkjfhefcelifhjlcejjgfefihmidfiblgailbkhjiljdee+++gchkimkmmWojjcfdfdgilekljiijfhmggkglhfcifefijkjbjggcabacecnjehjih++kjjhgfhjjkkigellihfjikjhdfgedlgjddaeiffcejngeabigdignihlldgdjkihkkalg++lhggmidilfilkilifhbegjenjkgdggggihfkdhngjjlnhbgjmphffdecfdhiheighggkkgh++kimjmkljkhlkheikgofdiggeeaglmjihcgliggdkkijcedkjjgggcjgcfmhghmjl+++efgeihcejqnkmkaZjkjrrkkfeebhddjdfhiednimmnkkjkicfiokhjmhZmifigkl+++fmkidffegmjilihhmijieanlkfjhgkggjljlbghggdfgjmifgidhflilggkhljad++hfegjiijihceihigkis8ggdbefefhdegidefliqiegjed8ahgfhhkhlegebjjcjfikjceiebeikfcfk+++hZgclggiiemifiomngaagbgbddhehimhkifeebfiegjggdjhmlidhjfcdfnkhakfgflkgqmjnh+++feiohkmkeZgrjgkjgcedieikijmjmiifZheffheeXgcfijk8gjgfhhiijkkbcdkjedef+++kkggbdkgllgipninjhikgfmgfefflhfijiZfjlkkmgeikmifffeaddiflegdiikkogig+++belklgehlfhkmhgcchfebgiiekekiekhhefffjjmiliidilmmccngdihjnihbghfhjlmllljhojikljeaebhfecZcbikeeghZlkhlmhgdkp++jfggglek++ghhgghfegngihicafogffgfjlikhfmnljdgdifdkkfgekihiokenm+++hhhjnklokiinjjjiecXgceddjfgeimnljkiheeeenhdiqhiffgklngihlkmdefldccioghl+++mjogjifjkcefbXghfcbdjfgdnhgggitmohkeYbhjgeaejkgbjfffeekonkgcgeYce+++fgffdjihlnmjhkmmnjhghdfhigicZngedejfefjilfhlifjgjghehhccghiicgjgV+++gjpmjhijigefgiiedgnmeijhakfhfbfhkljlhhjdgkgigcimjjipjkhcdgecacdkk++idffggjkkhhgjlkkeggdhhiegefeifdkhidfijemhfhgjmlikfghekpkcdhfmjeehmgid++gmihjhdjmgkghhgidgjijoidgjdfdcldijjfbXZecfdeigjefbebhbeglkgdinllhdhkhhj++hfilljhjnhkjnjheijonkojigljhnjitljjgheXifekmfjmhjdggkkeffgifWbkg+++hkeljbkgedkegfjijikjjjijjfeikmehkjejigjkigeglhenZmkikccbjiejijfc+++eekiecjckfjllpkmebghjdjlkdilglfljlfjggfifhmfhjgifgjhkilghieonecl++jhilkkojgjlmjflffmhldifhYfhmgahmeghkddmhjdifh8liilhjfeijngbimgkkgkfgiegejjmmlpl+++fgegjigjieeldiifmhlcbhf8khecimhhkgchgkhjlkmkjhcefkpnnpjgmohmhijjjijijibgnf+++dbckkkhjjmgegjbefjg8hgjfeelkkgZfchfegfddnldiheY8ihjhighiggjgghkeiikh+++kgiihdhhkjkiiecigglfaggllhjdebgfiifhihfhhgjklgmkihhikmghgcfhhdgflkkg+++mhjjjjbhhdegjjkidge8nlffiidgnjiqmgghghjlnnkihjjhjegmgdkkfntjfjkhddciecffdebhkjohiiabefgglfghmgegdfkmgiijigh55gkkijijm55hnnilieckgknikifgklglhfhfjjfhbfkjbaQllejflmlkijghdhce555fifhiikpcgfcjimmgihbcgjmjjhigcZcgkjiphgcfimeeZehikmkklkcgeghgeaahhhffag555egknpjffmllgeiiopejfgdfdhhpihhhujggilnkhdfggdkhgegccgfoknmljidpqp555gpikhkkkmdgchbZcakgkgmojgihohffkhgjjgmjllhikejdlhjillikieiilhphlf555chbgfjcekfjiimmgdcbdZeabfgjljlmgefhemijggffeggfejjgffcdfdifbbgfem55aejejcghglnhgkioijechhllllkgenjiceZdccgbfjijdkkhlnichimjlimghgihefihg55iljgicYchjeaejlhfimiijjdchellhfeqmldjkmiifhhgftidcgmekhkfhXdZhkihfkgeie55pmlgaglahekifegjckghkjqlhgjZglkmbcejgighdcikhigjkibehnmnjhffdfYg555efcliiefllhfipimbimjhififhfklgeYhfggcknmnokjljggcZjnnmjggZedechl555ieddhiihidehiegfiefnhlghfmkkcccidjgfkkkihiehgjeiokchmlmeljiggidn55bajeihjmjmilhhegceegilphgifkfhkhkfhihpinjijhiqhlhhhkdgikhigdfhhfgiifjokgjffblji555hgmglghmijjihcfinnnkcbjekmhmnehijijghjpqlijmfijeadljcbcjedscckkhhegdichfaf555gjbZijhjjjdejgdhclk4hjlkimjilkeinljgehijffjnnll4ghjlindfnjpelkokkghj555fehjgoiijehgdkhikjgfldgjfmjjponlomgnrlkicggehdiqkpeejkmifigfjikgginf555miknjkihchijhiilmhiikjihgkkloklifjggfiheelhgijfiheaeedfhbgdidkpkiglkpighfmijgeicdhjbVhgdgkdfgdfhokljkahkpif++khcbfnhZ++hXZaZZbbaYVaYcgcYaXWXXZZZaaXVYjjkldfcifllphmhgfjihjmh+++ihdieeemgbchjhoeejhghdgcbhidkmieehifZhkjoilhghdgademhfggihihiniheihdkgh+++hgmijnlpfaffahgekohmdgjklijiffdkkkbdcgeflhghlkfbfXmhkknjkaoplmijn+++jffieihigfdlfjemhkdaeegfjjphfflljhffkjefkknmjjejkfhkmffehkhgkiege+++inigenlggeilihfhhgfglhijggkieddieighhgjfhgfogjjihcjmbfdihdgmjpjch++ejllhgghjjmhdfcgimcikkggYdkgehibhkidggiibhlgdgfhdaeeehhcccljadgmggljd++iljmgffjcehhhhejbcYddbiYehhnjikiceghghbeigkidhnjfcjmijhijjkkifhejihgckg++hgZfeghligccZhjlijhcZihehcbgfljjggnkhnmigacgbeoknjbfgckfgdgebigk+++fdielggffhighlccfaegbgikhbegafhdYggabdjljafhieiilcfgfbciokihZegk+++hhlmegbfiekhmigdedrgcdffildjgcgigmmljnphejcelhiedZjljggfdhgbhddf++nkimjhcfhgggkgjmihg8cjdgdflceidkfijgkljgfegek8leedkihhfjtihfjfeddkgegeZchiijgZe+++fdhdghkmiefegeffgedidgjhekljgffkjfcZhfehggkhdhjiho8jjhnhhnlmijknhgikgldbhb+++hlfkgegmfhfdgefiihbbcdgcdcgcYhinleiijmaggmlcbgihfYdcifjiiieihkilghja+++jeegdfhehbbfkdhfhYjjmlehhagdmembefhgecgeggehckj8hflfifkggbcghhklfjkk+++deibhkngZjjidkjffgdifeejcdZZbggdgggfcfhkgejghledimfjgjjikoljajaYYdgjiafhejehdfkkhjdkkkigimmljeilpsqlnnlihkm++jgkckogk++mploojkmqklomtnpqnnjrsponrnpowvogZcjkiendhkjmllpqmfdk+++rqtronsssornlmpsqrruurojlmmpnorotjjllhnqmsuvzsmqoupmplsorkomjrotsuspqll+++hhommjlljjswpsohcgqkkllfecjffllhiddkhifjjkhiimikhhjefdgkkhmhighgc+++lilhljfjdaijkiggYelkmnlheZihkplkhhnnjigdjifehlehhekidmjjjhffjigeg+++igblldejmhkfZfceggedmllekggdihjjglihigmgljlelkhliegikmnmjhgdikjki++fhjhggigfegffmibegkohhghjkihgmhhlkjjlkhphihgifkkffheijdfffchehqokkngf++igeghnidjidebeljlmifcffhilndfdddjhfehjhbhpljgghlnkfcdabhjmkhjbfdfeegflj++kmfokjiggahmldefiheebhgjfgaihjlijdcbgjdehhaigkhiipmnjeghdhjdplgl+++fmjgmkigkenmokihndfhmeggkelpbhihgilfjfijfghhnighjffieeghheghdkjh+++cddjifigihhbheiiehcefbfjikhfmmkcikpktnlhgiifkkgfehdflojjmkimhlln++hihjifZdhdghimjhhmk8cdhdigghklpedflkfenkfdjfggeiiiiijcmmjgikeemiighfeiffikmkihi+++hfmfjfhijefijghibcijiib8fncgefddmfccllhmpemeiiikfhfidlnjlonlggnkkilpikkkhi+++jicihadgefhlmkgenkgklhindefgaeihffhgnmiibfkhnkgfjifggZlihbbikklhfhid+++dgckgdhlggkhhdfiekg8ehmgghkmhlniiddghhekkijbeeg8lidgekomhkeihZfmfpeg+++ohcgfjijjnidddmjeddejkkfTfdWXYbggZbehaVYfgeagYVaVZeSWYhgggcZgefcglhehbgWdgaeYbgdeehlkWYdZb2772zwzypjsnou10t++wxqpuw2z++ss11opsEEGFFFCCCDHHHDCAAAAACCxz0y51yvvnuz2ssuw29421qq+++y32uuzz0y0+43xu104w0wzsv2zx00303112z425y541uxyptvx523zxv05vz00xy137yzvx+++z254+761twwxz3715861wxyz22y53+7uvmklhgiklqnnghhnhjqqhhnphmddnqqlg+++hededigligjebdihgeafeefaYWedbdcbhlefkffjjaZbbegihdcagkmmkefhjeXahtttYXUTSUUNPWVbZTXXYYdfjdcVRXbZXXWUQWXYbdaWVTSVVWbbXYacZTQPQRQRWOWYd55gmkgfpptneXYejIIEGXZeikpmdglskmbionljhdfljmktsmpmoxtqsosrqrqrjmysqijk55prqrjootkgjssmxmsqnosnkennsqssslploovswqzuyzornqdegfgccegecfadswrvvuuyu++wvzwsqstqsmmrqsnklolmpptzyqnqputusvtsqnonmocccchheiddadabfbebhcatttnjkjmlqqqmmhhdglnmjjmoplmekoploifgjjamopqpolomcdffdbadhhbddZfecfnnnXXWZYZXYaabYZOLNECKVNQRUSUXQUTaUMSTQVWTOORRSJGLIJOEOFFLTPMONJPZettXSTUYUXYXaYVTXXYVVSOPQXXUUVYWUTQUZSSVWWRNORTYecgaUPTYdfdYRQSTadYcccfYaVXWaYbYbZtttbZYbYZegcaXbcfcdjiaZVYdVNQPUZTWbVaXSPbZYYgZXSUUUOLSQRTVWTgigefghkebffgcfhd555qqroedhlqolsx1osmromnmpsysnonloijqqompqmmvwtlqWVXbbWZYecaWYYaYWZZfdf555poposppqnpprnncdbhXeZdfgfZhokidZZQYYjaffjechkcedaTaXaYXRSaXRUPVbbQTRtttjeggfeikhdZggjcgicXababglknjiighddjmfehhnicckiiefihifhlligehejkkopnjfigfehmhjknegfhedmjgljcjgljlojccfgjllhg++aefoghfe++ehmhifbfXZhmifijjhfjjgkiibfeffheehegkgacbciccfgihfebi+++bhgghdhgkechefjgdfggfdfghnihigcccgijkjlekjmqehifgeffjgdifhnfjlelqljljkj+++hjlfhiimjgjmhejjebcfimpojnmfmgeddgjfgleiejiiekkrjghijfdfhjjsnkklj+++gfbflilgfeeighcfefliiieejjiggemimiciZbaZeflhggddZhdfdhkfljggingac+++bihifgVfhoiplfddjkhkhgfbefhfekgfeijhdfmgfjkhfkighedkhejikhjjehkgf++fgenkfjdimbhefjenglmkiijkbghoijccdgchhajjlfflgZffcekhmjkgfbgihjsjhgdc++mladcdiifgdihlhgjhegZeaekhigknjjhdgnqnlhdhcfefchfdgegjlmomiikimfcfegnlj++kjiijieiecijkjiblgihgbihjhafjjjmdgkgdfghjjilkihekggfhojjjhhgbkjk+++faeghjfYimhgefimfdhgjhhihkimkhekhhfmqdedfgifeehbjicdkoiijfhgekhn+++lfmelifnjecdgcegcojWhikkgghifhZfjkngilhhhmifmeYcgefijeplikabdjfc++Vdijekgfegfgknggjgbkilfhefeljeefimkglifigegij8mknfkmlmhkhcdijklhegfffdcfkhhnkkn+++goihhjdfhhijkhjkfmohdfhggjrnmfkoidhjegjihhdmnmhlfiffhlighcgghmnhhdcbkeiega+++heekgdgjenbiidjehgf8gjjjjlifilgmbffjikldhnimkglkkhigXeiefijbfkihfdnj+++idnhmglkiggfffcecih8ghmhedmnngjmgedhdflcdfgdbhdihilicYfghgfffcejfenq+++igijhchijmfekcdgjjj8jkkgggjfhijggaahefeeeegigiedbheddggjeiefjjhjffdchiignfjhfcbjeeifefbddXekgeieaieXYchegijBBikgciljkBBfgikegfiefmlihhYflgcchnbciggddfffgfgmefedjiceflfjjgfjBBBegjlikmjjgkkfeffedfjgjigdgdjjecchmjfddaecldifidjjmcijehkiligcUiglifbajiBBBdjghfjhdhjbbejjhjlehffhgkijjjikhfcdmjihilpmkfflheegcedjhgggiikjjlBBBhgbegadnkikefdcdhekiifZfkhfjgakkedhegollgddfdiheejhjibkgibdikgjgjBBBlekjlmhdgkhdgkhjhbaZffehjglmiejefhkihklgghfhgfifgeigikgfdcnhigebgBBZdfcklgmjjefbcnigjefkkhiigadcaZgigfgedfddkgdcideljcgiflnjfgdeigdfgdfeBBjdghonkkheajfmkghhdeggggfgdikkcbfbdgVhldddffefgehblkkecfimjijeYijfdgcghBBhdcfabbgfciefdfjjkiifggeefidgfkmjjfjhcemichfmmddhhigfjfgnkjglhfiBBBfccdigdmdbeZZdjhcZmkhlggZijfggifejdfdgmkleadifbffZfebhiiicdhYXgkBBBffefdphhbgdifekfafeehlnfgnfdbeccaigjkgkjffjcehfembhjkglgddfglbgjBBecnchgejhmlhhhaggfkEjkhhmkhjiggjjijggdoijggagjkmlifhrphhjdejjjkhggfjejhgffcadfdBBBghigdajgjbbZghcekhmiegYYhkmlkhgjhedcjkifldhjklhidghffkckbdcehckdgkjjhfffcdBBBiabdjgdegcZgheeijfeEcadejXfjjcZcedghgcdbcejjhddfedhkfjhbilhhhidcgglmBBBajaYhddiglfecfjkongEilkjnhgkdbdfgmjakmmldalmegflbjghhfhZegjhpnnlljqdBBBcdellkhjkigggpglghhEdhiejggfjfjhfcjgehijeidlfjkjkghgjkgfhimoohfkjhjgfqhjeiihhddlgihkihncgklqhihglnlhkjkkmie55nkfchjhg55kpmglhhjhhYflfcdfhhcfgdihfijedfbddXWcccehgedacdbmdjie555jekgifjjiibgmjoigedfefegijghghikphkgiimmplfiiigkekocfnkebgjdjbignilfggg555gkidhjjinnjiglhjoihamhghhdmkhkkgifmiceegpeggebihafegjokfjfefikdih555jjlejmihifgeglkhiffcejojijjfjkghejhkgkhnijnkedkcpgmcnojohildjjkkg555jYeehihghgchhmmfhfjjkogomigagnmkjiinieflfllkheajdieidkfjffhmjlkrn55hhikhjfhjffcdehilkllaijkiolojnkiilgicdikgggoqpokjfqolieZedjjdcghklfdd55hfhcgfjjmdiifkhehkighlhhljgdamngghkhjjlicgifijcimqrgeikghdkggijhnmkkkee55hjiinkfhnqpomkeiijijkqiinfjijkljeiinmlfXkjiXffZhhjmoqijhihhfkfbf555dhmjijgbkgjmjhigjkhllfllnjdhcigghgcfikifhjlnfjklhinknjjhmqkkingk555hjkhjfffgfkjkfhgkqmlkfgegiegkhiiimkmiiiknlknnlmdfhhihfmhjlliniji55iigjlfijmbjYdlolijjhjlhiiglfkgbhkjjkkeddgkjkioikidcigijfccelhfgelfihekjojlilmgf555kifejhcfgdhkgjjkuihjmmkkhjkhkkmlcilhdjpkgehdfgicdfcgjiihhfgelnmiebfjhmnmkc555jihjmilcksipjkjjjhi4fcmfghojjklhifijgolmjhjfbZhhjjjjllknhiimhilhgigf555mimhijejbkhjkgkjdnmfnegmfcfjedgklmgleifififjmkhhfhkfcokggiheggkfkhfg555gdejhhskehggajikhgpiijgglkomliefceejimmgkgplfaedfjjijiqiddfhchfdbhfhjikfhdnppoknmqqlliikmjfobXbhhggijkpihckHHbkiggeibHHnnpqnpomljnokihjhkllnmmnmmlnmkfijnghfZeghhcfjgfbchhlkHHHlhjgebdhhjklkhkcggceffihjjkjdafkhhfdgfafcciklljiejkdiljghfhmihmoigghegfHHHhlvikdhifomhnjgkmljijckjbmhggjihgjebigghdcYiggfjjddgcedfihijecZkfHHHkhfdfcjghilihnmnpimigfehcfgcmffglhfkhkihlfejfggeaeflkfegffdegdgmfHHHkolipjihgidkggglilkfdjhidijgdgdghjjhielihighkknihcdhijmlhnllmnfggHHjmhhijffimbghhfihgjgglkfeghmjfjkiioihknkfgfhiebjfaehhhfmhdbihjjgedcegHHkkehkmoddgflkljbffeqghihjkiheehdghghhhhhglfhfiqekkleklhkcimfklbfbcekgkhHHkijhfikdgjgcfXfjlkklihdjghdgfjlhaebjejifcfbljaYihfikdjjigeZghjmfHHHhecgibelodihfiflmcgmjbcbfjilkkpjdiidddhgdcckedheggkbfYgfkkhkkdfhHHHhihgihdfkfiijfhfmhhhaXgfjeigjfjhjeghmjigfggfffliehglgheleehklichHHigdcffgkfjkeekihmjihfeifWjckgjeifjcihkgghjddeJkhefaefghhhgidhgjiegjiihieeghmhjlHHHhngjhgigijkfhjjjolminhfkllhgdiggggfdfionhifijeiegddZefihgigigjjhhffijfgejjHHHmgffcdgfhhlkkfdljgaJgiijkfgbfegfmljlYcfhiggkjojdeZacicjighZllhegmihjHHHfgljfllnommklmlggljlikmjmhhfgifmorfgikfinjklmkdgjgglkhmikhfihigcndheHHHgXebceiecifbjfhgghkmfflmfcdiideejidjimgjffcjeidkigdepnkohgigcefjeehhfdkgfgcegfhfjjnbfifchipklpigaldchfkjhdkHHjihhijdiHHhjguqstsosuuuvrrsorvpsttrrqiikopmkilkggmhjejlfijdcefhHHHhgpqighjfihnmedhecgdghljqnlkjhhkehhlkhidehgfopnfhdfihijfegidZdfiieiomllHHHknlhfgmhohdmefeijniijefdbkificiihgghjlkloqilqmofmgdhejfYehhhhffcdHHHjhcfahgbjghfddckheehailgihkijibgijiljedkjihfcidcehdehceZnhhghjidiHHHmmjljijnkghgooidfijpihldfkkifgkhdiecfflhaijfcnlhlghggilggjdedjhkcHHdhmlihjglkkfbiieikkhchomlhgdlnkfghjghkjmgdhkmgghcegififcgddgfhkffhihfHHfgfhehmehdgeehihhljijgkghkhjggYhkmolhmnicgmglkniigghfdhjfYabhjhjhkeefdjHHlfhgefmhgkjefdgaegggfjimkhiolhcajidfedbifcekadllldgfficgicahhhfhHHHmhbdhfhkgjicffmkjegjbecfgjmjhjefdiicaiiijggjknghfpggnhljilhffijhHHHdhnomjjikicgmhcgijlfkjglmkgkgliigsfhihkbdgpoliinlhdkhhllhjldghceHHeikhdffgdhjmejhlgfgJehikmbghdffniimilekggcXghJgjhggjkhdbcjjjkfjiZedlicgifmnqfgfHHHjdffaknljXilihonjihfihbJfgglijffliicgikcgjjfgiehfpfhhhijmgdfeimiiggooelfgkHHHYhlhihijadlpholeflmjhcfbgghmgbbiejflhelmghgmjmkdggjhjdhgflgihknldgmoHHHccgkfdfkmiiffieljjiklhgkfjimhojefkiddldbijghofiJmcehjfikagilhdbehfedHHHjgihdeedlfjehikihmkghgjnhikgedhjhkeklndfkicggegekdilfibjjmhkmkkldligjlhfcikghgiiggdggifeeeojgbieikfinfbfehgBBcgffebhgBBddnnprnrpooonpqonnmnmlqppnoijhihijcjfakgYhdggiejkgiilBBBdhhdjjhikkgegajefhjhfgqoghhhgoihjlhmkgchkdhihjgalkihfjghnnfifgamjjhlpihBBBhhliggleeieXcilophemklgikjjnomgcemglpgipkheiefdiegopleqjlirjlkjndBBBpjgekhikhpnjfeemkhhohffdcilklhgkqoikbhlhfmffeihjjkadeimiecbeieeffBBBfkolknmlghbfekhhgblhlqifikiddgjmkjilgejbikfdfimhmkiflkggjejiglhfmBBileghjdfflhiiigkeiikeggkmjlofeikjjlifljhkpkgifehijilkgmgkolhZeiiglljnBBilhhklqgddklkhflmmdifjgehViihhkjkhljikjjhiimlhhiddgkcghfcfegllfhkegeijhBBhhhgkghikhjjimkjkhjgdhdihokhhckZdcgfcegkfkiljimhgkhhdklhondhljnoBBBmiddmjhdbjfljikhiomegYdknjgmihhjfghmkgfihkbdlehaeimmceecehdebaigBBBokcceiijfglkdhmpdfhffceihlhkjfijhammkmdikkkeijnjjjljjiijeghiicifBBkjjjkiehfiigblYbihhijddimkoehjmdebceYeglemhjiEehjmddhjjeqolgceddihihhjiheebfcfhBBBkecdnilmehjggilomelsjhgEigdefgnojkgdceYaleffdghihfeelagemkiolfkmkjdZZhiijlBBBgedkiihkigejgZcgcjjEojfhkliekkhlojnniiheffgdeekicheehjfliejlfedjikZcBBBWghjlhijkcheimlneaffneiimhhlmkifimljjlilajmgghigiffgmjomkoligemkgkmoBBBjjkfhohjdhffedkhkmnnjlfihhokjjdfggcijhjllibZfdieglicdrhbheklmjhdchghibejmlrjhgggeegegihhkdffmlkjhjcjdejfijeBBgefhgonpBBhktssuututqsqnoqrsoqolnprknmqcnmifkhbcfffceiikfgfhlhhBBBjikkfhilfhhhedjgdebdefdgfgffhiieibkjlnbdjleejghhkkkjhmhcbjejdhhfhnmomnmBBBjjjmfmggjfkjkhehfhomjilfZdgihdgoijefgjihigmjigiifgXegbdkglchedhjcBBBjilmfjiijkbhglpjhiglkbdkjmdihfinihdhfhkelqiejidinehmlljlfhgdmhfeiBBBfccWchklfcggihifiemihedhmjhfgmghhjgceefbgcklljhmjjhegcZecfdlfhkbjBBlfekiflhlnknkhghihnhgkgkmgegigebejjhmhjjhmkjillljnlggkikseklikilfhggmBBgkfeehhdehikiigglkkgcdfkjhijjljfddjmhnkiijghhZellhijhjhdgbecjcgjkebjhghBBfgZdhffjfjklkfdjionljiihhjjjdcdacdceebfdgdeieinmfknknoeijhgjqjlgBBBdjklojmjggjggniklihgejlhmjeejcijmekmgjieihdhhjjhlkmgjjikipijchfYBBBhghbheghgjffoolklhegeiegYkkifmjjiiglnjlifinlfkljlgikhfjpegcfcgdeBBiighfhdjhgjjlgfdZdcEagjdihigYbkjgghiigkkggegchplieaZcdieeeihijmjgakimlhpgikhkafBBBdefmgdjlldghugiYbfeifgihZeghpjkjhohkghgkimjghllfkaEjiihgcdfgbkmpkmcjiefheiBBBjkhjjehgifddchcihlmEkmlkhingkidionqookiiihhihecEnnjilclchemlmdflelkiBBBhendgkdgggeokjZbcdflhijujhomhigkeeajnohfhhlnbggefYifYcbknifhmiejbaffBBBnlmkojlnkliicghgcbdYdejlihilkjmkihikomooqnkeilmghgimmpheihjknoklmpngkjgmjkiklmrslnppnmkihljninihippholfplikBBbfdfhgegBBlhuvyvuuqrustorxtuqtwspiimrususroljgffhgeifckldfekhjdBBBnoijjhhmmolpihfmhgdfifeelnthkdfffblkihgmkglmnijhnoplklekhjginlefijhgjihBBBdjfkfiiebhfjlnijejkkgjejkmhmejljnlcjljigjjfiieffgibkiidgfjkhfigelBBBjihgmhhknpijiehddelekZfgihfffedlinihgffhhhbmiikjZdgfkkehlqchgbdfgBBBgjgfgfdhijhfiihlldfflffhneccaaddfebhjelfhdehhljgmgeihfhdiggichijlBBmkgdfkikkhbbjfjkgckilieghhljgedkilkllgdddfefmhjecnnkgeengefgggefomdlmBBofgelfjdkhedefhdlkgjmkdggcgeeibhekgdordiZgfggfcgjglgjmeiffpliehgggomjkfBBejaeecegjlkmcbgdgjnlkjffdgheifmjfjmjiedbfmichhkkdghekiggjmkijfgfBBBibiiffhbchfedlghkgenllhqmfcjekdelhjiljilhjqkmhfgkmlhjinljighnfijBBBdjhgeglglpnhjgchbfdbeekmpkhhlimigllkihiefehebedecojnkiejjiiedgjnBBhfgjggggqroemiigiekkgheggfegghflhljkcmdeeklfjkggghjkghiiccdfjfofhhejjggdjifjchjBBBlgkhfigjkkfhklonfghdeceEiebenhgqlhhejidcddhajlbcgjEiieiffehmkfklfekggllngnBBBfcfjfiigflfkfgolhkgEgkmfkgeddfjokejdifecjihbdnkEmnniicijejhbfjghjgfbBBBkidZdeihhljjijhmjkmEfjmojnihjiefqllffghjdhlmaigflnihfffbelgfgggijjjkBBBkfeiefiilkekldegmjikjhiiikkjblgkfklhgdfgfdZdhmgdghmmkjikmbejfciefimfjifiggolkmdlkjfkhfckggikniefeedilkcajdjBBpmioigjmBBookifhggcaooklljekkfjhocifhchhchiekiilehkemlgmigeihijBBBjjffehmjnehlfghhftgifiijhighghmmcfckhojfkajlidcgafjedkigidginlekfgklhdkBBBiokmlqihhjiflinkljegZhbhgfjlgeikkinkhejhjlhlmjfcddfjjhkiojjfjkkknBBBgglgeiggfmkgjkmiifjehlmehiiknlnglnggcgiohggliifjhfggikmrllnhiiomgBBBddffmjkdkfhhkhkijnpiijhoihjlgdhlfgfegehkjllhgihgdllrlllbflklkkhgcBBgfiljkkgongfdhgamljmjkglfnllmjighijhfkdmhjlqidfbcahhhkkejgdfddbdffkhgBBjifchlmqkjjjeehgkemegbhjjfkheijliggeiggikmlflpkiefdkdeieemcenmeebhffdjZBBdkikiihjcbiljeYkkeldeagojhggjkjmdfhhnjegknkljibiejkjnkmhhpnfjhkeBBBfgmnhhmmhliifjjlkifeigidghggfblikojlpnifgltjimhmnijlZgfekhhkljimBBBkjmjjebmmemfilppljhfeciifmchhgahjfkhkhggjhmkhebkoljfjhkgqlikhehgBBolponnmnffpjghhkkeknonnkoiefgZillggcjlmifgkkmikpefhkhleiifimifhggmlmcddfehknjioBBBlkjmijdkjckhjjilfipmkegEhhhgdeggiljfdlheghjdhhgignmmimjecfhikihieijikbaZjfBBBcgjmfjeggfkkdibhhkgmggfhidgigehichnkjdjjjgkllglEpghhjkhhckihhhihhdhkBBBlighlkifkkclmmlhlmoigokdehlfgfhejggjhigmhjhgdghiiffcikagojlgheggijfnBBBlhggZimnqiiikhbhnfbhehjgifiedhaZcdhbgfgddokinnZejffiggdffhkhaahefjpdkjhbbibmjhafjjjijkoagkgbgekmmnnieiolnmkBBlihecdbjBBjjghnijggZeicfahgicghdjnifioiegdfdclkgflhkjlkfdggkgceBBBjnkniigbgalpnggilhghmhmjggfhgehfgkliihXcfjmhechjgkligfhaZehkbkchidhgghdBBBiedgehjegfjcjhhYagkkidbihigehdjjkkmikjjidjnklhdmjfiejkhjejhehgikjBBBkdiicegljgijjqlekfnliiilljfhkjhemjiigfoggcfigmmhemihlmjjiigkjjhekBBBcfkjhhpghddghkjiejdehekmfehhomqgddcclklligknekkgdggjhdgfkmkljhoejBBhljjhglgddchmpdeijillicfjklkccllmmilgjidbchihhinifgejjjlfefdheddjlmlkBBhkcjljnljjkgmdehfbjaihijeeZYfnkgkkmnmjdfffiigjifigjmehgimpkgnmkmgkkjfiqBBklhpkhgkmdceZcejmiladeihmihdkemjonfgfehigfjhhokhjkljehojiefgeigXBBBkljfefmkemfbfdhhigeifhddeknkmjnegjmhegecbdijjjglfegbgmjkggeeZjljBBBlmihljkklhgghljkklqkfegkgihdccfigmigegikjihlfdcekjllimghgefijmffBBkdihhkhdedmdhdifbejEpqlkjiggieeehhiikefhnegcjEhiiklmecgnjfgfignkhimhehihjljqincBBBgnrkdieglhkkkljhhcjffcfEifihiehdgbfhjikkffZhmegheeEhifekfhihphiehacchgkZfdBBBjffiegiifgfeiikojmjhkigkhikggfcfdbffggkmljjdhiiEjlfheafhhhikecfkmgflBBBifpifgkhcjhkgimlmijigkjdcjjgjggikookgiinmhekmjefhfdcjeieachmgbllmfjfBBBdjfdfgelmmcaafgkiojEhdhimhhhggljfmnmmlhmmlmlimifmijolmigfkihkgknopmijifljmocegjhkkjkffkgjlhflosoohhlikokjjiBBfdjpnqijBBjfdehgfehhhcjeghgfkekcdhmsfdiljolgcdiiYegfgbgacmfdhjpBBBhigfjljihilfhifeojhilbbfjigfeidZaflffcggjfeifejgkehjdfakhedljljhihicgihBBBfjYgljnklmicfkgddlheehgiggimgckmikikdhniehfkeZhjmgfflghjgjlcljjmiBBBlnijkbcgejegeikijmikmgdbhhnikieflckhhfiiigXfgjlijklnnkgmmngechgmhBBBkjijfkkmehghcegigdfffhjfilikgfgeedfhkhgklgefhicggkgcimoiihdjpdgjiBBedibZdhjgejicgecgjcfhmgigmmlhnkfcgfjklnhgcdeblfigekhijhkgigjgihkgifghBBcijqifiiifjlliilpoklimgdliokeihkhhhUjjmilmhhldhgfkllleidjkjlcilXfjkgfigBBjkiifjkijhejkfhfiibfbdfebcgkehhddciZdfdefjkhfetkabigonfgfigghnjmBBBgfhbgkffihjjhiokkkigajgjefhileejcjjgnhfifgiikilgjhamfhffejccffYdBBBgdghabcZiehfchhdeidihknfjiejeggZehiefijjlffgijkjiegddehlfdlqkllkBBhflhhfjgghhhihejggdeegegailfcjhZidinkhebgfdhhEicgefejleiihkndgihdfcfjnhiihlgimkBBBhffejgjjloidgmkhnjiohhkEhigfrjcgeelljiefijbefiegbcnihgcdfffigghjlejjjkfhnqBBBffjjeiibdhkfhhdighccgfllkijhimpphefjjjngjhgjfhedkhmffficebbfhmokiljkBBBeXijjjhkieglkkkgnloEbflnmmkgihjkgfmfiehjfhifminEcejjjfgjlighnmjfhgfUBBBhieeekgcbijbcfdhingiqmjmchgdaihdhdhdgjehdifgdjrigfdbickfeedffcffkldgifeggdfgigcfhdgifchnohfcgffjhnigeljlggjBBieheeejfBBfjffgptrqosrtqpopnoqrropqopgccjnjglmbfihnhkhhikfkjneeBBBaYUhWejfejagjijmhjiikohleilgbfeknlkffiejehgiagecechahlhggihehhehigkfcmcBBBgbbaddihjhbgahkflkhhgkillgihmhghcegbielliicajjgfkkgeihihgmlgjjbehBBBdjnhgohgkbXamdehbcflgkgijehjnjmlhjhmekhjjcdelgjlkccggeihimhhcehojBBBghgkhfmejjhgelinedfgjfbfegdgkikdjghcogjiejligiiecifdgheegXcbhgijeBBhbehfkedcbXakjglgedjjgffhjjjjfdddmjlgjikdkjfheilgfhgkfffkmnemafghonmgBBjmljkfjhkhkfjlfecfaeehgnljjljgkkbdgmmjikikfieegkaiegmgZkhgjedbfefiefhbkBBjjdegfljidbdkdfhfdVcXZiciaebchegYZijgghhghhlhZgmojjqehiehhefnjglBBBhjfifmmnlfgbkjZZnjigjiXbhichgXgddgagkgkmddfhddfihkkjhdmffhehfgnjBBBkdejgfnhljhihdjhmjgZeighaggWkjhgfgigimaklijigepjkgeaemjeijpdfkinBBhldecgjiehbiglgmmjaeifkfeojfgkefhhiekknmmhjfiEjlgffbfbccgjjfimemlhhfhqeggcffmikBBBfghfhohdkebchjgidijhglifkedifbafgdgcZeZdhcgfinhgdjEhhlimnifedlhecdiiZfijlkBBBffmlgicddahcfkkffhchimjibgkihfegchgiggdmmjemkhfElfggiliiifgdgghfomheBBBiddgamljkihiikilnlidecfjchbeifkighgidfegegmpihjEhfjenfglkahhjcndkeciBBBkgfiighhkggjjZhfkgdpgcgjjkihWdfjqkqjlmdmfgeecelekjkkllfcjjnjheagmikldhdhjhhlpggedhfkmieghflieidjhmjdehfgideBBjheeehjiBBdbuursvxtutwusuuy011xxy0vtvx2njigheegjffjhikiglhiemhmBBBcgjfgjhZhggjbkjehhllijmnkifijibeehgggjfheiiikkmegflkhkiigkimghejhejkifiBBBfcbgikjkimiflliigebaggefimiffgjikehnkhiljlehijihieegihfjjijilieijBBBghfjgkfhigbgihgdeblhlimhfeheckmhkbgnpmmkniajiijkehfgkighhhkiggelkBBBdfmklfmkngfehehmlhjfjejlejmoomlhnklljfjjfmkhglihcffknnfimihidnhiiBBnomknhklidckfjihjmmnggljhdffjicajecceiiggfgfhefiffihghiZggnekighhdhjkBBjjinjdjdggaamgacYjcfggshaeefiafhdajkdddfchhkimfjjhigdfjbkeieifhhhiXglhhBBfhhhghjddYhjjgehfdiffhannpjikiigekkigoibhajghhgdhifjjfgcXhhljjjjBBBbgnpohjfkhfilefhifgfjjnhfhljhcehleijonefgffceeffhhphdfkiijifgedgBBBjhfmjgknfdfiekjnjjkhdfcbfikmgdkiidcifkflebfeeikejmnighifcgiidbehBBcceqceeggesllkkkicgigkiejfiechfffhmiigmjffmjoEjhhikijgfjkjnhdkjgmipffjmoiijlhhcBBBjjhkkfhifilniYhkiigejmkEcikmigfkohggjgkkjlgfljggejgkliokklheifddjokijljgkhBBBghjhhghlhdjkkbchhhlffiffgfgkeffgonnrgfpkjigmjgiEkkkijiehdhfmlihlgmomBBBcdkigmllkfhdkgogekcgiqlkihfihgciihimbiggjkekgmirhimhjbabechgYglllhghBBBniZZgdmhgifglmoooegegijklkolkadjefjljiibgefcZeiidddhkjjnihkecgnghWjjiffbchZjfimaacgkoimigkfcjjiibhnjkjlkbilHHjmhpljjkHHjjyuxyz743986115214476xvwy0zy01yfmjlhdkhkfeglhoknefkmHHHimmkmhkedkliegfmqhjjkjlceefdefijedbeefjikjjlmrkhcjnjhegZhfinefedjdkkhikHHHgcmjifhgjnhfgigchihfhhehhihjdgclijhiihcdhjqfgfibciipgljnogffolfbhHHHcgijghgaYheifimqjnlYXglihfekhfjgigihcjkiglfijkhgngbbfejldaehdeahlHHHmmllebfiiijjhnkkhgfhhkhlmbbehjjhmffehiijiehfijjidhfjjigkidjomkggjHHlokkkkmhefffjlgaZegdgkijchfhcdddggglkjkjlkhgjfhhghilolklecijgjgdhikrjHHhhmicXiilheekfildkjjikhkjjgllghgikdhlkikfffdhijkhhedcjjefdaijmihfefefhgHHloilkffYchfggggggjohhgfiimmhdhkkihhgijhdhfhgcfgjkjjlgmokgliiiigjHHHkhgjehiefllgggfnggmokideehnimkjiadfifgdfejfegkihjikkidhjlgehhighHHHgbafbedffmkmfgdimjcfkmihebekgiigfbeijiiccdfcdfhhddjfhlnegfejileZHHlhilaeedefngfkpfiflljljhjdgkZZhjijhlflifjgmhdafoliabhfghjgjlijhfhgeggkmdacjecZcHHHjjjijchkddhijnlqifcimghdljlfhljddfijlidjjdfdniikeihjdidgijldmiilohhimkpmhfHHHhkhllknogijecfegdiecfhehemkkiidhjfhejimmhinnieeefqlngikdebbdilhelihnHHHgcjffilchkmjfidkhdhlkelkihlkiiiihimfbdhghjjjkkhggefdebbjdhjlhihiikigHHHjgilgkjfehhjcjlfemlJghjhjoiljjnnpkkmoprklkrjiokgppljkjjokljomqjjkmlsmlhbspkpmojjqnnoqlilpmpijieqntqkqptrnohBBkfkmjhjgBBiguuszzuxvuyxvvvwyvuxxxwzywptu2feeecgcjkbcgpimpkecafhBBBhklkkjlmgiigmjjlffgdhehhhjhjhhhkjfnnjkfjgjieihggkjgfgcdealimihhcchgiidcBBBfkmlgeljfdnljihkkndiikkcfllfbjijfkhgdgiefidhkidgeidjjmnlibZeegedjBBBgiefhgefjfckefcdjkhmhkjlijhZmkihfegkjikgkhjgkemhgedfcihafiifgZaYaBBBhigiiekgffebfhjhmhfZklmeicjhghgmmejalgggolijgkgffkihcigigiicaebhhBBkghkljhfffklifjlkebklhhhhejfdjiljlnklgiaeebhhidholeiifehaikjkmehjkhhjBBdggihfhddcgjlefkimnhghfggmjghibcbfiebhggikgecdgplgggcfiifgffbhgZeirhmfkBBeWjmihfhfklkfcekkikkflmffjnngfkgigjdccmppieigdiekjgdghjihdegihccBBBdggliggibedeflkjehjdajlillqbgkjfckodcikgcjmdgihljjjdnhhlkiafkhdkBBBdeZijahkfgleikjhijkneggmfmgecffhgjjajihfjhkelmfjgdehfileafhhjkcfBBchhfcklkgelhjoechcefjdgjedjkdbljghhimnhffmmdeEkmhehjiefisjffhYdijggjhchcdmklkkjBBBiibmnginhfkfelhhengdjghmfmhYffcnibfklhggdhimfmmmikhkifgeiheojmhjgjjpcgmdjiBBBbefeljmffggfkkhjfflElojhilnjilkjgghiiljhgijkkglfahjgfklhfimpkjfgZZijBBBgegmhnlmjejeklifeifXaijfngogegigjiffggiliklhafhllihilkkjehgiciihgkjkBBBkhjimjhffildehjfegijgihgcgihrejigYgcjldbgkiihmkdklhglkhkggbdodbiejmhfjjmhifccckkiggkhbeaddZZehiecfjkiehifcdBBhhldefhbBBigfostrtstponproqqpnqopnpnnkeffdgdfkhgidgkjfifieckggcBBBhahikgifbYgffbkfaaciiieigjedcdcgfaddZegXkchhdjdgifdikgkidhgfhZeehjmihemBBBkffjiffjdfjkefhhgefggljjjgjfjjfjfiegkgacggbdeZceeejddjhcgYchchggoBBBadfidehbeigggiigffhekZglijipmnggffegdiajfhomkklmgfhllgijgeaabkikiBBBjifeigkgihgigeeghkjkkhkgaVcjgSglfhlfegjhiiiieaddZifjehhigfgpnggckBBdceeefcggichkiedfhihbefehkdheceljgkhidcahcjdfgcZcsmeffjienkfjklegeffhBBfpghjgjghgeYbcdjehpghjhhjpgihnnokjhfehjichpjekeghfdgdgididgecdgijefYgggBBfggjhfjgeYcecgbegjhgjljehdjieldjgebYfdihhndgfigedfbhXfhhfjjkghgfBBBbZijidfibhimfmiijomojjkdghimkihhcedbiecailjgiihhbffffcgiaZjchjnhBBBabdeijhbgfadcfhlfgddbehfkhjgglfibeioligfggkfdjjgfigegieehbeieholBBlljeffmmhhilkejdebdihkkhfkjklhegfedffhiljiihifgcihiccdZhihkcbijhihfecffjcfedeknBBBbcbimchhfeffceggdhcdbZeEjgjedhfdfjiiolggcekjddalgckhdcbefhddgknmeeiebZedebBBBbagiedlkmjhhlokikkhEdkgffcggilhheiikmelecZjfiflEfcekiijfcbdjhfgeijflBBBjdhhcaehfikcgmihgiZEfiffhkhhdfhmfgfieidligghikhEbdcidegldfjchaedehlfBBBgiekgfiehgenjomlgegEcmplffeffgflgeiniejeggdjjhiefikcheZhlfjikonjeeffijonfojgbgojkjlgeilgilkhoolidfhekemhfgiBBjgdckeegBBghcefigwvyvxw0wxz0zvruswwuwkjlhjgfnahfjfhdjfcVYhdbfghBBBefimjkjrimiikmggeXljhfgiljieegbdgmdbiZmjlkciefhikiljgigjhgkchfjkfinhkqdBBBheXhjmkfaglkkohhkhffjffheehiffjghgfjhblhiigddeigiacgdihgdfciigdheBBBgmllgjdikhigghiijebhZZahjrjggcjfehfikkiegdbaidjhghmehfdZbcfjjhmhhBBBhjifkgfjghpmhYkjfickmofiolimegighkliebclepjhjeeifkghmmjikhejljheeBBkijeglgbhmlhjbgekfnqqnhgkjggeihllhmbbminmjicekaghfaeecfghhihfghkifjikBBfdicehfeggfifgllihiiddjfmlighkjmkgjkifeifmldcgdfjkfjlgjgdklgYifidiljkjlBBaefdjhqmghjlnhkikihifhicefkihfigkhhjjdhhbcijgkckgmhgigklhhhnjlifBBBimlolgkfgdjmedeaffcYagcfhjhimghleiZZaegZkpnijffehffmhjjgfkgjggldBBBfhjomemiehefeeYiikjhlmhkhfihhacgjkgidhniejhhjgjfehiijhficgkjlhgfBBkimkchghffnmhfffildEhgjfegefjekmijfgfejjleggcjijnhmdllfdoilkjhedejcchhgebdcedbkBBBfddeaaihhlikgmgeejnkpgeElfgdgeqmhkifidkmfgbhpiggfgeeeYcimhhldhchgggnaaghfhBBBfhkglfbcgkhhhjegehkaggjfgdipknoiiilgjfihceihiofeegfgeemrjicejjhnskfiBBBkjfjflibdinkhofkdabEihifljjegdicilkmnigfgggmjgmEgjkecbdjhiffijhkgffeBBBbafhhajlflghedbeigjEnmjimhihiekjhkeeininnhjmgmelmomkemllhbhfhjeigfjefgkikfcgmlhgllebmjijihhbffkfihionhmgljeBBlnefkkkkBBibhgcgWhbhhigfkkieigkgijgjelhghgfhggihfjoikggefeggohjBBBiegZcfkpimjihhdgeiqgmgglkmncgjkodkkifffmjhikljifhhggtlkmkmjnliehifggiehBBBnilkhsqifmhhgfjfegjnjlnllidjojgegehhhmmilkieenekoilbdafhgfqmlgfihBBBhjklojjmimigegoplemgghcefghbhgjkioehimjkjpjfgjncclhfgeehfmbigmgjnBBBinkkfhmigglkkgcjhkkhekcZkgilphhkjgkdkiiggljmlihigmfmhfhdmoopoejgkBBejlgijihlnmllhhifjoqkhfjimgigihcjiiifhkokhlihikfhignehijndfeceihofijjBBjigfgkhkiimghllknijogjkkkgiijjonqolmnhddjhhiliggkikmjgefeieihkfikeigfdhBBkZipkhilqiZghhhbhfihfbkijnlkbklgdihhfhkkfdfohgkknhgkiifffffgglojBBBhdkhmoifkghlikpllhaghkjggifdhikhhfgkojkgdfghfilhjkmlmjfefefghhjoBBBklfjeiiidhimkigjllmjehmnioonhkmqjimnmigikmhdkjilfhhjikfgflnkligmBBrhkijTigikljkiefghiEmphjkikcjicgnkprmjlopmhneEikhjljgkkgfnjkiiihkmmihckifekilkmBBBfmkhgfjkfckkflnlliZigojEhdfokdknhiigidilhkllokhklcEgginlhgikrihlijdcjfkhjmBBBjilgiedjmkehjimhjhihjfgjlnkmojppjihijjhkmmmihnkElofnhkjhfedgliojginhBBBkiiihkedfdedgcgfkecEdejghhjeehmhfjciohkojpmknkbhhdjhfonoqgnheihnjkjgBBBilijolslklnmjihidddlkmjjijjbihfjimmfjihhkgidhdcgdjelljrjplhighffjikhhglnjkecicomojeddjeelfflqfZdhhfdjgfhmjqBBbdgfefdeBBegejWXZYYZZccXXUVVVXXXYXWVVXYYaXkrmrheihmllahkhhljjmkBBBjpnkgkjmkmghifihgfhcjjkmkhmiibegjklhgiffhbbhfjgeihigefegehkkekdhhkgfkmfBBBifhidjgchighmlignibjgabbYceliggikmdbfnhlhfglhhikikomhhihedeaomhfkBBBikiifiiigljkebifehmihijicifnhihipjlihkjheiskkgsgfbiijimnnbcgkZkjnBBBeebjkfajbccdikjekmlqhfeeiigligfcfegijgnfjiifeicgcaffndghigcikjjlmBBkfiegjhkhmiqmjefnfcglheggkojfdafcihflWjiiheilcgggihglfffeflgpeZccjjegBBkjjihehidgdafikgcdfgihkgijjjejggehgeifiijidginpmmadchijjjhfihkggeieYcdgBBjkmmlhihjgigjlmhldgcfdfekpmmkhgddigienninkliglklljgicgkhnieihjfiBBBfgkmlfhggcZikdfgfigceheilkkhjfZcklffecejhgamfgjikacdbahdjthcededBBBgkojhgkkihilgibdhcagaWmbnnggikmljejgjmemiklonolggjkifcgqjXikibdeBBgdenljfcjhjiiZhnjhigbegkffginlkeldkkieiglZfYeEjedZdggdfiibddXgheiighgejdmjgiefmBBBklhlihjfbfjgjlhhgjjimjjfhlkiheejihlhfckdgeefbdligkEfkiihijhhibinljginohmgfBBBkjnehjmcfanfhklijrjEgjfidgpgfjeZafkiilimnillihlebjokldcefhgggjllnigbBBBigdZdfYjfilnikliifhEghkhgfpijdgdeinjkighkjgfigkdifgnmhgjlikgYigihgeiBBBjghiZbfjmohhfefhjdfdknhfuiqqmnllrtrtmmomlomrpjnjqrookquxokomntuqmonlkpmpnomiltypjvuqolhjptwvrvrtmssnrorvpnm++npqnhopl++okw2133150tz45y3vx01422wwyzyvzzy31201w263zknllkjhhhie+++omgnooqppmqnkkrorrtrpqnoqlllkilkmupnnppmpoqlqsvrnmooojhcjllllkoortnpjno+++dffjiflkhejljhgfhjnqmiidjiklhifhmkilifiiknkimilmljlimijhlonnghifl+++gifbfffljfelldigfkkfhjhjflnhdejihidggfjgfjkiijjfjokhlkggfkekgigil+++hnhgegjflmlkqgfnfihedfhjkiijgdibhleZchejkfjdfhllnerhimkmfdefhgdhd++egjmnmkeedegefkhbeggomohkjhfhbiqpdgfefkkfiioegegacffegfdfhicekdgfkmjg++dgmokihihmghfjnljijgmomlhnfenifbjljdgejmkjnogieekefkjcffdmihkidfhhkkjhh++jjfgidgiegliebZhgggelkmfijedddififggejhaekbiidfdbghbdgbifhjehhig+++meehkfghgkehehefjegihggnijnjlgiehgjbefiffkgfkbghibbcdhflijfehjfk+++fihfikgjgekgfiedfgjhfceejcaZdhmdgeljmikjfbgZechljjddemhhbdggfhid++jdhcfkcffdieecgilhekgimkccdieibhhekilfbjdgfffcbfelilgjfdefoeeighjhebehhkgheZgfi+++edehgigecYgjeccggfgbefh8egohnfgdjihklghfjblhafdfgkbgkdijfafekhjihddfggihjh+++hjjfjhheeehefecfggXhgdlijhZidjXeYccfchfemkfhbcedchedddiicjkgdfehgkcd+++clhjeeflmonnhekfhfc8deigjghdjbfiZZZeffiofhgkbZb8feZcacedjokcjniikikj+++ejiljhkmifckjffcjifbliadjlhglhjffedgdegmbehfiihfeecfcbahechegfggZijchffjjjmlfbhadddihfifjmhfjaabZdgffijkggkBBffdfgelcBBfdffdbcehlcfefgihgkhgjdcigagjebegecghUbdeeYacgegYbZecBBBbWdfdbYbicihZYdcccbYfefdVWYbWSUYXdXXeadadZXbehecfgeeZZZXYefbaVXYbcafdhbBBBifcdfgbdeddfcgcfciikebadiiiciieXadjhgkliikegecgjmjkgbcfdkkgljlgifBBBjiefhdecgjigdafkhgfcijdbjegdgeeclpkjjhgfiddhckhhkhhfhjeikjfjlgbcfBBBfihdahcjojeeVhjfXejkffgbdgcggfjehgjfijkmdfdilhhkigbdicghgjfkgjfhfBBekkhgcehkkmjffkildedgebfZcgdfdegiiekifkgmlhfddekihigcbjglojkgggglhjijBBjfhffcXkkhbhljcdggkeeYhjgbqcbZabbnjhfgcgdehebibbbehYdmonkkidjmlkmlnjdjmBBmbpnkgdslmiilhiikmkojijilbbalmikehnmrknllkmolljkhmmlkhgffllffmqoBBBiqnmlijcgflomhfljigjkfhjfjjimgommlihmkljmmgpoomkmtmhjilffgkmkmjiBBBhiehhjgflilgggejdhaiilphhdfhhkklghegYehggbdehjghifkolhilmfhffijhBBemeiihefffghgikgjigEnjeknhikckmmpimrehlhdijhjEnmghbdikjjddeggpohghghclmmklidhjfBBBhgnglckibhieijkfffihfmimnidilnlligsphjkegkpqkihjmhEhggoqqgjrniljijljjgilkjBBBkilnjZadejpnkokmlekEkmljimihlnpjflfhiolginfelkgijfgnlnkikgjiiigmljflBBBlklliiighngnjlkjlpkjhppolejdflihcjkidefimkfgmikEijdgilojljhgijhrlmjsBBBnkgnmjiijeihkkgmmhfEjnhefifhlrngkiikkecgjhlhfecbdgegggfhhZfhfhfheiiddiiieegiheffdcdbgjkfehfffbjdbhejiigccggBBdfikglkmBBkcqrqmnqnoommonpooplmmnqppkgadelkfdehehdgkafhihhihhmlBBBjejdmmhfafkjhnkjgipldgmmhidheeeelmihmhgelihgejffbceebdfYggcfhhhhjdehhdfBBBaaenmmimaikeZbjkiggieiekheYdfbdgigkcffgglienjhjggjeejnihkdddZWcijBBBkfcghjhlkigjfjllehikdeflgjinkdfhlkhdgglleZdgeekkcghgijpkffinkjighBBBiefehgikmffdjfkZpgghhgjllgbfYgidifkfeehdnhmhgeehlieheYebdgffllnjiBBihijijfiejkhfgiccigdZdafgmeidcfdlifngfgeileefcbedgjiieehihigdgfbhijglBBgfkhhlljnegfkmhhjjiknjefgfijkjiefdhggigklfkhefcgkdhijjjgjijiggikcbaddggBBedfgfdbgfdfhnngfaZZhgcdeekcegiafcdbhqmhbikejcbfchliimklmfnmjkiieBBBjjakacagimldfdhkhihmjijkkihijgffigdffigfmkfkheidfijgfgkciilfkfhgBBBjgdigkmigeafikinhhfffefhhehehhbcifefgigmhfghlpihjhjejbhjpgjjfhedBBdZfbhifbcbefocehkmfjZeijddZcbgeihgmmekkmkceYadjpojfjieefilhgmsqkhjifkqheecidhijBBBkjfkmmgiefjdongfggdfbdlEgljjgkhjjnmiefelgZgjfidgghEfjghlfgmmofifgchcgjfbbZBBBghkmkhfgjjjcddediknhghheibdahccfdgfmfdihigkjlehgieidijcgbhcffbZgfkhqBBBijfelhdhegkmonlkjhoEnilZfelnhhkjikelkZcfojdkjilhhkjlhmechgihhehlgnohBBBdebfddafnihefebdehgillhchhfgegcgnemjlgohingagfeedlnfhglhnkghgplhinhdlliimbkikjsjmbgkebglnhjemimjhnhmiffljhdBBklZehigiBBdhpopqqolqpmpnlnmkmooonmoopmlnmonkihefchijegfkeckkeloBBBfgdmhjllkijibjhggddbhmjflidbhmighfgigkgkkhhhnhmminchiilihmjfjigjgeghiemBBBbjfjfkhhnnffihkhcdgjlnkikjhglooflfgjedemnhijjgmileijnbilimqnmolnlBBBlhineejlfeimjbjihelkkkklphihnjdhffgdbmjfjnegigjefhjjggbnihjkkhcgfBBBmjdilejjhijqmjjqhhhkmflfqimikgiiilipeggklhjnjfpmmrijcijgfhhnjiidfBBbchbbjehjfclhkgjeddffgjhlhknpemeljkgklhgkmmiilmnkhjkhjgigoolfdjijdchhBBjhkoljhmfehdkhjihicdfonmgknmshegfhkjjklhglifihiikmhemhkbgfcddkjiegkjmjlBBmklgegfjkmlgkhfiilsmoqkhgmlkgnjgikloggmrjideehekihliehpkkihkacegBBBllohgijcidjlcijglpmgdddkkjljjgfhemkhlgljoihfdhfiglbhiignikihikfgBBBfjijijjfihhjhelpjmkhfggghekfeklokhljifjbicjdjqkfniflabcebiljhdigBBjcdlkndghdekkhjmgilhmjmmkigijnjkolkokkljfdglmonidfgfkgjleflmkffhmljjldehmnhiggiBBBcgikgflkmhgekfceljsjiiemjmejfdhlnojlhgiildkhmnghkgfgkmilnnhfilkifljoqhgnoiBBBfcihijhhkihkdkkghmldehomjkjhjcjkhfeiijodefkifijEligfjliimkkffbchmifhBBBjfegpmjjjhihkoojkheEkilmmjenikkiomjhfdjhgshkhgkEkkjddddjgefhdilhkefhBBBfijkijhjhglhikilhleEhmohkglomlenjnlllgtjmjlqhknnokggjonronnhmjktkmnnmlsiippljkuqkmkqorotqokknluokplnmkqoqmdBBghjehdeoBBnnmn////////+//9988+899+/////+4445jkjgjjmdiifffcejdfZBBBheifjigmhkjikkihiigeYeglkmojfjgglkmegkehiakggmdhghflfijhggkkiehjimdojebBBBhigkkickhekkcaecfptlllidjhjkfmjigjlhjgdfijlgghjhebblgmijmhfbgikkiBBBjhnkmmionjheggigdhceecfjeafqiigknilfhdhfhehigedfihiliikkjiojhjnnjBBBkkjnimpqlicgpfcikcgidjekjgcfghfgkfgiikniiYeielckgefgecejjshgghjnlBBgdiiikhhikljjajdgpidlhhhjtilgjgjgflfdihggogghegifkegirfhpiljdhehciaekBBggpjiffigeffhggfkihihcfmkmgcekfekhhiigifgjegdijlmlkfjenjjdjlddedkofjglaBBfjgkjgefjheqefhdffbgddjehkljgcfhfdidhfakjjcfhelbhaZagedcacceeYciBBBdfbeafbgjchfjfffjbhgenijmgaceejojbiefiighijnZbchhjcehgfglbjiehgkBBBgigiejfdffdhgicadcehkmkfhfhdjigbfeZedhldehfemfhefYgfmkgedihfbcggBBfogZgebgfdbefahcjigEeflfiefjdgZadijefgbgklfecEehhdijfffafimigfijegiaigjgffhjgcdBBBkhgkgfijenkdeihjolokfkfjjedehkhmlfegefihjfdbZcffgmEfedjhkelpgggicgifZceifcBBBhkjbfihlgidfecbfhecEhdjcgilgebhgfeggkahfffgihcffhhgjesgdiklmkhihflniBBBcdfdZgmbeidbffelmkhfjglmgjmkeffggfjlgcggifhejmfEceggiphgibhfbchjljfiBBBkkjhfdbllkjbegkfhghehhbkmpmkkkmllqomqlmmkkmikmnntqnmmnmqknojnoltqmljmmiijkkknpngknmnnidlknllqkljlnonimpquqfBBkfjkfifgBBeiknnljlkknlmljkmlkjlmnlkmmlmnjkijlkkggfgdgcdejjiefjlBBBihjdlfhilllmikmgddkmhijldefihgiaomlgiopkZhgjeghgkfdfjhfjighgjifffiifgilBBBkhehiiigefikYgkmkkhhjeehdgcghfefaeglhgloikmkfeiojmogfllkijgogbglhBBBedbemiioheiehlffmfehgelhiggdjglffiifgdgZflllhjghhXhikfjjbamegfldcBBBgdhlmpnjnlojbcgihkfejiimmghcgickollniljddekikhdmrlilfgchigfcdkhlgBBgjcijiihjifhkjiigfbfjhejiijkifmjfhlekinlilmiigkegahajggfefbgjkilkljifBBhndifgehhkijmkilijhmYgeinfjijeghmpkhojiijkghnoljhkhhgfhhfhhgfgjljhhnmghBBcgdellgedacfdihgmljnnhigdmnfidjihlihkhkikkkfminhggkhidfhhchemiolBBBicjegYgjjjhilhjkhiigoinmdhklgiedfhmklfWfmfcfkdfdkkjihifedgejbhjlBBBjhgfggcejmigliegjnhjhljjlfgWghhghidghhdfdhllhgfiffZcdekecieghhfjBBgkhefjfhigikllejklgEjekgehfihikiklgjkilnleihgEgmkikkmliibbjhnogiqijhgghjpifijfhBBBcikgkleijgjkgbhfbeZelagEfeiifdfkeiicjiopjhecihggjlihiodchilmphjhkjkghgggekBBBbdgjlmoljfjgfiikgljhfdckeihffgkkidblfcjdiljledfEhjfaggkokkfkjjlYijndBBBgmrkgffeehhjieiiggiihklihegikjhfhehhehhjgimjkggEfdlbdgicfomjZchijljkBBBglklhikegggfdhilifcggnqphhlihkfjlkihcfikjgeghlighggaabhhilfkjglejfihbegpokfiehigZgolkhfhjknkfnnlneffkffllhn++hjhfhdZg++filcWXYZXUUXWVXXYWZYXWWXXZYYWgejfjghegebfgkjffZbjnljk+++kmjhgfeagfgmlgjdjjhjmhenjmhigjhflkcfecefhfbejdijgiffdimglcddlhjbgjhZfjm+++jfighkgqkjfhgcbghZYdgjeigfgkklggdeffjjkiljlkkiecmkjhgqghhecdffjei+++XhjglhhehgfkjdikffhghjgnhfnqkhekjfimlpnkijmlmjkmiWlkhihcfcghlijhg+++ghgfhlhdemglhkicenjjhhijpjhfcbhbklheghlgghgfbadfkpplojgoggglhjhdh++dejjjjgigdehhldfiehgdkejhedeehbjkngZdfighhclfhlghmiljjkhhkjjegllkgfim++ilfheijfefcddjmhgiggkjhglhheehgjidZigljfihheilhnhicamnnehiiifgdfifgfhkj++fjffekhfilkljhgffihhjidddafdccihkigjkiefdfhmnlljrpsmkljjfjikhchl+++gblmhbhnmmghdmkcaghgjokcfcdhhegeihihjhhfhcohhgfigfcdcledgldbgida+++kihjhieeihfijifjqhcddcciknlhkggdklhghikijdfblnlmpmefZccfiefhhgZd++dfheiffgoigjghaghdkhgdbdbhkgcedghghknhjhekjii8emljlmijhjhpijjhkighfkklehfhljhll+++gegdZcfmgdaefhcdZfbXijj8ekemjcioilhfYigiedjhgdgjggdkggmicdfmjhkmgllkaglhok+++khlhhddhffgikkljgceeakchjhpkfmgccegichohhjmgedj8bZbagiomjlgcgkdjkghg+++kllcahfeecfeeiekbnf8kikichlgbdhilkkbnjkhhhmnlpi8glilocnkhbeZfgnilmpj+++fgdfjggelokinkgcenhqkhliYdcbfqjhfcejghembfggbaceaaehdcblifhmkbdccacaeeaXbfgeUZacabbmjfeefdehigjgcYadfidbgihBBjibjkigdBBkennopqspponoonmnqnrspmpqoopopqopqnrrmnnqqgjfdihggigjBBBliifqjjmeefdcekkihcijehgfdedhiihgndkjiggdbfbilXZghhjklojkdfdkpleghillajBBBhdcgknigmhmjihigfgfhhgggmjggjhhghijccXhkmjlihcdejnhiifbdbegggifjcBBBbhfjkihkjfhjiihhecjghcgeqgejlcgkeigeffcnhfjhliiiihhmgffijkehgghbgBBBlhjhedfklgkifiebjchcggfafgegkghehjpmkmgkgfkjmehfgbiiecdkigiiikjkeBBhhfXkgdikhifgkljhchilollWklmlknhjlgdhijkgilhgejofjlhgeehjikjelmgmkjocBBhelkeejndhgcfcelklkjlffjgglnhfiigjjirommsohiigiihgjdjiiakddiggaehjhijgfBBljmhjjhifhgjidfgelklggkehigheheckgaifWejjnjkfhmkjcldifiemfhpkgjlBBBbljgjjemicknnlgkomohklebdgjhhhijkiigkhmjjfghigdgijmibfbbjkgfgchgBBBgkfjhfgjjnmaeaeiedggmkkoiiehlnjgfcglbZjdhdjkjkjkonhfgghgjijikemkBBmljhchggpehlmnfeihnEjjhighgidchifgenemgjhgkliEnokhiimghflojknifkkimkdhhnjhjjehgBBBeeeehlecajmebglmjkjgnjfEcglfkplfegdcfgjenmmhninnggnmjjjfgfgifjiklnllikfgkiBBBhjilhebfdimcchlkjkkElffifgffjheehoknlchfcdmefklEgfgkggmdfieedhfjljhiBBBjlejpmehhihjhighlYkEgglglegklfdjeimhppmfiihmdhiEmfhibbcjlkjbgglnqmmfBBBegefigielhkpcdflhjgEejYZhgZdddgfhkicdigefhhieffgZdbjmnlgjgieehmiorfgdfefjkihhhihidimicjmXdhikjhabfiddhaYdggBBcihijgjmBBhkjfgfx532y896385zx15840xwzwwnmoospqpoomjlqqspkjooroqBBBhjffggjiiddhcgfeifeegpdggkhZjegdcejkgighijggiifmhjilcmidgolefleggnilgejBBBmjkljihifjfjjhmrqinmkisonkiilqjkjhkmZgmmmjjljgjninnikkmnhfmlmmpinBBBhkjjkhglnjfqpniikhommhghkjjllplhjokkjllijnoookjnhjehhfkiijhoklghiBBBplkjsronjjklihlleiojlglhfirkgklpiehklohgjmmjhmotmqiihihhjimkkpmlkBBingpkfhknkjojnohkihddjjkefgcaghegjngjojmbkicilmmjffgighkjpqgfcchedfjhBBjjlfhfkkflekjfdfgfidghbadYcfjglnmnkgjljhciidgjhkkdfikmdgjloggdidklkbdidBBkjighhjhkdkhliknhhhicfgegckjogdhcgffhhnlejegddkgffflfchcekigedehBBBficefddhcdegcjhggedjihkgiheidiehlkghgdcgicfiiejeimcgiiffcgifdeghBBBXgleehkkmiijgkalhkehZbhghcekiiimjdfkkgiijddiginiifegcZjhkiijkekfBBjnhjiifdhcdifecgfhgEhbfghcjhhchhlhdgehefggfegEhgaekjjjgcikkjjhihieeigZfZkkkgdfgBBBjeZfehmnklnjikigegfjglmEjglkijgiihieidijkgqjiflhklhgjheiedicigehjggjkifeeiBBBiggmchiionlgighigjmEjcjligjfjeegdgiejgiigfcdellejigikgghehhfehkjfjijBBBfemldhgkihiiihhjeghEjefeighidhfggjknkggjmkgiiifEdjibfbljejfiieiekiebBBBljhhgljcmlfgegiigejhohjiihiehiengehbdbcfhllmkgkgVlljklegdgflkfgdgiibeiileifhijghdbhhcdglmlcfiijhmnjenhlogigBBnlilhgogBBdZifffsronrsxpttsstpsvsuqehkjihkcYbcaaaYdbXcdcbaYaXbcBBBlfddaVeckgeYgdcWegcdegejebbUYfebdXiefbfkefZWddebcfjeYgggelgfYeegifvffhdBBBnjiebdffjabajgfdjghbjjjmihjjhhfjkinefmhckkejecffdfdghjgdbfllgkejgBBBiegkvnjekddhdlmhfcbhjjigidglmhgloefhlgjholigdkehddcbddhkhdibZhjlhBBBfeccijedeiefabgkeejgfiillgghddjdjihjjlhggnmfgeghodjjfgfhkdkhmkmklBBjkodfkefnnglmljjffjiniaehiiflgjhdkachgjhgniheeijifjcfgehfemlmjllmqjjhBBfigkmhmolflighgklmkggkhqjgklihikkhjklYcdfhkpihnhimkchggkkhkjiiiggheckhhBBhhfjgkccjhfiehaeeikfmhbYjifedkiniaiggmilifiglljkkhkhjfhifffjfimkBBBhlkjhgghjjhhiddegggeiicgdlhghhhmjlmgmllgjjgoliikmkmnffehmlfgkghiBBBjfeehhinnhfmimohhhfdfcgggVndfkfknikgkkkomonhjlfmklhjkijdmgcefkhjBBnrilhkmfeedffdilggiihlmmkqrkjnikkhiegcoppmnoooikifejngopkijmjgjdimlmmmlhijnpmigBBBkhllkkpkpplnkhigkjldaidigjnfjjdjjigslehjklimkhijoolmmsmnokmmknpqmntlmpnonoBBBmklinrtslqllrkonmjmEpqjjkhhllgimiiqriglikknecfnmgmomlnqnomljmlloopimBBBopkilkqjfjlmotnkgloEpnrojjgfkotomiooknohmmlkrstkjojifqqonlknkpljpmolBBBohflnminijikoknohhjEmgmklqokfedkikikpjjhmigfeksjnmhijiqgkljknmmnfnsqphjhhmajeikihkonolsqsmpqrspnmeglijvstsfKKopkklhggKKhg4x168957941x0240584343vux24104321x13yvvslitsrsqplopKKKgemigmmkhplkhdchihdcecilrnheVcfkkkjknffclmlfhghhjgkjhhgjhigcjeijcdeecihKKKijlkigjljhlslllcihnkhikijfimqomooqplllllicfcijeknlprinmmnihggiffkKKKghjimkkkmjnmlklnomnlolemlgigpngkjpiciiicjpfmjrnknmjmjeokikfeghjnjKKKkhmmkgjhlkhmnjnkjkhijoilpllnmsnhnjjakmnoqmniinmgkjhkjefogjmmhikmiKKomilknhjjgjkilfillnhejlroimieqnnmqnoifnpnllionmmomnhkrkjmongkggkjmupoKKghfgigeejknokmgqplgkeflkimhkihkhpjqilgejmgmiklmfnnjgdekjghokinmlieehikmKKhcgggiffiriljgjpjnpqjqmkjlkjojglmoimmqikjegmjhmnoijnjhlpibdeilkhKKKhrpgefbdejgeccfgkgkjibbimjkhgfkjhgjjfmjimmijeeZjcifdfijnklgjighhKKKfdceladicobknmijfjefkefhdkjdgeehfkgkikgfdikpokhihmmgfljhlhgfbieeKKhhcfchiholkjhkmekklkdbkicgfaXYeffgiadcbdeebdleafhidiecdeiigjhjcagcdfeejZgnigimeKKKegddbaccZheZfcedeecdjYcKaYiekhffgYgeeihbbdbbakehciKmifbSYbhZgceUZadcYdeefgKKKeecabbaZheaXYcebbaXedkbbebXXacbefdcbdfcdbXXcdhdeggbabYcfbhcbaZcbhfebKKKdchffncefajkebZWdccKlbfeddcgfdgfedhfcZZXacVZdcYKaXXaegdYYXaVadbdZWYeKKKbgebeZYWabbafbZeheXYccgehihefdglhfijiegjefabaechihZdghceddjfhkghhhdglejifnlfhjhjijmhighdegkmeeibeglkhggmhgiQQdgfkkpkhQQjesxtpnpmpmqqpuxyppsrpuwvqqqvwssoloqvunvrqrwekghfeckhQQQgfhggcdlgehmegfbihhfiggdckgihgfjhhhlkjgdjlijkllhmfjjloogbiegkdZghghecfdQQQieeddhfiiofjihdejhiglibdaVckiedkiihhkkjeifkeghdlnhkjaghhefgljimhgQQQlljihghmkigfmkigdgkhgghcfejfimifhheioihehddkfknkkojgdglmgefhhiihhQQQoljchbbikhceeipkgdggdgdklmhjhggdbihilddhigbjedjjckkmigdojnhicejekQQffgfefdcfjdgfdjgmgihfihjieghkfgciebfkdddThfeifildalhihiingcccikfcflZhQQefcdklheaeghheghlojfgfegeihihfdffhhdgdefafhhggeffieijihjdijjkhhkkjejmnkQQiahddflijopkiefjkjmhiklmlijfciijdggfafkkhikafjloolklhilpkjjnjnhhQQQfeigdkkkhlimgfigkjgihlhglqrlknjfijgccdghjkikggeljgghkeegpnjlpkhmQQQopmmdjijlidiggggakjmqkdedfichdiihiggcgnqpmhmjihihifgpkikbghlkjniQQmdffjknfkigjgbfceijQjeeedigbiijjkjmlkkeghiemkQcfhgigjghlrihfkfghfefbbfihcfkkjgjQQQmkmilhhqniijmidghimklgkQnkjohijlijiiiehlghkfiflqrkljjngljnkhjljkhbjljjmighQQQhUljegknijlhjihgiigglklnlqiliopeejlljkljmcifkifjfecgjmjmjikmihhiflijQQQholpnihjjihcgahgfhjebdadmgkeihikoljfjiljoegkighQhqogfglgfkmifceaigjoQQQmhfhdlcdghijimdgfijgfkkg";
var P=[[0,0,143],[0,0,159],[0,0,175],[0,0,191],[0,0,207],[0,0,223],[0,0,239],[0,0,255],[0,16,255],[0,32,255],[0,48,255],[0,64,255],[0,80,255],[0,96,255],[0,112,255],[0,128,255],[0,143,255],[0,159,255],[0,175,255],[0,191,255],[0,207,255],[0,223,255],[0,239,255],[0,255,255],[16,255,239],[32,255,223],[48,255,207],[64,255,191],[80,255,175],[96,255,159],[112,255,143],[128,255,128],[143,255,112],[159,255,96],[175,255,80],[191,255,64],[207,255,48],[223,255,32],[239,255,16],[255,255,0],[255,239,0],[255,223,0],[255,207,0],[255,191,0],[255,175,0],[255,159,0],[255,143,0],[255,128,0],[255,112,0],[255,96,0],[255,80,0],[255,64,0],[255,48,0],[255,32,0],[255,16,0],[255,0,0],[239,0,0],[223,0,0],[207,0,0],[191,0,0],[175,0,0],[159,0,0],[143,0,0],[128,0,0]];
var A="ABCDEFGHIJKLMNOPQRSTUVWXYZabcdefghijklmnopqrstuvwxyz0123456789+/";
var M={};for(var i=0;i<64;i++)M[A.charCodeAt(i)]=i;
var c=document.getElementById('c'),x=c.getContext('2d');
var W=1097,H=979,im=x.createImageData(W,H),d=im.data;
var rh=978/54;
for(var y=0;y<H;y++){
  var k=Math.floor((y+0.5)/rh); if(k>53)k=53;
  var off=k*W;
  for(var i=0;i<W;i++){
    var p=P[M[D.charCodeAt(off+i)]], o=(y*W+i)*4;
    d[o]=p[0];d[o+1]=p[1];d[o+2]=p[2];d[o+3]=255;
  }
}
x.putImageData(im,0,0);
})();
</script>
</body></html>
